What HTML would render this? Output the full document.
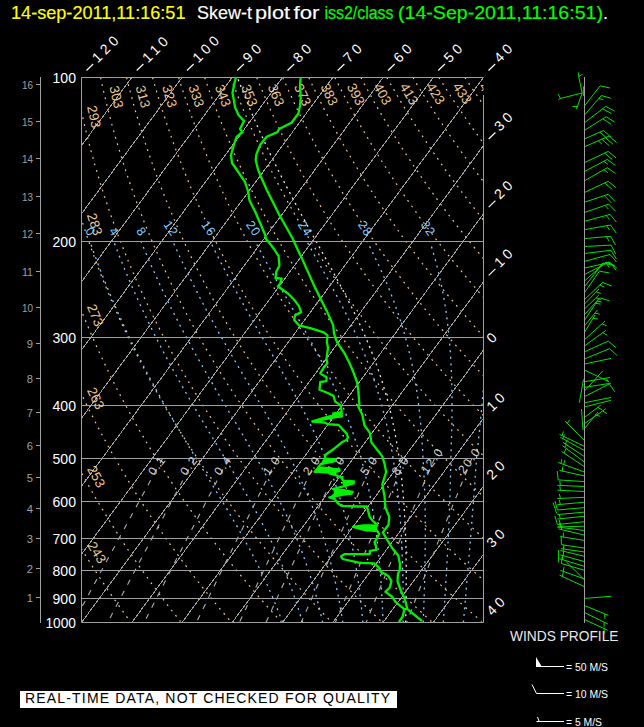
<!DOCTYPE html>
<html><head><meta charset="utf-8"><style>
html,body{margin:0;padding:0;background:#000;width:644px;height:727px;overflow:hidden}
svg{display:block;font-family:"Liberation Sans",sans-serif}
.t{position:absolute;white-space:nowrap;font-family:"Liberation Sans",sans-serif}
</style></head><body>
<svg width="644" height="727" viewBox="0 0 644 727">
<text x="11" y="18.7" font-size="18" fill="#ffff00" stroke="#ffff00" stroke-width="0.15" textLength="174.5" lengthAdjust="spacingAndGlyphs">14-sep-2011,11:16:51</text>
<text x="197" y="18.5" font-size="18" fill="#fff" stroke="#fff" stroke-width="0.15" textLength="55" lengthAdjust="spacingAndGlyphs">Skew-t</text>
<text x="255" y="18.5" font-size="18" fill="#fff" stroke="#fff" stroke-width="0.15" textLength="35" lengthAdjust="spacingAndGlyphs">plot</text>
<text x="293.5" y="18.5" font-size="18" fill="#fff" stroke="#fff" stroke-width="0.15" textLength="26" lengthAdjust="spacingAndGlyphs">for</text>
<text x="324.5" y="18.5" font-size="18" fill="#00ff00" stroke="#00ff00" stroke-width="0.15" textLength="69" lengthAdjust="spacingAndGlyphs">iss2/class</text>
<text x="398" y="18.5" font-size="18" fill="#00ff00" stroke="#00ff00" stroke-width="0.15" textLength="205" lengthAdjust="spacingAndGlyphs">(14-Sep-2011,11:16:51)</text>
<text x="603" y="18.5" font-size="18" fill="#fff" stroke="#fff" stroke-width="0.15">.</text>
<defs><clipPath id="box"><rect x="81.5" y="77.5" width="402.0" height="545.0"/></clipPath></defs>
<g clip-path="url(#box)">
<polyline points="-81.6,77.5 -81.7,79.9 -81.7,82.2 -81.7,84.6 -81.7,86.9 -81.6,89.3 -81.6,91.6 -81.6,94.0 -81.6,96.3 -81.6,98.7 -81.5,101.1 -81.5,103.4 -81.4,105.8 -81.4,108.1 -81.3,110.5 -81.3,112.8 -81.2,115.2 -81.1,117.5 -81.1,119.9 -81.0,122.2 -80.9,124.6 -80.8,127.0 -80.7,129.3 -80.6,131.7 -80.5,134.0 -80.4,136.4 -80.3,138.7 -80.2,141.1 -80.0,143.4 -79.9,145.8 -79.8,148.2 -79.6,150.5 -79.5,152.9 -79.3,155.2 -79.2,157.6 -79.0,159.9 -78.8,162.3 -78.7,164.6 -78.5,167.0 -78.3,169.4 -78.1,171.7 -77.9,174.1 -77.7,176.4 -77.5,178.8 -77.3,181.1 -77.1,183.5 -76.8,185.8 -76.6,188.2 -76.4,190.5 -76.1,192.9 -75.9,195.3 -75.6,197.6 -75.4,200.0 -75.1,202.3 -74.8,204.7 -74.5,207.0 -74.3,209.4 -74.0,211.7 -73.7,214.1 -73.4,216.5 -73.1,218.8 -72.8,221.2 -72.5,223.5 -72.1,225.9 -71.8,228.2 -71.5,230.6 -71.1,232.9 -70.8,235.3 -70.4,237.7 -70.1,240.0 -69.7,242.4 -69.3,244.7 -69.0,247.1 -68.6,249.4 -68.2,251.8 -67.8,254.1 -67.4,256.5 -67.0,258.8 -66.6,261.2 -66.2,263.6 -65.7,265.9 -65.3,268.3 -64.9,270.6 -64.4,273.0 -64.0,275.3 -63.5,277.7 -63.1,280.0 -62.6,282.4 -62.1,284.8 -61.7,287.1 -61.2,289.5 -60.7,291.8 -60.2,294.2 -59.7,296.5 -59.2,298.9 -58.6,301.2 -58.1,303.6 -57.6,305.9 -57.0,308.3 -56.5,310.7 -56.0,313.0 -55.4,315.4 -54.8,317.7 -54.3,320.1 -53.7,322.4 -53.1,324.8 -52.5,327.1 -51.9,329.5 -51.3,331.9 -50.7,334.2 -50.1,336.6 -49.5,338.9 -48.8,341.3 -48.2,343.6 -47.6,346.0 -46.9,348.3 -46.2,350.7 -45.6,353.1 -44.9,355.4 -44.2,357.8 -43.6,360.1 -42.9,362.5 -42.2,364.8 -41.5,367.2 -40.7,369.5 -40.0,371.9 -39.3,374.2 -38.6,376.6 -37.8,379.0 -37.1,381.3 -36.3,383.7 -35.6,386.0 -34.8,388.4 -34.0,390.7 -33.2,393.1 -32.4,395.4 -31.7,397.8 -30.8,400.2 -30.0,402.5 -29.2,404.9 -28.4,407.2 -27.6,409.6 -26.7,411.9 -25.9,414.3 -25.0,416.6 -24.2,419.0 -23.3,421.4 -22.4,423.7 -21.5,426.1 -20.6,428.4 -19.7,430.8 -18.8,433.1 -17.9,435.5 -17.0,437.8 -16.1,440.2 -15.1,442.5 -14.2,444.9 -13.2,447.3 -12.3,449.6 -11.3,452.0 -10.3,454.3 -9.3,456.7 -8.3,459.0 -7.3,461.4 -6.3,463.7 -5.3,466.1 -4.3,468.5 -3.3,470.8 -2.2,473.2 -1.2,475.5 -0.1,477.9 0.9,480.2 2.0,482.6 3.1,484.9 4.2,487.3 5.3,489.7 6.4,492.0 7.5,494.4 8.6,496.7 9.7,499.1 10.9,501.4 12.0,503.8 13.2,506.1 14.3,508.5 15.5,510.8 16.7,513.2 17.8,515.6 19.0,517.9 20.2,520.3 21.4,522.6 22.7,525.0 23.9,527.3 25.1,529.7 26.4,532.0 27.6,534.4 28.9,536.8 30.1,539.1 31.4,541.5 32.7,543.8 34.0,546.2 35.3,548.5 36.6,550.9 37.9,553.2 39.3,555.6 40.6,558.0 41.9,560.3 43.3,562.7 44.7,565.0 46.0,567.4 47.4,569.7 48.8,572.1 50.2,574.4 51.6,576.8 53.0,579.1 54.5,581.5 55.9,583.9 57.3,586.2 58.8,588.6 60.3,590.9 61.7,593.3 63.2,595.6 64.7,598.0 66.2,600.3 67.7,602.7 69.2,605.1 70.7,607.4 72.3,609.8 73.8,612.1 75.4,614.5 76.9,616.8 78.5,619.2 80.1,621.5" fill="none" stroke="#f0c890" stroke-width="1.2" stroke-dasharray="1.8 5"/>
<polyline points="-55.6,77.5 -55.5,79.9 -55.5,82.2 -55.4,84.6 -55.3,86.9 -55.2,89.3 -55.2,91.6 -55.1,94.0 -55.0,96.3 -54.9,98.7 -54.7,101.1 -54.6,103.4 -54.5,105.8 -54.4,108.1 -54.3,110.5 -54.1,112.8 -54.0,115.2 -53.8,117.5 -53.7,119.9 -53.5,122.2 -53.4,124.6 -53.2,127.0 -53.0,129.3 -52.8,131.7 -52.6,134.0 -52.5,136.4 -52.3,138.7 -52.1,141.1 -51.9,143.4 -51.6,145.8 -51.4,148.2 -51.2,150.5 -51.0,152.9 -50.7,155.2 -50.5,157.6 -50.2,159.9 -50.0,162.3 -49.7,164.6 -49.5,167.0 -49.2,169.4 -48.9,171.7 -48.7,174.1 -48.4,176.4 -48.1,178.8 -47.8,181.1 -47.5,183.5 -47.2,185.8 -46.8,188.2 -46.5,190.5 -46.2,192.9 -45.9,195.3 -45.5,197.6 -45.2,200.0 -44.8,202.3 -44.5,204.7 -44.1,207.0 -43.7,209.4 -43.4,211.7 -43.0,214.1 -42.6,216.5 -42.2,218.8 -41.8,221.2 -41.4,223.5 -41.0,225.9 -40.6,228.2 -40.2,230.6 -39.7,232.9 -39.3,235.3 -38.9,237.7 -38.4,240.0 -38.0,242.4 -37.5,244.7 -37.0,247.1 -36.6,249.4 -36.1,251.8 -35.6,254.1 -35.1,256.5 -34.6,258.8 -34.1,261.2 -33.6,263.6 -33.1,265.9 -32.6,268.3 -32.0,270.6 -31.5,273.0 -30.9,275.3 -30.4,277.7 -29.8,280.0 -29.3,282.4 -28.7,284.8 -28.1,287.1 -27.6,289.5 -27.0,291.8 -26.4,294.2 -25.8,296.5 -25.2,298.9 -24.5,301.2 -23.9,303.6 -23.3,305.9 -22.7,308.3 -22.0,310.7 -21.4,313.0 -20.7,315.4 -20.1,317.7 -19.4,320.1 -18.7,322.4 -18.0,324.8 -17.3,327.1 -16.6,329.5 -15.9,331.9 -15.2,334.2 -14.5,336.6 -13.8,338.9 -13.0,341.3 -12.3,343.6 -11.6,346.0 -10.8,348.3 -10.1,350.7 -9.3,353.1 -8.5,355.4 -7.7,357.8 -6.9,360.1 -6.1,362.5 -5.3,364.8 -4.5,367.2 -3.7,369.5 -2.9,371.9 -2.1,374.2 -1.2,376.6 -0.4,379.0 0.5,381.3 1.3,383.7 2.2,386.0 3.1,388.4 4.0,390.7 4.9,393.1 5.8,395.4 6.7,397.8 7.6,400.2 8.5,402.5 9.4,404.9 10.4,407.2 11.3,409.6 12.3,411.9 13.2,414.3 14.2,416.6 15.2,419.0 16.1,421.4 17.1,423.7 18.1,426.1 19.1,428.4 20.1,430.8 21.2,433.1 22.2,435.5 23.2,437.8 24.3,440.2 25.3,442.5 26.4,444.9 27.5,447.3 28.5,449.6 29.6,452.0 30.7,454.3 31.8,456.7 32.9,459.0 34.0,461.4 35.2,463.7 36.3,466.1 37.4,468.5 38.6,470.8 39.7,473.2 40.9,475.5 42.1,477.9 43.3,480.2 44.4,482.6 45.6,484.9 46.9,487.3 48.1,489.7 49.3,492.0 50.5,494.4 51.8,496.7 53.0,499.1 54.3,501.4 55.5,503.8 56.8,506.1 58.1,508.5 59.4,510.8 60.7,513.2 62.0,515.6 63.3,517.9 64.6,520.3 66.0,522.6 67.3,525.0 68.7,527.3 70.0,529.7 71.4,532.0 72.8,534.4 74.2,536.8 75.6,539.1 77.0,541.5 78.4,543.8 79.8,546.2 81.3,548.5 82.7,550.9 84.1,553.2 85.6,555.6 87.1,558.0 88.6,560.3 90.0,562.7 91.5,565.0 93.0,567.4 94.6,569.7 96.1,572.1 97.6,574.4 99.2,576.8 100.7,579.1 102.3,581.5 103.9,583.9 105.4,586.2 107.0,588.6 108.6,590.9 110.2,593.3 111.8,595.6 113.5,598.0 115.1,600.3 116.8,602.7 118.4,605.1 120.1,607.4 121.8,609.8 123.4,612.1 125.1,614.5 126.8,616.8 128.6,619.2 130.3,621.5" fill="none" stroke="#f0c890" stroke-width="1.2" stroke-dasharray="1.8 5"/>
<polyline points="-29.6,77.5 -29.4,79.9 -29.3,82.2 -29.2,84.6 -29.0,86.9 -28.8,89.3 -28.7,91.6 -28.5,94.0 -28.3,96.3 -28.2,98.7 -28.0,101.1 -27.8,103.4 -27.6,105.8 -27.4,108.1 -27.2,110.5 -27.0,112.8 -26.7,115.2 -26.5,117.5 -26.3,119.9 -26.0,122.2 -25.8,124.6 -25.6,127.0 -25.3,129.3 -25.0,131.7 -24.8,134.0 -24.5,136.4 -24.2,138.7 -24.0,141.1 -23.7,143.4 -23.4,145.8 -23.1,148.2 -22.8,150.5 -22.5,152.9 -22.1,155.2 -21.8,157.6 -21.5,159.9 -21.2,162.3 -20.8,164.6 -20.5,167.0 -20.1,169.4 -19.8,171.7 -19.4,174.1 -19.0,176.4 -18.7,178.8 -18.3,181.1 -17.9,183.5 -17.5,185.8 -17.1,188.2 -16.7,190.5 -16.3,192.9 -15.9,195.3 -15.4,197.6 -15.0,200.0 -14.6,202.3 -14.1,204.7 -13.7,207.0 -13.2,209.4 -12.8,211.7 -12.3,214.1 -11.8,216.5 -11.3,218.8 -10.9,221.2 -10.4,223.5 -9.9,225.9 -9.4,228.2 -8.9,230.6 -8.3,232.9 -7.8,235.3 -7.3,237.7 -6.7,240.0 -6.2,242.4 -5.6,244.7 -5.1,247.1 -4.5,249.4 -4.0,251.8 -3.4,254.1 -2.8,256.5 -2.2,258.8 -1.6,261.2 -1.0,263.6 -0.4,265.9 0.2,268.3 0.8,270.6 1.5,273.0 2.1,275.3 2.7,277.7 3.4,280.0 4.1,282.4 4.7,284.8 5.4,287.1 6.1,289.5 6.7,291.8 7.4,294.2 8.1,296.5 8.8,298.9 9.6,301.2 10.3,303.6 11.0,305.9 11.7,308.3 12.5,310.7 13.2,313.0 14.0,315.4 14.7,317.7 15.5,320.1 16.3,322.4 17.1,324.8 17.8,327.1 18.6,329.5 19.4,331.9 20.3,334.2 21.1,336.6 21.9,338.9 22.7,341.3 23.6,343.6 24.4,346.0 25.3,348.3 26.1,350.7 27.0,353.1 27.9,355.4 28.8,357.8 29.7,360.1 30.6,362.5 31.5,364.8 32.4,367.2 33.3,369.5 34.2,371.9 35.2,374.2 36.1,376.6 37.1,379.0 38.0,381.3 39.0,383.7 40.0,386.0 41.0,388.4 42.0,390.7 43.0,393.1 44.0,395.4 45.0,397.8 46.0,400.2 47.0,402.5 48.1,404.9 49.1,407.2 50.2,409.6 51.2,411.9 52.3,414.3 53.4,416.6 54.5,419.0 55.6,421.4 56.7,423.7 57.8,426.1 58.9,428.4 60.0,430.8 61.1,433.1 62.3,435.5 63.4,437.8 64.6,440.2 65.8,442.5 66.9,444.9 68.1,447.3 69.3,449.6 70.5,452.0 71.7,454.3 72.9,456.7 74.2,459.0 75.4,461.4 76.6,463.7 77.9,466.1 79.2,468.5 80.4,470.8 81.7,473.2 83.0,475.5 84.3,477.9 85.6,480.2 86.9,482.6 88.2,484.9 89.5,487.3 90.9,489.7 92.2,492.0 93.6,494.4 94.9,496.7 96.3,499.1 97.7,501.4 99.1,503.8 100.5,506.1 101.9,508.5 103.3,510.8 104.7,513.2 106.2,515.6 107.6,517.9 109.1,520.3 110.5,522.6 112.0,525.0 113.5,527.3 115.0,529.7 116.5,532.0 118.0,534.4 119.5,536.8 121.0,539.1 122.6,541.5 124.1,543.8 125.7,546.2 127.2,548.5 128.8,550.9 130.4,553.2 132.0,555.6 133.6,558.0 135.2,560.3 136.8,562.7 138.4,565.0 140.1,567.4 141.7,569.7 143.4,572.1 145.0,574.4 146.7,576.8 148.4,579.1 150.1,581.5 151.8,583.9 153.5,586.2 155.3,588.6 157.0,590.9 158.7,593.3 160.5,595.6 162.3,598.0 164.0,600.3 165.8,602.7 167.6,605.1 169.4,607.4 171.2,609.8 173.1,612.1 174.9,614.5 176.8,616.8 178.6,619.2 180.5,621.5" fill="none" stroke="#f0c890" stroke-width="1.2" stroke-dasharray="1.8 5"/>
<polyline points="-3.6,77.5 -3.3,79.9 -3.1,82.2 -2.9,84.6 -2.7,86.9 -2.4,89.3 -2.2,91.6 -2.0,94.0 -1.7,96.3 -1.5,98.7 -1.2,101.1 -0.9,103.4 -0.6,105.8 -0.4,108.1 -0.1,110.5 0.2,112.8 0.5,115.2 0.8,117.5 1.1,119.9 1.4,122.2 1.7,124.6 2.1,127.0 2.4,129.3 2.7,131.7 3.1,134.0 3.4,136.4 3.8,138.7 4.1,141.1 4.5,143.4 4.9,145.8 5.3,148.2 5.7,150.5 6.0,152.9 6.4,155.2 6.8,157.6 7.3,159.9 7.7,162.3 8.1,164.6 8.5,167.0 9.0,169.4 9.4,171.7 9.8,174.1 10.3,176.4 10.8,178.8 11.2,181.1 11.7,183.5 12.2,185.8 12.6,188.2 13.1,190.5 13.6,192.9 14.1,195.3 14.6,197.6 15.2,200.0 15.7,202.3 16.2,204.7 16.7,207.0 17.3,209.4 17.8,211.7 18.4,214.1 19.0,216.5 19.5,218.8 20.1,221.2 20.7,223.5 21.3,225.9 21.9,228.2 22.5,230.6 23.1,232.9 23.7,235.3 24.3,237.7 24.9,240.0 25.6,242.4 26.2,244.7 26.8,247.1 27.5,249.4 28.2,251.8 28.8,254.1 29.5,256.5 30.2,258.8 30.9,261.2 31.6,263.6 32.3,265.9 33.0,268.3 33.7,270.6 34.4,273.0 35.2,275.3 35.9,277.7 36.6,280.0 37.4,282.4 38.1,284.8 38.9,287.1 39.7,289.5 40.5,291.8 41.2,294.2 42.0,296.5 42.8,298.9 43.7,301.2 44.5,303.6 45.3,305.9 46.1,308.3 47.0,310.7 47.8,313.0 48.7,315.4 49.5,317.7 50.4,320.1 51.3,322.4 52.1,324.8 53.0,327.1 53.9,329.5 54.8,331.9 55.7,334.2 56.7,336.6 57.6,338.9 58.5,341.3 59.5,343.6 60.4,346.0 61.4,348.3 62.3,350.7 63.3,353.1 64.3,355.4 65.3,357.8 66.3,360.1 67.3,362.5 68.3,364.8 69.3,367.2 70.3,369.5 71.4,371.9 72.4,374.2 73.5,376.6 74.5,379.0 75.6,381.3 76.7,383.7 77.8,386.0 78.8,388.4 79.9,390.7 81.0,393.1 82.2,395.4 83.3,397.8 84.4,400.2 85.6,402.5 86.7,404.9 87.9,407.2 89.0,409.6 90.2,411.9 91.4,414.3 92.6,416.6 93.8,419.0 95.0,421.4 96.2,423.7 97.4,426.1 98.6,428.4 99.9,430.8 101.1,433.1 102.4,435.5 103.6,437.8 104.9,440.2 106.2,442.5 107.5,444.9 108.8,447.3 110.1,449.6 111.4,452.0 112.7,454.3 114.1,456.7 115.4,459.0 116.8,461.4 118.1,463.7 119.5,466.1 120.9,468.5 122.3,470.8 123.7,473.2 125.1,475.5 126.5,477.9 127.9,480.2 129.3,482.6 130.8,484.9 132.2,487.3 133.7,489.7 135.1,492.0 136.6,494.4 138.1,496.7 139.6,499.1 141.1,501.4 142.6,503.8 144.1,506.1 145.7,508.5 147.2,510.8 148.8,513.2 150.3,515.6 151.9,517.9 153.5,520.3 155.1,522.6 156.7,525.0 158.3,527.3 159.9,529.7 161.5,532.0 163.2,534.4 164.8,536.8 166.5,539.1 168.1,541.5 169.8,543.8 171.5,546.2 173.2,548.5 174.9,550.9 176.6,553.2 178.3,555.6 180.0,558.0 181.8,560.3 183.5,562.7 185.3,565.0 187.1,567.4 188.9,569.7 190.7,572.1 192.5,574.4 194.3,576.8 196.1,579.1 197.9,581.5 199.8,583.9 201.6,586.2 203.5,588.6 205.4,590.9 207.2,593.3 209.1,595.6 211.0,598.0 213.0,600.3 214.9,602.7 216.8,605.1 218.8,607.4 220.7,609.8 222.7,612.1 224.7,614.5 226.7,616.8 228.7,619.2 230.7,621.5" fill="none" stroke="#f0c890" stroke-width="1.2" stroke-dasharray="1.8 5"/>
<polyline points="22.5,77.5 22.8,79.9 23.0,82.2 23.3,84.6 23.6,86.9 24.0,89.3 24.3,91.6 24.6,94.0 24.9,96.3 25.2,98.7 25.6,101.1 25.9,103.4 26.3,105.8 26.6,108.1 27.0,110.5 27.4,112.8 27.7,115.2 28.1,117.5 28.5,119.9 28.9,122.2 29.3,124.6 29.7,127.0 30.1,129.3 30.5,131.7 30.9,134.0 31.4,136.4 31.8,138.7 32.3,141.1 32.7,143.4 33.2,145.8 33.6,148.2 34.1,150.5 34.6,152.9 35.0,155.2 35.5,157.6 36.0,159.9 36.5,162.3 37.0,164.6 37.5,167.0 38.0,169.4 38.6,171.7 39.1,174.1 39.6,176.4 40.2,178.8 40.7,181.1 41.3,183.5 41.8,185.8 42.4,188.2 43.0,190.5 43.6,192.9 44.1,195.3 44.7,197.6 45.3,200.0 45.9,202.3 46.6,204.7 47.2,207.0 47.8,209.4 48.4,211.7 49.1,214.1 49.7,216.5 50.4,218.8 51.1,221.2 51.7,223.5 52.4,225.9 53.1,228.2 53.8,230.6 54.5,232.9 55.2,235.3 55.9,237.7 56.6,240.0 57.3,242.4 58.0,244.7 58.8,247.1 59.5,249.4 60.3,251.8 61.0,254.1 61.8,256.5 62.6,258.8 63.4,261.2 64.2,263.6 64.9,265.9 65.7,268.3 66.6,270.6 67.4,273.0 68.2,275.3 69.0,277.7 69.9,280.0 70.7,282.4 71.6,284.8 72.4,287.1 73.3,289.5 74.2,291.8 75.1,294.2 75.9,296.5 76.8,298.9 77.7,301.2 78.7,303.6 79.6,305.9 80.5,308.3 81.4,310.7 82.4,313.0 83.3,315.4 84.3,317.7 85.3,320.1 86.2,322.4 87.2,324.8 88.2,327.1 89.2,329.5 90.2,331.9 91.2,334.2 92.2,336.6 93.3,338.9 94.3,341.3 95.4,343.6 96.4,346.0 97.5,348.3 98.5,350.7 99.6,353.1 100.7,355.4 101.8,357.8 102.9,360.1 104.0,362.5 105.1,364.8 106.2,367.2 107.4,369.5 108.5,371.9 109.7,374.2 110.8,376.6 112.0,379.0 113.2,381.3 114.3,383.7 115.5,386.0 116.7,388.4 117.9,390.7 119.1,393.1 120.4,395.4 121.6,397.8 122.8,400.2 124.1,402.5 125.3,404.9 126.6,407.2 127.9,409.6 129.2,411.9 130.5,414.3 131.8,416.6 133.1,419.0 134.4,421.4 135.7,423.7 137.0,426.1 138.4,428.4 139.7,430.8 141.1,433.1 142.5,435.5 143.9,437.8 145.2,440.2 146.6,442.5 148.0,444.9 149.5,447.3 150.9,449.6 152.3,452.0 153.8,454.3 155.2,456.7 156.7,459.0 158.1,461.4 159.6,463.7 161.1,466.1 162.6,468.5 164.1,470.8 165.6,473.2 167.1,475.5 168.7,477.9 170.2,480.2 171.8,482.6 173.3,484.9 174.9,487.3 176.5,489.7 178.1,492.0 179.7,494.4 181.3,496.7 182.9,499.1 184.5,501.4 186.2,503.8 187.8,506.1 189.5,508.5 191.1,510.8 192.8,513.2 194.5,515.6 196.2,517.9 197.9,520.3 199.6,522.6 201.3,525.0 203.1,527.3 204.8,529.7 206.6,532.0 208.3,534.4 210.1,536.8 211.9,539.1 213.7,541.5 215.5,543.8 217.3,546.2 219.1,548.5 221.0,550.9 222.8,553.2 224.7,555.6 226.5,558.0 228.4,560.3 230.3,562.7 232.2,565.0 234.1,567.4 236.0,569.7 237.9,572.1 239.9,574.4 241.8,576.8 243.8,579.1 245.8,581.5 247.7,583.9 249.7,586.2 251.7,588.6 253.7,590.9 255.8,593.3 257.8,595.6 259.8,598.0 261.9,600.3 264.0,602.7 266.0,605.1 268.1,607.4 270.2,609.8 272.3,612.1 274.4,614.5 276.6,616.8 278.7,619.2 280.9,621.5" fill="none" stroke="#f0c890" stroke-width="1.2" stroke-dasharray="1.8 5"/>
<polyline points="48.5,77.5 48.9,79.9 49.2,82.2 49.6,84.6 50.0,86.9 50.4,89.3 50.7,91.6 51.1,94.0 51.5,96.3 52.0,98.7 52.4,101.1 52.8,103.4 53.2,105.8 53.6,108.1 54.1,110.5 54.5,112.8 55.0,115.2 55.4,117.5 55.9,119.9 56.4,122.2 56.8,124.6 57.3,127.0 57.8,129.3 58.3,131.7 58.8,134.0 59.3,136.4 59.8,138.7 60.4,141.1 60.9,143.4 61.4,145.8 62.0,148.2 62.5,150.5 63.1,152.9 63.6,155.2 64.2,157.6 64.8,159.9 65.3,162.3 65.9,164.6 66.5,167.0 67.1,169.4 67.7,171.7 68.3,174.1 68.9,176.4 69.6,178.8 70.2,181.1 70.8,183.5 71.5,185.8 72.1,188.2 72.8,190.5 73.5,192.9 74.1,195.3 74.8,197.6 75.5,200.0 76.2,202.3 76.9,204.7 77.6,207.0 78.3,209.4 79.1,211.7 79.8,214.1 80.5,216.5 81.3,218.8 82.0,221.2 82.8,223.5 83.5,225.9 84.3,228.2 85.1,230.6 85.9,232.9 86.7,235.3 87.5,237.7 88.3,240.0 89.1,242.4 89.9,244.7 90.7,247.1 91.6,249.4 92.4,251.8 93.3,254.1 94.1,256.5 95.0,258.8 95.9,261.2 96.7,263.6 97.6,265.9 98.5,268.3 99.4,270.6 100.3,273.0 101.2,275.3 102.2,277.7 103.1,280.0 104.0,282.4 105.0,284.8 106.0,287.1 106.9,289.5 107.9,291.8 108.9,294.2 109.9,296.5 110.8,298.9 111.8,301.2 112.9,303.6 113.9,305.9 114.9,308.3 115.9,310.7 117.0,313.0 118.0,315.4 119.1,317.7 120.1,320.1 121.2,322.4 122.3,324.8 123.4,327.1 124.5,329.5 125.6,331.9 126.7,334.2 127.8,336.6 129.0,338.9 130.1,341.3 131.2,343.6 132.4,346.0 133.6,348.3 134.7,350.7 135.9,353.1 137.1,355.4 138.3,357.8 139.5,360.1 140.7,362.5 141.9,364.8 143.2,367.2 144.4,369.5 145.6,371.9 146.9,374.2 148.2,376.6 149.4,379.0 150.7,381.3 152.0,383.7 153.3,386.0 154.6,388.4 155.9,390.7 157.2,393.1 158.6,395.4 159.9,397.8 161.3,400.2 162.6,402.5 164.0,404.9 165.4,407.2 166.7,409.6 168.1,411.9 169.5,414.3 171.0,416.6 172.4,419.0 173.8,421.4 175.2,423.7 176.7,426.1 178.1,428.4 179.6,430.8 181.1,433.1 182.6,435.5 184.1,437.8 185.6,440.2 187.1,442.5 188.6,444.9 190.1,447.3 191.7,449.6 193.2,452.0 194.8,454.3 196.3,456.7 197.9,459.0 199.5,461.4 201.1,463.7 202.7,466.1 204.3,468.5 205.9,470.8 207.6,473.2 209.2,475.5 210.9,477.9 212.5,480.2 214.2,482.6 215.9,484.9 217.6,487.3 219.3,489.7 221.0,492.0 222.7,494.4 224.5,496.7 226.2,499.1 227.9,501.4 229.7,503.8 231.5,506.1 233.3,508.5 235.0,510.8 236.9,513.2 238.7,515.6 240.5,517.9 242.3,520.3 244.2,522.6 246.0,525.0 247.9,527.3 249.7,529.7 251.6,532.0 253.5,534.4 255.4,536.8 257.3,539.1 259.3,541.5 261.2,543.8 263.1,546.2 265.1,548.5 267.1,550.9 269.0,553.2 271.0,555.6 273.0,558.0 275.0,560.3 277.0,562.7 279.1,565.0 281.1,567.4 283.2,569.7 285.2,572.1 287.3,574.4 289.4,576.8 291.5,579.1 293.6,581.5 295.7,583.9 297.8,586.2 300.0,588.6 302.1,590.9 304.3,593.3 306.4,595.6 308.6,598.0 310.8,600.3 313.0,602.7 315.2,605.1 317.5,607.4 319.7,609.8 321.9,612.1 324.2,614.5 326.5,616.8 328.8,619.2 331.1,621.5" fill="none" stroke="#f0c890" stroke-width="1.2" stroke-dasharray="1.8 5"/>
<polyline points="74.5,77.5 75.0,79.9 75.4,82.2 75.8,84.6 76.3,86.9 76.8,89.3 77.2,91.6 77.7,94.0 78.2,96.3 78.7,98.7 79.1,101.1 79.6,103.4 80.1,105.8 80.7,108.1 81.2,110.5 81.7,112.8 82.2,115.2 82.8,117.5 83.3,119.9 83.8,122.2 84.4,124.6 85.0,127.0 85.5,129.3 86.1,131.7 86.7,134.0 87.3,136.4 87.9,138.7 88.5,141.1 89.1,143.4 89.7,145.8 90.3,148.2 90.9,150.5 91.6,152.9 92.2,155.2 92.9,157.6 93.5,159.9 94.2,162.3 94.8,164.6 95.5,167.0 96.2,169.4 96.9,171.7 97.6,174.1 98.3,176.4 99.0,178.8 99.7,181.1 100.4,183.5 101.2,185.8 101.9,188.2 102.6,190.5 103.4,192.9 104.1,195.3 104.9,197.6 105.7,200.0 106.5,202.3 107.3,204.7 108.0,207.0 108.8,209.4 109.7,211.7 110.5,214.1 111.3,216.5 112.1,218.8 113.0,221.2 113.8,223.5 114.7,225.9 115.5,228.2 116.4,230.6 117.3,232.9 118.1,235.3 119.0,237.7 119.9,240.0 120.8,242.4 121.7,244.7 122.7,247.1 123.6,249.4 124.5,251.8 125.5,254.1 126.4,256.5 127.4,258.8 128.3,261.2 129.3,263.6 130.3,265.9 131.3,268.3 132.3,270.6 133.3,273.0 134.3,275.3 135.3,277.7 136.3,280.0 137.4,282.4 138.4,284.8 139.5,287.1 140.5,289.5 141.6,291.8 142.7,294.2 143.8,296.5 144.8,298.9 145.9,301.2 147.1,303.6 148.2,305.9 149.3,308.3 150.4,310.7 151.6,313.0 152.7,315.4 153.9,317.7 155.0,320.1 156.2,322.4 157.4,324.8 158.6,327.1 159.8,329.5 161.0,331.9 162.2,334.2 163.4,336.6 164.6,338.9 165.9,341.3 167.1,343.6 168.4,346.0 169.7,348.3 170.9,350.7 172.2,353.1 173.5,355.4 174.8,357.8 176.1,360.1 177.4,362.5 178.7,364.8 180.1,367.2 181.4,369.5 182.8,371.9 184.1,374.2 185.5,376.6 186.9,379.0 188.3,381.3 189.7,383.7 191.1,386.0 192.5,388.4 193.9,390.7 195.3,393.1 196.8,395.4 198.2,397.8 199.7,400.2 201.2,402.5 202.6,404.9 204.1,407.2 205.6,409.6 207.1,411.9 208.6,414.3 210.2,416.6 211.7,419.0 213.2,421.4 214.8,423.7 216.3,426.1 217.9,428.4 219.5,430.8 221.1,433.1 222.7,435.5 224.3,437.8 225.9,440.2 227.5,442.5 229.2,444.9 230.8,447.3 232.5,449.6 234.1,452.0 235.8,454.3 237.5,456.7 239.2,459.0 240.9,461.4 242.6,463.7 244.3,466.1 246.0,468.5 247.8,470.8 249.5,473.2 251.3,475.5 253.1,477.9 254.9,480.2 256.7,482.6 258.5,484.9 260.3,487.3 262.1,489.7 263.9,492.0 265.8,494.4 267.6,496.7 269.5,499.1 271.4,501.4 273.2,503.8 275.1,506.1 277.0,508.5 279.0,510.8 280.9,513.2 282.8,515.6 284.8,517.9 286.7,520.3 288.7,522.6 290.7,525.0 292.7,527.3 294.7,529.7 296.7,532.0 298.7,534.4 300.7,536.8 302.8,539.1 304.8,541.5 306.9,543.8 309.0,546.2 311.0,548.5 313.1,550.9 315.2,553.2 317.4,555.6 319.5,558.0 321.6,560.3 323.8,562.7 326.0,565.0 328.1,567.4 330.3,569.7 332.5,572.1 334.7,574.4 336.9,576.8 339.2,579.1 341.4,581.5 343.7,583.9 345.9,586.2 348.2,588.6 350.5,590.9 352.8,593.3 355.1,595.6 357.4,598.0 359.7,600.3 362.1,602.7 364.4,605.1 366.8,607.4 369.2,609.8 371.6,612.1 374.0,614.5 376.4,616.8 378.8,619.2 381.2,621.5" fill="none" stroke="#f0c890" stroke-width="1.2" stroke-dasharray="1.8 5"/>
<polyline points="100.6,77.5 101.1,79.9 101.6,82.2 102.1,84.6 102.6,86.9 103.2,89.3 103.7,91.6 104.2,94.0 104.8,96.3 105.4,98.7 105.9,101.1 106.5,103.4 107.1,105.8 107.7,108.1 108.3,110.5 108.9,112.8 109.5,115.2 110.1,117.5 110.7,119.9 111.3,122.2 111.9,124.6 112.6,127.0 113.2,129.3 113.9,131.7 114.5,134.0 115.2,136.4 115.9,138.7 116.6,141.1 117.3,143.4 117.9,145.8 118.6,148.2 119.4,150.5 120.1,152.9 120.8,155.2 121.5,157.6 122.3,159.9 123.0,162.3 123.8,164.6 124.5,167.0 125.3,169.4 126.0,171.7 126.8,174.1 127.6,176.4 128.4,178.8 129.2,181.1 130.0,183.5 130.8,185.8 131.6,188.2 132.5,190.5 133.3,192.9 134.2,195.3 135.0,197.6 135.9,200.0 136.7,202.3 137.6,204.7 138.5,207.0 139.4,209.4 140.3,211.7 141.2,214.1 142.1,216.5 143.0,218.8 143.9,221.2 144.9,223.5 145.8,225.9 146.7,228.2 147.7,230.6 148.7,232.9 149.6,235.3 150.6,237.7 151.6,240.0 152.6,242.4 153.6,244.7 154.6,247.1 155.6,249.4 156.6,251.8 157.7,254.1 158.7,256.5 159.8,258.8 160.8,261.2 161.9,263.6 163.0,265.9 164.1,268.3 165.1,270.6 166.2,273.0 167.3,275.3 168.5,277.7 169.6,280.0 170.7,282.4 171.8,284.8 173.0,287.1 174.1,289.5 175.3,291.8 176.5,294.2 177.7,296.5 178.8,298.9 180.0,301.2 181.2,303.6 182.5,305.9 183.7,308.3 184.9,310.7 186.1,313.0 187.4,315.4 188.6,317.7 189.9,320.1 191.2,322.4 192.5,324.8 193.8,327.1 195.0,329.5 196.4,331.9 197.7,334.2 199.0,336.6 200.3,338.9 201.7,341.3 203.0,343.6 204.4,346.0 205.7,348.3 207.1,350.7 208.5,353.1 209.9,355.4 211.3,357.8 212.7,360.1 214.1,362.5 215.6,364.8 217.0,367.2 218.4,369.5 219.9,371.9 221.4,374.2 222.8,376.6 224.3,379.0 225.8,381.3 227.3,383.7 228.8,386.0 230.4,388.4 231.9,390.7 233.4,393.1 235.0,395.4 236.5,397.8 238.1,400.2 239.7,402.5 241.3,404.9 242.9,407.2 244.5,409.6 246.1,411.9 247.7,414.3 249.3,416.6 251.0,419.0 252.6,421.4 254.3,423.7 256.0,426.1 257.7,428.4 259.4,430.8 261.1,433.1 262.8,435.5 264.5,437.8 266.2,440.2 268.0,442.5 269.7,444.9 271.5,447.3 273.2,449.6 275.0,452.0 276.8,454.3 278.6,456.7 280.4,459.0 282.2,461.4 284.1,463.7 285.9,466.1 287.8,468.5 289.6,470.8 291.5,473.2 293.4,475.5 295.3,477.9 297.2,480.2 299.1,482.6 301.0,484.9 303.0,487.3 304.9,489.7 306.9,492.0 308.8,494.4 310.8,496.7 312.8,499.1 314.8,501.4 316.8,503.8 318.8,506.1 320.8,508.5 322.9,510.8 324.9,513.2 327.0,515.6 329.1,517.9 331.1,520.3 333.2,522.6 335.3,525.0 337.5,527.3 339.6,529.7 341.7,532.0 343.9,534.4 346.0,536.8 348.2,539.1 350.4,541.5 352.6,543.8 354.8,546.2 357.0,548.5 359.2,550.9 361.5,553.2 363.7,555.6 366.0,558.0 368.3,560.3 370.5,562.7 372.8,565.0 375.1,567.4 377.5,569.7 379.8,572.1 382.1,574.4 384.5,576.8 386.8,579.1 389.2,581.5 391.6,583.9 394.0,586.2 396.4,588.6 398.8,590.9 401.3,593.3 403.7,595.6 406.2,598.0 408.7,600.3 411.1,602.7 413.6,605.1 416.1,607.4 418.7,609.8 421.2,612.1 423.7,614.5 426.3,616.8 428.9,619.2 431.4,621.5" fill="none" stroke="#f0c890" stroke-width="1.2" stroke-dasharray="1.8 5"/>
<polyline points="126.6,77.5 127.2,79.9 127.8,82.2 128.3,84.6 128.9,86.9 129.6,89.3 130.2,91.6 130.8,94.0 131.4,96.3 132.1,98.7 132.7,101.1 133.3,103.4 134.0,105.8 134.7,108.1 135.3,110.5 136.0,112.8 136.7,115.2 137.4,117.5 138.1,119.9 138.8,122.2 139.5,124.6 140.2,127.0 140.9,129.3 141.7,131.7 142.4,134.0 143.2,136.4 143.9,138.7 144.7,141.1 145.4,143.4 146.2,145.8 147.0,148.2 147.8,150.5 148.6,152.9 149.4,155.2 150.2,157.6 151.0,159.9 151.8,162.3 152.7,164.6 153.5,167.0 154.4,169.4 155.2,171.7 156.1,174.1 156.9,176.4 157.8,178.8 158.7,181.1 159.6,183.5 160.5,185.8 161.4,188.2 162.3,190.5 163.2,192.9 164.2,195.3 165.1,197.6 166.0,200.0 167.0,202.3 167.9,204.7 168.9,207.0 169.9,209.4 170.9,211.7 171.9,214.1 172.9,216.5 173.9,218.8 174.9,221.2 175.9,223.5 176.9,225.9 178.0,228.2 179.0,230.6 180.1,232.9 181.1,235.3 182.2,237.7 183.3,240.0 184.4,242.4 185.4,244.7 186.5,247.1 187.7,249.4 188.8,251.8 189.9,254.1 191.0,256.5 192.2,258.8 193.3,261.2 194.5,263.6 195.6,265.9 196.8,268.3 198.0,270.6 199.2,273.0 200.4,275.3 201.6,277.7 202.8,280.0 204.0,282.4 205.3,284.8 206.5,287.1 207.8,289.5 209.0,291.8 210.3,294.2 211.6,296.5 212.8,298.9 214.1,301.2 215.4,303.6 216.8,305.9 218.1,308.3 219.4,310.7 220.7,313.0 222.1,315.4 223.4,317.7 224.8,320.1 226.2,322.4 227.5,324.8 228.9,327.1 230.3,329.5 231.7,331.9 233.2,334.2 234.6,336.6 236.0,338.9 237.5,341.3 238.9,343.6 240.4,346.0 241.8,348.3 243.3,350.7 244.8,353.1 246.3,355.4 247.8,357.8 249.3,360.1 250.8,362.5 252.4,364.8 253.9,367.2 255.5,369.5 257.0,371.9 258.6,374.2 260.2,376.6 261.8,379.0 263.4,381.3 265.0,383.7 266.6,386.0 268.2,388.4 269.9,390.7 271.5,393.1 273.2,395.4 274.9,397.8 276.5,400.2 278.2,402.5 279.9,404.9 281.6,407.2 283.3,409.6 285.1,411.9 286.8,414.3 288.5,416.6 290.3,419.0 292.1,421.4 293.8,423.7 295.6,426.1 297.4,428.4 299.2,430.8 301.0,433.1 302.9,435.5 304.7,437.8 306.5,440.2 308.4,442.5 310.3,444.9 312.1,447.3 314.0,449.6 315.9,452.0 317.8,454.3 319.7,456.7 321.7,459.0 323.6,461.4 325.6,463.7 327.5,466.1 329.5,468.5 331.5,470.8 333.5,473.2 335.5,475.5 337.5,477.9 339.5,480.2 341.5,482.6 343.6,484.9 345.6,487.3 347.7,489.7 349.8,492.0 351.9,494.4 354.0,496.7 356.1,499.1 358.2,501.4 360.3,503.8 362.5,506.1 364.6,508.5 366.8,510.8 369.0,513.2 371.2,515.6 373.4,517.9 375.6,520.3 377.8,522.6 380.0,525.0 382.3,527.3 384.5,529.7 386.8,532.0 389.1,534.4 391.3,536.8 393.6,539.1 396.0,541.5 398.3,543.8 400.6,546.2 403.0,548.5 405.3,550.9 407.7,553.2 410.1,555.6 412.5,558.0 414.9,560.3 417.3,562.7 419.7,565.0 422.2,567.4 424.6,569.7 427.1,572.1 429.5,574.4 432.0,576.8 434.5,579.1 437.0,581.5 439.6,583.9 442.1,586.2 444.7,588.6 447.2,590.9 449.8,593.3 452.4,595.6 455.0,598.0 457.6,600.3 460.2,602.7 462.8,605.1 465.5,607.4 468.1,609.8 470.8,612.1 473.5,614.5 476.2,616.8 478.9,619.2 481.6,621.5" fill="none" stroke="#f0c890" stroke-width="1.2" stroke-dasharray="1.8 5"/>
<polyline points="152.6,77.5 153.3,79.9 153.9,82.2 154.6,84.6 155.3,86.9 156.0,89.3 156.6,91.6 157.3,94.0 158.0,96.3 158.8,98.7 159.5,101.1 160.2,103.4 160.9,105.8 161.7,108.1 162.4,110.5 163.2,112.8 163.9,115.2 164.7,117.5 165.5,119.9 166.3,122.2 167.0,124.6 167.8,127.0 168.6,129.3 169.5,131.7 170.3,134.0 171.1,136.4 171.9,138.7 172.8,141.1 173.6,143.4 174.5,145.8 175.3,148.2 176.2,150.5 177.1,152.9 178.0,155.2 178.9,157.6 179.8,159.9 180.7,162.3 181.6,164.6 182.5,167.0 183.4,169.4 184.4,171.7 185.3,174.1 186.3,176.4 187.2,178.8 188.2,181.1 189.2,183.5 190.1,185.8 191.1,188.2 192.1,190.5 193.1,192.9 194.2,195.3 195.2,197.6 196.2,200.0 197.2,202.3 198.3,204.7 199.3,207.0 200.4,209.4 201.5,211.7 202.6,214.1 203.6,216.5 204.7,218.8 205.8,221.2 206.9,223.5 208.1,225.9 209.2,228.2 210.3,230.6 211.5,232.9 212.6,235.3 213.8,237.7 214.9,240.0 216.1,242.4 217.3,244.7 218.5,247.1 219.7,249.4 220.9,251.8 222.1,254.1 223.3,256.5 224.6,258.8 225.8,261.2 227.1,263.6 228.3,265.9 229.6,268.3 230.9,270.6 232.1,273.0 233.4,275.3 234.7,277.7 236.1,280.0 237.4,282.4 238.7,284.8 240.0,287.1 241.4,289.5 242.7,291.8 244.1,294.2 245.5,296.5 246.8,298.9 248.2,301.2 249.6,303.6 251.0,305.9 252.5,308.3 253.9,310.7 255.3,313.0 256.8,315.4 258.2,317.7 259.7,320.1 261.1,322.4 262.6,324.8 264.1,327.1 265.6,329.5 267.1,331.9 268.6,334.2 270.2,336.6 271.7,338.9 273.2,341.3 274.8,343.6 276.4,346.0 277.9,348.3 279.5,350.7 281.1,353.1 282.7,355.4 284.3,357.8 285.9,360.1 287.6,362.5 289.2,364.8 290.8,367.2 292.5,369.5 294.2,371.9 295.9,374.2 297.5,376.6 299.2,379.0 300.9,381.3 302.7,383.7 304.4,386.0 306.1,388.4 307.9,390.7 309.6,393.1 311.4,395.4 313.2,397.8 314.9,400.2 316.7,402.5 318.6,404.9 320.4,407.2 322.2,409.6 324.0,411.9 325.9,414.3 327.7,416.6 329.6,419.0 331.5,421.4 333.4,423.7 335.3,426.1 337.2,428.4 339.1,430.8 341.0,433.1 343.0,435.5 344.9,437.8 346.9,440.2 348.8,442.5 350.8,444.9 352.8,447.3 354.8,449.6 356.8,452.0 358.9,454.3 360.9,456.7 362.9,459.0 365.0,461.4 367.1,463.7 369.1,466.1 371.2,468.5 373.3,470.8 375.4,473.2 377.6,475.5 379.7,477.9 381.8,480.2 384.0,482.6 386.1,484.9 388.3,487.3 390.5,489.7 392.7,492.0 394.9,494.4 397.1,496.7 399.4,499.1 401.6,501.4 403.9,503.8 406.1,506.1 408.4,508.5 410.7,510.8 413.0,513.2 415.3,515.6 417.6,517.9 420.0,520.3 422.3,522.6 424.7,525.0 427.1,527.3 429.4,529.7 431.8,532.0 434.2,534.4 436.7,536.8 439.1,539.1 441.5,541.5 444.0,543.8 446.4,546.2 448.9,548.5 451.4,550.9 453.9,553.2 456.4,555.6 458.9,558.0 461.5,560.3 464.0,562.7 466.6,565.0 469.2,567.4 471.8,569.7 474.4,572.1 477.0,574.4 479.6,576.8 482.2,579.1 484.9,581.5 487.5,583.9 490.2,586.2 492.9,588.6 495.6,590.9 498.3,593.3 501.0,595.6 503.8,598.0 506.5,600.3 509.3,602.7 512.0,605.1 514.8,607.4 517.6,609.8 520.4,612.1 523.3,614.5 526.1,616.8 529.0,619.2 531.8,621.5" fill="none" stroke="#f0c890" stroke-width="1.2" stroke-dasharray="1.8 5"/>
<polyline points="178.6,77.5 179.4,79.9 180.1,82.2 180.8,84.6 181.6,86.9 182.4,89.3 183.1,91.6 183.9,94.0 184.7,96.3 185.5,98.7 186.3,101.1 187.1,103.4 187.9,105.8 188.7,108.1 189.5,110.5 190.3,112.8 191.2,115.2 192.0,117.5 192.9,119.9 193.7,122.2 194.6,124.6 195.5,127.0 196.4,129.3 197.2,131.7 198.1,134.0 199.0,136.4 200.0,138.7 200.9,141.1 201.8,143.4 202.7,145.8 203.7,148.2 204.6,150.5 205.6,152.9 206.6,155.2 207.5,157.6 208.5,159.9 209.5,162.3 210.5,164.6 211.5,167.0 212.5,169.4 213.5,171.7 214.6,174.1 215.6,176.4 216.6,178.8 217.7,181.1 218.7,183.5 219.8,185.8 220.9,188.2 222.0,190.5 223.1,192.9 224.2,195.3 225.3,197.6 226.4,200.0 227.5,202.3 228.6,204.7 229.8,207.0 230.9,209.4 232.1,211.7 233.2,214.1 234.4,216.5 235.6,218.8 236.8,221.2 238.0,223.5 239.2,225.9 240.4,228.2 241.6,230.6 242.9,232.9 244.1,235.3 245.3,237.7 246.6,240.0 247.9,242.4 249.1,244.7 250.4,247.1 251.7,249.4 253.0,251.8 254.3,254.1 255.6,256.5 257.0,258.8 258.3,261.2 259.6,263.6 261.0,265.9 262.4,268.3 263.7,270.6 265.1,273.0 266.5,275.3 267.9,277.7 269.3,280.0 270.7,282.4 272.1,284.8 273.6,287.1 275.0,289.5 276.4,291.8 277.9,294.2 279.4,296.5 280.8,298.9 282.3,301.2 283.8,303.6 285.3,305.9 286.8,308.3 288.4,310.7 289.9,313.0 291.4,315.4 293.0,317.7 294.6,320.1 296.1,322.4 297.7,324.8 299.3,327.1 300.9,329.5 302.5,331.9 304.1,334.2 305.7,336.6 307.4,338.9 309.0,341.3 310.7,343.6 312.3,346.0 314.0,348.3 315.7,350.7 317.4,353.1 319.1,355.4 320.8,357.8 322.5,360.1 324.3,362.5 326.0,364.8 327.8,367.2 329.5,369.5 331.3,371.9 333.1,374.2 334.9,376.6 336.7,379.0 338.5,381.3 340.3,383.7 342.2,386.0 344.0,388.4 345.9,390.7 347.7,393.1 349.6,395.4 351.5,397.8 353.4,400.2 355.3,402.5 357.2,404.9 359.1,407.2 361.1,409.6 363.0,411.9 365.0,414.3 366.9,416.6 368.9,419.0 370.9,421.4 372.9,423.7 374.9,426.1 376.9,428.4 379.0,430.8 381.0,433.1 383.1,435.5 385.1,437.8 387.2,440.2 389.3,442.5 391.4,444.9 393.5,447.3 395.6,449.6 397.7,452.0 399.9,454.3 402.0,456.7 404.2,459.0 406.4,461.4 408.5,463.7 410.7,466.1 412.9,468.5 415.2,470.8 417.4,473.2 419.6,475.5 421.9,477.9 424.1,480.2 426.4,482.6 428.7,484.9 431.0,487.3 433.3,489.7 435.6,492.0 438.0,494.4 440.3,496.7 442.7,499.1 445.0,501.4 447.4,503.8 449.8,506.1 452.2,508.5 454.6,510.8 457.0,513.2 459.5,515.6 461.9,517.9 464.4,520.3 466.9,522.6 469.4,525.0 471.9,527.3 474.4,529.7 476.9,532.0 479.4,534.4 482.0,536.8 484.5,539.1 487.1,541.5 489.7,543.8 492.3,546.2 494.9,548.5 497.5,550.9 500.1,553.2 502.8,555.6 505.4,558.0 508.1,560.3 510.8,562.7 513.5,565.0 516.2,567.4 518.9,569.7 521.6,572.1 524.4,574.4 527.1,576.8 529.9,579.1 532.7,581.5 535.5,583.9 538.3,586.2 541.1,588.6 544.0,590.9 546.8,593.3 549.7,595.6 552.5,598.0 555.4,600.3 558.3,602.7 561.2,605.1 564.2,607.4 567.1,609.8 570.1,612.1 573.0,614.5 576.0,616.8 579.0,619.2 582.0,621.5" fill="none" stroke="#f0c890" stroke-width="1.2" stroke-dasharray="1.8 5"/>
<polyline points="204.7,77.5 205.5,79.9 206.3,82.2 207.1,84.6 207.9,86.9 208.8,89.3 209.6,91.6 210.4,94.0 211.3,96.3 212.2,98.7 213.0,101.1 213.9,103.4 214.8,105.8 215.7,108.1 216.6,110.5 217.5,112.8 218.4,115.2 219.3,117.5 220.3,119.9 221.2,122.2 222.1,124.6 223.1,127.0 224.1,129.3 225.0,131.7 226.0,134.0 227.0,136.4 228.0,138.7 229.0,141.1 230.0,143.4 231.0,145.8 232.0,148.2 233.1,150.5 234.1,152.9 235.1,155.2 236.2,157.6 237.3,159.9 238.3,162.3 239.4,164.6 240.5,167.0 241.6,169.4 242.7,171.7 243.8,174.1 244.9,176.4 246.0,178.8 247.2,181.1 248.3,183.5 249.5,185.8 250.6,188.2 251.8,190.5 253.0,192.9 254.2,195.3 255.4,197.6 256.6,200.0 257.8,202.3 259.0,204.7 260.2,207.0 261.4,209.4 262.7,211.7 263.9,214.1 265.2,216.5 266.5,218.8 267.7,221.2 269.0,223.5 270.3,225.9 271.6,228.2 272.9,230.6 274.3,232.9 275.6,235.3 276.9,237.7 278.3,240.0 279.6,242.4 281.0,244.7 282.4,247.1 283.7,249.4 285.1,251.8 286.5,254.1 287.9,256.5 289.4,258.8 290.8,261.2 292.2,263.6 293.7,265.9 295.1,268.3 296.6,270.6 298.1,273.0 299.5,275.3 301.0,277.7 302.5,280.0 304.0,282.4 305.5,284.8 307.1,287.1 308.6,289.5 310.2,291.8 311.7,294.2 313.3,296.5 314.9,298.9 316.4,301.2 318.0,303.6 319.6,305.9 321.2,308.3 322.9,310.7 324.5,313.0 326.1,315.4 327.8,317.7 329.4,320.1 331.1,322.4 332.8,324.8 334.5,327.1 336.2,329.5 337.9,331.9 339.6,334.2 341.3,336.6 343.1,338.9 344.8,341.3 346.6,343.6 348.3,346.0 350.1,348.3 351.9,350.7 353.7,353.1 355.5,355.4 357.3,357.8 359.1,360.1 361.0,362.5 362.8,364.8 364.7,367.2 366.6,369.5 368.4,371.9 370.3,374.2 372.2,376.6 374.1,379.0 376.1,381.3 378.0,383.7 379.9,386.0 381.9,388.4 383.8,390.7 385.8,393.1 387.8,395.4 389.8,397.8 391.8,400.2 393.8,402.5 395.8,404.9 397.9,407.2 399.9,409.6 402.0,411.9 404.0,414.3 406.1,416.6 408.2,419.0 410.3,421.4 412.4,423.7 414.5,426.1 416.7,428.4 418.8,430.8 421.0,433.1 423.1,435.5 425.3,437.8 427.5,440.2 429.7,442.5 431.9,444.9 434.1,447.3 436.4,449.6 438.6,452.0 440.9,454.3 443.2,456.7 445.4,459.0 447.7,461.4 450.0,463.7 452.3,466.1 454.7,468.5 457.0,470.8 459.4,473.2 461.7,475.5 464.1,477.9 466.5,480.2 468.9,482.6 471.3,484.9 473.7,487.3 476.1,489.7 478.6,492.0 481.0,494.4 483.5,496.7 486.0,499.1 488.5,501.4 491.0,503.8 493.5,506.1 496.0,508.5 498.5,510.8 501.1,513.2 503.6,515.6 506.2,517.9 508.8,520.3 511.4,522.6 514.0,525.0 516.6,527.3 519.3,529.7 521.9,532.0 524.6,534.4 527.3,536.8 530.0,539.1 532.7,541.5 535.4,543.8 538.1,546.2 540.8,548.5 543.6,550.9 546.3,553.2 549.1,555.6 551.9,558.0 554.7,560.3 557.5,562.7 560.4,565.0 563.2,567.4 566.1,569.7 568.9,572.1 571.8,574.4 574.7,576.8 577.6,579.1 580.5,581.5 583.5,583.9 586.4,586.2 589.4,588.6 592.3,590.9 595.3,593.3 598.3,595.6 601.3,598.0 604.4,600.3 607.4,602.7 610.4,605.1 613.5,607.4 616.6,609.8 619.7,612.1 622.8,614.5 625.9,616.8 629.1,619.2 632.2,621.5" fill="none" stroke="#f0c890" stroke-width="1.2" stroke-dasharray="1.8 5"/>
<polyline points="230.7,77.5 231.6,79.9 232.5,82.2 233.3,84.6 234.3,86.9 235.2,89.3 236.1,91.6 237.0,94.0 237.9,96.3 238.9,98.7 239.8,101.1 240.8,103.4 241.7,105.8 242.7,108.1 243.7,110.5 244.7,112.8 245.7,115.2 246.7,117.5 247.7,119.9 248.7,122.2 249.7,124.6 250.7,127.0 251.8,129.3 252.8,131.7 253.9,134.0 254.9,136.4 256.0,138.7 257.1,141.1 258.2,143.4 259.3,145.8 260.4,148.2 261.5,150.5 262.6,152.9 263.7,155.2 264.9,157.6 266.0,159.9 267.2,162.3 268.3,164.6 269.5,167.0 270.7,169.4 271.9,171.7 273.0,174.1 274.2,176.4 275.5,178.8 276.7,181.1 277.9,183.5 279.1,185.8 280.4,188.2 281.6,190.5 282.9,192.9 284.2,195.3 285.4,197.6 286.7,200.0 288.0,202.3 289.3,204.7 290.6,207.0 292.0,209.4 293.3,211.7 294.6,214.1 296.0,216.5 297.3,218.8 298.7,221.2 300.1,223.5 301.5,225.9 302.8,228.2 304.2,230.6 305.7,232.9 307.1,235.3 308.5,237.7 309.9,240.0 311.4,242.4 312.8,244.7 314.3,247.1 315.8,249.4 317.3,251.8 318.7,254.1 320.2,256.5 321.8,258.8 323.3,261.2 324.8,263.6 326.3,265.9 327.9,268.3 329.4,270.6 331.0,273.0 332.6,275.3 334.2,277.7 335.8,280.0 337.4,282.4 339.0,284.8 340.6,287.1 342.2,289.5 343.9,291.8 345.5,294.2 347.2,296.5 348.9,298.9 350.5,301.2 352.2,303.6 353.9,305.9 355.6,308.3 357.3,310.7 359.1,313.0 360.8,315.4 362.6,317.7 364.3,320.1 366.1,322.4 367.9,324.8 369.7,327.1 371.5,329.5 373.3,331.9 375.1,334.2 376.9,336.6 378.7,338.9 380.6,341.3 382.5,343.6 384.3,346.0 386.2,348.3 388.1,350.7 390.0,353.1 391.9,355.4 393.8,357.8 395.8,360.1 397.7,362.5 399.7,364.8 401.6,367.2 403.6,369.5 405.6,371.9 407.6,374.2 409.6,376.6 411.6,379.0 413.6,381.3 415.7,383.7 417.7,386.0 419.8,388.4 421.8,390.7 423.9,393.1 426.0,395.4 428.1,397.8 430.2,400.2 432.3,402.5 434.5,404.9 436.6,407.2 438.8,409.6 440.9,411.9 443.1,414.3 445.3,416.6 447.5,419.0 449.7,421.4 452.0,423.7 454.2,426.1 456.4,428.4 458.7,430.8 461.0,433.1 463.2,435.5 465.5,437.8 467.8,440.2 470.2,442.5 472.5,444.9 474.8,447.3 477.2,449.6 479.5,452.0 481.9,454.3 484.3,456.7 486.7,459.0 489.1,461.4 491.5,463.7 493.9,466.1 496.4,468.5 498.8,470.8 501.3,473.2 503.8,475.5 506.3,477.9 508.8,480.2 511.3,482.6 513.8,484.9 516.4,487.3 518.9,489.7 521.5,492.0 524.1,494.4 526.7,496.7 529.3,499.1 531.9,501.4 534.5,503.8 537.1,506.1 539.8,508.5 542.4,510.8 545.1,513.2 547.8,515.6 550.5,517.9 553.2,520.3 556.0,522.6 558.7,525.0 561.4,527.3 564.2,529.7 567.0,532.0 569.8,534.4 572.6,536.8 575.4,539.1 578.2,541.5 581.1,543.8 583.9,546.2 586.8,548.5 589.7,550.9 592.6,553.2 595.5,555.6 598.4,558.0 601.3,560.3 604.3,562.7 607.2,565.0 610.2,567.4 613.2,569.7 616.2,572.1 619.2,574.4 622.2,576.8 625.3,579.1 628.3,581.5 631.4,583.9 634.5,586.2 637.6,588.6 640.7,590.9 643.8,593.3 647.0,595.6 650.1,598.0 653.3,600.3 656.5,602.7 659.7,605.1 662.9,607.4 666.1,609.8 669.3,612.1 672.6,614.5 675.8,616.8 679.1,619.2 682.4,621.5" fill="none" stroke="#f0c890" stroke-width="1.2" stroke-dasharray="1.8 5"/>
<polyline points="256.7,77.5 257.7,79.9 258.6,82.2 259.6,84.6 260.6,86.9 261.6,89.3 262.6,91.6 263.5,94.0 264.6,96.3 265.6,98.7 266.6,101.1 267.6,103.4 268.7,105.8 269.7,108.1 270.8,110.5 271.8,112.8 272.9,115.2 274.0,117.5 275.1,119.9 276.1,122.2 277.3,124.6 278.4,127.0 279.5,129.3 280.6,131.7 281.7,134.0 282.9,136.4 284.0,138.7 285.2,141.1 286.4,143.4 287.5,145.8 288.7,148.2 289.9,150.5 291.1,152.9 292.3,155.2 293.5,157.6 294.8,159.9 296.0,162.3 297.2,164.6 298.5,167.0 299.7,169.4 301.0,171.7 302.3,174.1 303.6,176.4 304.9,178.8 306.2,181.1 307.5,183.5 308.8,185.8 310.1,188.2 311.5,190.5 312.8,192.9 314.2,195.3 315.5,197.6 316.9,200.0 318.3,202.3 319.7,204.7 321.1,207.0 322.5,209.4 323.9,211.7 325.3,214.1 326.8,216.5 328.2,218.8 329.7,221.2 331.1,223.5 332.6,225.9 334.1,228.2 335.6,230.6 337.1,232.9 338.6,235.3 340.1,237.7 341.6,240.0 343.1,242.4 344.7,244.7 346.2,247.1 347.8,249.4 349.4,251.8 351.0,254.1 352.6,256.5 354.2,258.8 355.8,261.2 357.4,263.6 359.0,265.9 360.7,268.3 362.3,270.6 364.0,273.0 365.6,275.3 367.3,277.7 369.0,280.0 370.7,282.4 372.4,284.8 374.1,287.1 375.8,289.5 377.6,291.8 379.3,294.2 381.1,296.5 382.9,298.9 384.6,301.2 386.4,303.6 388.2,305.9 390.0,308.3 391.8,310.7 393.7,313.0 395.5,315.4 397.3,317.7 399.2,320.1 401.1,322.4 402.9,324.8 404.8,327.1 406.7,329.5 408.6,331.9 410.6,334.2 412.5,336.6 414.4,338.9 416.4,341.3 418.3,343.6 420.3,346.0 422.3,348.3 424.3,350.7 426.3,353.1 428.3,355.4 430.3,357.8 432.4,360.1 434.4,362.5 436.5,364.8 438.5,367.2 440.6,369.5 442.7,371.9 444.8,374.2 446.9,376.6 449.0,379.0 451.2,381.3 453.3,383.7 455.5,386.0 457.6,388.4 459.8,390.7 462.0,393.1 464.2,395.4 466.4,397.8 468.6,400.2 470.9,402.5 473.1,404.9 475.4,407.2 477.6,409.6 479.9,411.9 482.2,414.3 484.5,416.6 486.8,419.0 489.1,421.4 491.5,423.7 493.8,426.1 496.2,428.4 498.6,430.8 500.9,433.1 503.3,435.5 505.7,437.8 508.2,440.2 510.6,442.5 513.0,444.9 515.5,447.3 518.0,449.6 520.4,452.0 522.9,454.3 525.4,456.7 527.9,459.0 530.5,461.4 533.0,463.7 535.6,466.1 538.1,468.5 540.7,470.8 543.3,473.2 545.9,475.5 548.5,477.9 551.1,480.2 553.7,482.6 556.4,484.9 559.1,487.3 561.7,489.7 564.4,492.0 567.1,494.4 569.8,496.7 572.6,499.1 575.3,501.4 578.0,503.8 580.8,506.1 583.6,508.5 586.4,510.8 589.2,513.2 592.0,515.6 594.8,517.9 597.6,520.3 600.5,522.6 603.4,525.0 606.2,527.3 609.1,529.7 612.0,532.0 615.0,534.4 617.9,536.8 620.8,539.1 623.8,541.5 626.8,543.8 629.8,546.2 632.8,548.5 635.8,550.9 638.8,553.2 641.8,555.6 644.9,558.0 647.9,560.3 651.0,562.7 654.1,565.0 657.2,567.4 660.3,569.7 663.5,572.1 666.6,574.4 669.8,576.8 673.0,579.1 676.2,581.5 679.4,583.9 682.6,586.2 685.8,588.6 689.1,590.9 692.3,593.3 695.6,595.6 698.9,598.0 702.2,600.3 705.5,602.7 708.9,605.1 712.2,607.4 715.6,609.8 718.9,612.1 722.3,614.5 725.7,616.8 729.2,619.2 732.6,621.5" fill="none" stroke="#f0c890" stroke-width="1.2" stroke-dasharray="1.8 5"/>
<polyline points="282.7,77.5 283.8,79.9 284.8,82.2 285.9,84.6 286.9,86.9 288.0,89.3 289.0,91.6 290.1,94.0 291.2,96.3 292.3,98.7 293.4,101.1 294.5,103.4 295.6,105.8 296.7,108.1 297.8,110.5 299.0,112.8 300.1,115.2 301.3,117.5 302.4,119.9 303.6,122.2 304.8,124.6 306.0,127.0 307.2,129.3 308.4,131.7 309.6,134.0 310.8,136.4 312.1,138.7 313.3,141.1 314.5,143.4 315.8,145.8 317.1,148.2 318.3,150.5 319.6,152.9 320.9,155.2 322.2,157.6 323.5,159.9 324.8,162.3 326.2,164.6 327.5,167.0 328.8,169.4 330.2,171.7 331.5,174.1 332.9,176.4 334.3,178.8 335.7,181.1 337.1,183.5 338.5,185.8 339.9,188.2 341.3,190.5 342.7,192.9 344.2,195.3 345.6,197.6 347.1,200.0 348.5,202.3 350.0,204.7 351.5,207.0 353.0,209.4 354.5,211.7 356.0,214.1 357.5,216.5 359.1,218.8 360.6,221.2 362.2,223.5 363.7,225.9 365.3,228.2 366.9,230.6 368.5,232.9 370.1,235.3 371.7,237.7 373.3,240.0 374.9,242.4 376.5,244.7 378.2,247.1 379.8,249.4 381.5,251.8 383.2,254.1 384.9,256.5 386.6,258.8 388.3,261.2 390.0,263.6 391.7,265.9 393.4,268.3 395.2,270.6 396.9,273.0 398.7,275.3 400.5,277.7 402.2,280.0 404.0,282.4 405.8,284.8 407.6,287.1 409.5,289.5 411.3,291.8 413.1,294.2 415.0,296.5 416.9,298.9 418.7,301.2 420.6,303.6 422.5,305.9 424.4,308.3 426.3,310.7 428.2,313.0 430.2,315.4 432.1,317.7 434.1,320.1 436.1,322.4 438.0,324.8 440.0,327.1 442.0,329.5 444.0,331.9 446.0,334.2 448.1,336.6 450.1,338.9 452.2,341.3 454.2,343.6 456.3,346.0 458.4,348.3 460.5,350.7 462.6,353.1 464.7,355.4 466.8,357.8 469.0,360.1 471.1,362.5 473.3,364.8 475.5,367.2 477.6,369.5 479.8,371.9 482.0,374.2 484.3,376.6 486.5,379.0 488.7,381.3 491.0,383.7 493.2,386.0 495.5,388.4 497.8,390.7 500.1,393.1 502.4,395.4 504.7,397.8 507.1,400.2 509.4,402.5 511.8,404.9 514.1,407.2 516.5,409.6 518.9,411.9 521.3,414.3 523.7,416.6 526.1,419.0 528.6,421.4 531.0,423.7 533.5,426.1 535.9,428.4 538.4,430.8 540.9,433.1 543.4,435.5 546.0,437.8 548.5,440.2 551.0,442.5 553.6,444.9 556.2,447.3 558.7,449.6 561.3,452.0 563.9,454.3 566.6,456.7 569.2,459.0 571.8,461.4 574.5,463.7 577.2,466.1 579.8,468.5 582.5,470.8 585.2,473.2 588.0,475.5 590.7,477.9 593.4,480.2 596.2,482.6 599.0,484.9 601.7,487.3 604.5,489.7 607.3,492.0 610.2,494.4 613.0,496.7 615.8,499.1 618.7,501.4 621.6,503.8 624.5,506.1 627.4,508.5 630.3,510.8 633.2,513.2 636.1,515.6 639.1,517.9 642.1,520.3 645.0,522.6 648.0,525.0 651.0,527.3 654.1,529.7 657.1,532.0 660.1,534.4 663.2,536.8 666.3,539.1 669.4,541.5 672.5,543.8 675.6,546.2 678.7,548.5 681.9,550.9 685.0,553.2 688.2,555.6 691.4,558.0 694.6,560.3 697.8,562.7 701.0,565.0 704.2,567.4 707.5,569.7 710.8,572.1 714.1,574.4 717.3,576.8 720.7,579.1 724.0,581.5 727.3,583.9 730.7,586.2 734.1,588.6 737.4,590.9 740.8,593.3 744.3,595.6 747.7,598.0 751.1,600.3 754.6,602.7 758.1,605.1 761.5,607.4 765.0,609.8 768.6,612.1 772.1,614.5 775.6,616.8 779.2,619.2 782.8,621.5" fill="none" stroke="#f0c890" stroke-width="1.2" stroke-dasharray="1.8 5"/>
<polyline points="308.8,77.5 309.9,79.9 311.0,82.2 312.1,84.6 313.2,86.9 314.4,89.3 315.5,91.6 316.7,94.0 317.8,96.3 319.0,98.7 320.1,101.1 321.3,103.4 322.5,105.8 323.7,108.1 324.9,110.5 326.1,112.8 327.4,115.2 328.6,117.5 329.8,119.9 331.1,122.2 332.4,124.6 333.6,127.0 334.9,129.3 336.2,131.7 337.5,134.0 338.8,136.4 340.1,138.7 341.4,141.1 342.7,143.4 344.1,145.8 345.4,148.2 346.8,150.5 348.1,152.9 349.5,155.2 350.9,157.6 352.3,159.9 353.7,162.3 355.1,164.6 356.5,167.0 357.9,169.4 359.3,171.7 360.8,174.1 362.2,176.4 363.7,178.8 365.2,181.1 366.6,183.5 368.1,185.8 369.6,188.2 371.1,190.5 372.7,192.9 374.2,195.3 375.7,197.6 377.3,200.0 378.8,202.3 380.4,204.7 381.9,207.0 383.5,209.4 385.1,211.7 386.7,214.1 388.3,216.5 389.9,218.8 391.6,221.2 393.2,223.5 394.9,225.9 396.5,228.2 398.2,230.6 399.9,232.9 401.5,235.3 403.2,237.7 404.9,240.0 406.7,242.4 408.4,244.7 410.1,247.1 411.9,249.4 413.6,251.8 415.4,254.1 417.2,256.5 418.9,258.8 420.7,261.2 422.5,263.6 424.4,265.9 426.2,268.3 428.0,270.6 429.9,273.0 431.7,275.3 433.6,277.7 435.5,280.0 437.4,282.4 439.3,284.8 441.2,287.1 443.1,289.5 445.0,291.8 446.9,294.2 448.9,296.5 450.9,298.9 452.8,301.2 454.8,303.6 456.8,305.9 458.8,308.3 460.8,310.7 462.8,313.0 464.9,315.4 466.9,317.7 469.0,320.1 471.0,322.4 473.1,324.8 475.2,327.1 477.3,329.5 479.4,331.9 481.5,334.2 483.7,336.6 485.8,338.9 488.0,341.3 490.1,343.6 492.3,346.0 494.5,348.3 496.7,350.7 498.9,353.1 501.1,355.4 503.3,357.8 505.6,360.1 507.8,362.5 510.1,364.8 512.4,367.2 514.7,369.5 517.0,371.9 519.3,374.2 521.6,376.6 523.9,379.0 526.3,381.3 528.6,383.7 531.0,386.0 533.4,388.4 535.8,390.7 538.2,393.1 540.6,395.4 543.0,397.8 545.5,400.2 547.9,402.5 550.4,404.9 552.9,407.2 555.4,409.6 557.9,411.9 560.4,414.3 562.9,416.6 565.4,419.0 568.0,421.4 570.5,423.7 573.1,426.1 575.7,428.4 578.3,430.8 580.9,433.1 583.5,435.5 586.2,437.8 588.8,440.2 591.5,442.5 594.1,444.9 596.8,447.3 599.5,449.6 602.2,452.0 605.0,454.3 607.7,456.7 610.4,459.0 613.2,461.4 616.0,463.7 618.8,466.1 621.6,468.5 624.4,470.8 627.2,473.2 630.0,475.5 632.9,477.9 635.8,480.2 638.6,482.6 641.5,484.9 644.4,487.3 647.3,489.7 650.3,492.0 653.2,494.4 656.2,496.7 659.1,499.1 662.1,501.4 665.1,503.8 668.1,506.1 671.2,508.5 674.2,510.8 677.2,513.2 680.3,515.6 683.4,517.9 686.5,520.3 689.6,522.6 692.7,525.0 695.8,527.3 699.0,529.7 702.1,532.0 705.3,534.4 708.5,536.8 711.7,539.1 714.9,541.5 718.2,543.8 721.4,546.2 724.7,548.5 727.9,550.9 731.2,553.2 734.5,555.6 737.8,558.0 741.2,560.3 744.5,562.7 747.9,565.0 751.3,567.4 754.6,569.7 758.1,572.1 761.5,574.4 764.9,576.8 768.4,579.1 771.8,581.5 775.3,583.9 778.8,586.2 782.3,588.6 785.8,590.9 789.3,593.3 792.9,595.6 796.5,598.0 800.0,600.3 803.6,602.7 807.3,605.1 810.9,607.4 814.5,609.8 818.2,612.1 821.9,614.5 825.6,616.8 829.3,619.2 833.0,621.5" fill="none" stroke="#f0c890" stroke-width="1.2" stroke-dasharray="1.8 5"/>
<polyline points="334.8,77.5 336.0,79.9 337.2,82.2 338.4,84.6 339.6,86.9 340.8,89.3 342.0,91.6 343.2,94.0 344.4,96.3 345.7,98.7 346.9,101.1 348.2,103.4 349.5,105.8 350.7,108.1 352.0,110.5 353.3,112.8 354.6,115.2 355.9,117.5 357.2,119.9 358.6,122.2 359.9,124.6 361.2,127.0 362.6,129.3 364.0,131.7 365.3,134.0 366.7,136.4 368.1,138.7 369.5,141.1 370.9,143.4 372.3,145.8 373.8,148.2 375.2,150.5 376.6,152.9 378.1,155.2 379.5,157.6 381.0,159.9 382.5,162.3 384.0,164.6 385.5,167.0 387.0,169.4 388.5,171.7 390.0,174.1 391.6,176.4 393.1,178.8 394.7,181.1 396.2,183.5 397.8,185.8 399.4,188.2 401.0,190.5 402.6,192.9 404.2,195.3 405.8,197.6 407.4,200.0 409.1,202.3 410.7,204.7 412.4,207.0 414.0,209.4 415.7,211.7 417.4,214.1 419.1,216.5 420.8,218.8 422.5,221.2 424.3,223.5 426.0,225.9 427.7,228.2 429.5,230.6 431.3,232.9 433.0,235.3 434.8,237.7 436.6,240.0 438.4,242.4 440.2,244.7 442.1,247.1 443.9,249.4 445.7,251.8 447.6,254.1 449.5,256.5 451.3,258.8 453.2,261.2 455.1,263.6 457.0,265.9 459.0,268.3 460.9,270.6 462.8,273.0 464.8,275.3 466.7,277.7 468.7,280.0 470.7,282.4 472.7,284.8 474.7,287.1 476.7,289.5 478.7,291.8 480.8,294.2 482.8,296.5 484.9,298.9 486.9,301.2 489.0,303.6 491.1,305.9 493.2,308.3 495.3,310.7 497.4,313.0 499.6,315.4 501.7,317.7 503.8,320.1 506.0,322.4 508.2,324.8 510.4,327.1 512.6,329.5 514.8,331.9 517.0,334.2 519.2,336.6 521.5,338.9 523.7,341.3 526.0,343.6 528.3,346.0 530.6,348.3 532.9,350.7 535.2,353.1 537.5,355.4 539.8,357.8 542.2,360.1 544.6,362.5 546.9,364.8 549.3,367.2 551.7,369.5 554.1,371.9 556.5,374.2 559.0,376.6 561.4,379.0 563.8,381.3 566.3,383.7 568.8,386.0 571.3,388.4 573.8,390.7 576.3,393.1 578.8,395.4 581.4,397.8 583.9,400.2 586.5,402.5 589.0,404.9 591.6,407.2 594.2,409.6 596.8,411.9 599.5,414.3 602.1,416.6 604.7,419.0 607.4,421.4 610.1,423.7 612.8,426.1 615.5,428.4 618.2,430.8 620.9,433.1 623.6,435.5 626.4,437.8 629.1,440.2 631.9,442.5 634.7,444.9 637.5,447.3 640.3,449.6 643.1,452.0 646.0,454.3 648.8,456.7 651.7,459.0 654.6,461.4 657.5,463.7 660.4,466.1 663.3,468.5 666.2,470.8 669.2,473.2 672.1,475.5 675.1,477.9 678.1,480.2 681.1,482.6 684.1,484.9 687.1,487.3 690.1,489.7 693.2,492.0 696.3,494.4 699.3,496.7 702.4,499.1 705.5,501.4 708.7,503.8 711.8,506.1 714.9,508.5 718.1,510.8 721.3,513.2 724.5,515.6 727.7,517.9 730.9,520.3 734.1,522.6 737.4,525.0 740.6,527.3 743.9,529.7 747.2,532.0 750.5,534.4 753.8,536.8 757.2,539.1 760.5,541.5 763.9,543.8 767.2,546.2 770.6,548.5 774.0,550.9 777.4,553.2 780.9,555.6 784.3,558.0 787.8,560.3 791.3,562.7 794.8,565.0 798.3,567.4 801.8,569.7 805.3,572.1 808.9,574.4 812.5,576.8 816.0,579.1 819.6,581.5 823.2,583.9 826.9,586.2 830.5,588.6 834.2,590.9 837.9,593.3 841.5,595.6 845.3,598.0 849.0,600.3 852.7,602.7 856.5,605.1 860.2,607.4 864.0,609.8 867.8,612.1 871.6,614.5 875.5,616.8 879.3,619.2 883.2,621.5" fill="none" stroke="#f0c890" stroke-width="1.2" stroke-dasharray="1.8 5"/>
<polyline points="360.8,77.5 362.1,79.9 363.3,82.2 364.6,84.6 365.9,86.9 367.2,89.3 368.5,91.6 369.8,94.0 371.1,96.3 372.4,98.7 373.7,101.1 375.0,103.4 376.4,105.8 377.7,108.1 379.1,110.5 380.5,112.8 381.8,115.2 383.2,117.5 384.6,119.9 386.0,122.2 387.5,124.6 388.9,127.0 390.3,129.3 391.8,131.7 393.2,134.0 394.7,136.4 396.1,138.7 397.6,141.1 399.1,143.4 400.6,145.8 402.1,148.2 403.6,150.5 405.1,152.9 406.7,155.2 408.2,157.6 409.8,159.9 411.3,162.3 412.9,164.6 414.5,167.0 416.1,169.4 417.7,171.7 419.3,174.1 420.9,176.4 422.5,178.8 424.2,181.1 425.8,183.5 427.5,185.8 429.1,188.2 430.8,190.5 432.5,192.9 434.2,195.3 435.9,197.6 437.6,200.0 439.3,202.3 441.1,204.7 442.8,207.0 444.6,209.4 446.3,211.7 448.1,214.1 449.9,216.5 451.7,218.8 453.5,221.2 455.3,223.5 457.1,225.9 459.0,228.2 460.8,230.6 462.7,232.9 464.5,235.3 466.4,237.7 468.3,240.0 470.2,242.4 472.1,244.7 474.0,247.1 475.9,249.4 477.9,251.8 479.8,254.1 481.8,256.5 483.7,258.8 485.7,261.2 487.7,263.6 489.7,265.9 491.7,268.3 493.7,270.6 495.8,273.0 497.8,275.3 499.9,277.7 501.9,280.0 504.0,282.4 506.1,284.8 508.2,287.1 510.3,289.5 512.4,291.8 514.6,294.2 516.7,296.5 518.9,298.9 521.0,301.2 523.2,303.6 525.4,305.9 527.6,308.3 529.8,310.7 532.0,313.0 534.2,315.4 536.5,317.7 538.7,320.1 541.0,322.4 543.3,324.8 545.6,327.1 547.9,329.5 550.2,331.9 552.5,334.2 554.8,336.6 557.2,338.9 559.5,341.3 561.9,343.6 564.3,346.0 566.7,348.3 569.1,350.7 571.5,353.1 573.9,355.4 576.4,357.8 578.8,360.1 581.3,362.5 583.7,364.8 586.2,367.2 588.7,369.5 591.2,371.9 593.8,374.2 596.3,376.6 598.8,379.0 601.4,381.3 604.0,383.7 606.6,386.0 609.2,388.4 611.8,390.7 614.4,393.1 617.0,395.4 619.7,397.8 622.3,400.2 625.0,402.5 627.7,404.9 630.4,407.2 633.1,409.6 635.8,411.9 638.5,414.3 641.3,416.6 644.0,419.0 646.8,421.4 649.6,423.7 652.4,426.1 655.2,428.4 658.0,430.8 660.9,433.1 663.7,435.5 666.6,437.8 669.5,440.2 672.4,442.5 675.3,444.9 678.2,447.3 681.1,449.6 684.0,452.0 687.0,454.3 690.0,456.7 692.9,459.0 695.9,461.4 698.9,463.7 702.0,466.1 705.0,468.5 708.1,470.8 711.1,473.2 714.2,475.5 717.3,477.9 720.4,480.2 723.5,482.6 726.6,484.9 729.8,487.3 732.9,489.7 736.1,492.0 739.3,494.4 742.5,496.7 745.7,499.1 749.0,501.4 752.2,503.8 755.5,506.1 758.7,508.5 762.0,510.8 765.3,513.2 768.6,515.6 772.0,517.9 775.3,520.3 778.7,522.6 782.0,525.0 785.4,527.3 788.8,529.7 792.2,532.0 795.7,534.4 799.1,536.8 802.6,539.1 806.1,541.5 809.6,543.8 813.1,546.2 816.6,548.5 820.1,550.9 823.7,553.2 827.2,555.6 830.8,558.0 834.4,560.3 838.0,562.7 841.6,565.0 845.3,567.4 848.9,569.7 852.6,572.1 856.3,574.4 860.0,576.8 863.7,579.1 867.5,581.5 871.2,583.9 875.0,586.2 878.8,588.6 882.6,590.9 886.4,593.3 890.2,595.6 894.0,598.0 897.9,600.3 901.8,602.7 905.7,605.1 909.6,607.4 913.5,609.8 917.4,612.1 921.4,614.5 925.4,616.8 929.4,619.2 933.4,621.5" fill="none" stroke="#f0c890" stroke-width="1.2" stroke-dasharray="1.8 5"/>
<polyline points="386.9,77.5 388.2,79.9 389.5,82.2 390.9,84.6 392.2,86.9 393.6,89.3 394.9,91.6 396.3,94.0 397.7,96.3 399.1,98.7 400.5,101.1 401.9,103.4 403.3,105.8 404.7,108.1 406.2,110.5 407.6,112.8 409.1,115.2 410.6,117.5 412.0,119.9 413.5,122.2 415.0,124.6 416.5,127.0 418.0,129.3 419.5,131.7 421.1,134.0 422.6,136.4 424.2,138.7 425.7,141.1 427.3,143.4 428.9,145.8 430.4,148.2 432.0,150.5 433.6,152.9 435.3,155.2 436.9,157.6 438.5,159.9 440.2,162.3 441.8,164.6 443.5,167.0 445.1,169.4 446.8,171.7 448.5,174.1 450.2,176.4 451.9,178.8 453.7,181.1 455.4,183.5 457.1,185.8 458.9,188.2 460.6,190.5 462.4,192.9 464.2,195.3 466.0,197.6 467.8,200.0 469.6,202.3 471.4,204.7 473.2,207.0 475.1,209.4 476.9,211.7 478.8,214.1 480.7,216.5 482.5,218.8 484.4,221.2 486.3,223.5 488.3,225.9 490.2,228.2 492.1,230.6 494.1,232.9 496.0,235.3 498.0,237.7 499.9,240.0 501.9,242.4 503.9,244.7 505.9,247.1 508.0,249.4 510.0,251.8 512.0,254.1 514.1,256.5 516.1,258.8 518.2,261.2 520.3,263.6 522.4,265.9 524.5,268.3 526.6,270.6 528.7,273.0 530.9,275.3 533.0,277.7 535.2,280.0 537.3,282.4 539.5,284.8 541.7,287.1 543.9,289.5 546.1,291.8 548.4,294.2 550.6,296.5 552.9,298.9 555.1,301.2 557.4,303.6 559.7,305.9 562.0,308.3 564.3,310.7 566.6,313.0 568.9,315.4 571.3,317.7 573.6,320.1 576.0,322.4 578.4,324.8 580.7,327.1 583.1,329.5 585.6,331.9 588.0,334.2 590.4,336.6 592.9,338.9 595.3,341.3 597.8,343.6 600.3,346.0 602.8,348.3 605.3,350.7 607.8,353.1 610.3,355.4 612.9,357.8 615.4,360.1 618.0,362.5 620.6,364.8 623.2,367.2 625.8,369.5 628.4,371.9 631.0,374.2 633.6,376.6 636.3,379.0 639.0,381.3 641.6,383.7 644.3,386.0 647.0,388.4 649.8,390.7 652.5,393.1 655.2,395.4 658.0,397.8 660.7,400.2 663.5,402.5 666.3,404.9 669.1,407.2 671.9,409.6 674.8,411.9 677.6,414.3 680.5,416.6 683.4,419.0 686.2,421.4 689.1,423.7 692.0,426.1 695.0,428.4 697.9,430.8 700.9,433.1 703.8,435.5 706.8,437.8 709.8,440.2 712.8,442.5 715.8,444.9 718.8,447.3 721.9,449.6 724.9,452.0 728.0,454.3 731.1,456.7 734.2,459.0 737.3,461.4 740.4,463.7 743.6,466.1 746.7,468.5 749.9,470.8 753.1,473.2 756.3,475.5 759.5,477.9 762.7,480.2 766.0,482.6 769.2,484.9 772.5,487.3 775.8,489.7 779.1,492.0 782.4,494.4 785.7,496.7 789.0,499.1 792.4,501.4 795.7,503.8 799.1,506.1 802.5,508.5 805.9,510.8 809.4,513.2 812.8,515.6 816.3,517.9 819.7,520.3 823.2,522.6 826.7,525.0 830.2,527.3 833.8,529.7 837.3,532.0 840.9,534.4 844.4,536.8 848.0,539.1 851.6,541.5 855.3,543.8 858.9,546.2 862.5,548.5 866.2,550.9 869.9,553.2 873.6,555.6 877.3,558.0 881.0,560.3 884.8,562.7 888.5,565.0 892.3,567.4 896.1,569.7 899.9,572.1 903.7,574.4 907.6,576.8 911.4,579.1 915.3,581.5 919.2,583.9 923.1,586.2 927.0,588.6 930.9,590.9 934.9,593.3 938.8,595.6 942.8,598.0 946.8,600.3 950.8,602.7 954.9,605.1 958.9,607.4 963.0,609.8 967.1,612.1 971.2,614.5 975.3,616.8 979.4,619.2 983.5,621.5" fill="none" stroke="#f0c890" stroke-width="1.2" stroke-dasharray="1.8 5"/>
<polyline points="412.9,77.5 414.3,79.9 415.7,82.2 417.1,84.6 418.5,86.9 420.0,89.3 421.4,91.6 422.9,94.0 424.3,96.3 425.8,98.7 427.3,101.1 428.7,103.4 430.2,105.8 431.8,108.1 433.3,110.5 434.8,112.8 436.3,115.2 437.9,117.5 439.4,119.9 441.0,122.2 442.6,124.6 444.1,127.0 445.7,129.3 447.3,131.7 448.9,134.0 450.6,136.4 452.2,138.7 453.8,141.1 455.5,143.4 457.1,145.8 458.8,148.2 460.5,150.5 462.1,152.9 463.8,155.2 465.5,157.6 467.3,159.9 469.0,162.3 470.7,164.6 472.5,167.0 474.2,169.4 476.0,171.7 477.8,174.1 479.5,176.4 481.3,178.8 483.1,181.1 485.0,183.5 486.8,185.8 488.6,188.2 490.5,190.5 492.3,192.9 494.2,195.3 496.1,197.6 498.0,200.0 499.8,202.3 501.8,204.7 503.7,207.0 505.6,209.4 507.5,211.7 509.5,214.1 511.4,216.5 513.4,218.8 515.4,221.2 517.4,223.5 519.4,225.9 521.4,228.2 523.4,230.6 525.5,232.9 527.5,235.3 529.6,237.7 531.6,240.0 533.7,242.4 535.8,244.7 537.9,247.1 540.0,249.4 542.1,251.8 544.2,254.1 546.4,256.5 548.5,258.8 550.7,261.2 552.9,263.6 555.1,265.9 557.3,268.3 559.5,270.6 561.7,273.0 563.9,275.3 566.2,277.7 568.4,280.0 570.7,282.4 573.0,284.8 575.2,287.1 577.5,289.5 579.9,291.8 582.2,294.2 584.5,296.5 586.9,298.9 589.2,301.2 591.6,303.6 594.0,305.9 596.4,308.3 598.8,310.7 601.2,313.0 603.6,315.4 606.0,317.7 608.5,320.1 611.0,322.4 613.4,324.8 615.9,327.1 618.4,329.5 620.9,331.9 623.5,334.2 626.0,336.6 628.5,338.9 631.1,341.3 633.7,343.6 636.3,346.0 638.9,348.3 641.5,350.7 644.1,353.1 646.7,355.4 649.4,357.8 652.0,360.1 654.7,362.5 657.4,364.8 660.1,367.2 662.8,369.5 665.5,371.9 668.2,374.2 671.0,376.6 673.7,379.0 676.5,381.3 679.3,383.7 682.1,386.0 684.9,388.4 687.7,390.7 690.6,393.1 693.4,395.4 696.3,397.8 699.2,400.2 702.1,402.5 705.0,404.9 707.9,407.2 710.8,409.6 713.7,411.9 716.7,414.3 719.7,416.6 722.7,419.0 725.7,421.4 728.7,423.7 731.7,426.1 734.7,428.4 737.8,430.8 740.8,433.1 743.9,435.5 747.0,437.8 750.1,440.2 753.2,442.5 756.4,444.9 759.5,447.3 762.7,449.6 765.8,452.0 769.0,454.3 772.2,456.7 775.4,459.0 778.7,461.4 781.9,463.7 785.2,466.1 788.5,468.5 791.7,470.8 795.0,473.2 798.4,475.5 801.7,477.9 805.0,480.2 808.4,482.6 811.8,484.9 815.2,487.3 818.6,489.7 822.0,492.0 825.4,494.4 828.9,496.7 832.3,499.1 835.8,501.4 839.3,503.8 842.8,506.1 846.3,508.5 849.8,510.8 853.4,513.2 857.0,515.6 860.5,517.9 864.1,520.3 867.8,522.6 871.4,525.0 875.0,527.3 878.7,529.7 882.4,532.0 886.0,534.4 889.7,536.8 893.5,539.1 897.2,541.5 900.9,543.8 904.7,546.2 908.5,548.5 912.3,550.9 916.1,553.2 919.9,555.6 923.8,558.0 927.6,560.3 931.5,562.7 935.4,565.0 939.3,567.4 943.2,569.7 947.2,572.1 951.1,574.4 955.1,576.8 959.1,579.1 963.1,581.5 967.1,583.9 971.2,586.2 975.2,588.6 979.3,590.9 983.4,593.3 987.5,595.6 991.6,598.0 995.7,600.3 999.9,602.7 1004.1,605.1 1008.3,607.4 1012.5,609.8 1016.7,612.1 1020.9,614.5 1025.2,616.8 1029.5,619.2 1033.7,621.5" fill="none" stroke="#f0c890" stroke-width="1.2" stroke-dasharray="1.8 5"/>
<polyline points="438.9,77.5 440.4,79.9 441.9,82.2 443.4,84.6 444.9,86.9 446.4,89.3 447.9,91.6 449.4,94.0 450.9,96.3 452.5,98.7 454.0,101.1 455.6,103.4 457.2,105.8 458.8,108.1 460.4,110.5 462.0,112.8 463.6,115.2 465.2,117.5 466.8,119.9 468.5,122.2 470.1,124.6 471.8,127.0 473.4,129.3 475.1,131.7 476.8,134.0 478.5,136.4 480.2,138.7 481.9,141.1 483.6,143.4 485.4,145.8 487.1,148.2 488.9,150.5 490.7,152.9 492.4,155.2 494.2,157.6 496.0,159.9 497.8,162.3 499.6,164.6 501.5,167.0 503.3,169.4 505.2,171.7 507.0,174.1 508.9,176.4 510.8,178.8 512.6,181.1 514.5,183.5 516.5,185.8 518.4,188.2 520.3,190.5 522.2,192.9 524.2,195.3 526.2,197.6 528.1,200.0 530.1,202.3 532.1,204.7 534.1,207.0 536.1,209.4 538.1,211.7 540.2,214.1 542.2,216.5 544.3,218.8 546.4,221.2 548.4,223.5 550.5,225.9 552.6,228.2 554.7,230.6 556.9,232.9 559.0,235.3 561.1,237.7 563.3,240.0 565.5,242.4 567.6,244.7 569.8,247.1 572.0,249.4 574.2,251.8 576.5,254.1 578.7,256.5 580.9,258.8 583.2,261.2 585.5,263.6 587.7,265.9 590.0,268.3 592.3,270.6 594.6,273.0 597.0,275.3 599.3,277.7 601.7,280.0 604.0,282.4 606.4,284.8 608.8,287.1 611.2,289.5 613.6,291.8 616.0,294.2 618.4,296.5 620.9,298.9 623.3,301.2 625.8,303.6 628.3,305.9 630.7,308.3 633.2,310.7 635.8,313.0 638.3,315.4 640.8,317.7 643.4,320.1 645.9,322.4 648.5,324.8 651.1,327.1 653.7,329.5 656.3,331.9 658.9,334.2 661.6,336.6 664.2,338.9 666.9,341.3 669.6,343.6 672.2,346.0 674.9,348.3 677.7,350.7 680.4,353.1 683.1,355.4 685.9,357.8 688.6,360.1 691.4,362.5 694.2,364.8 697.0,367.2 699.8,369.5 702.6,371.9 705.5,374.2 708.3,376.6 711.2,379.0 714.1,381.3 717.0,383.7 719.9,386.0 722.8,388.4 725.7,390.7 728.7,393.1 731.6,395.4 734.6,397.8 737.6,400.2 740.6,402.5 743.6,404.9 746.6,407.2 749.7,409.6 752.7,411.9 755.8,414.3 758.9,416.6 762.0,419.0 765.1,421.4 768.2,423.7 771.3,426.1 774.5,428.4 777.6,430.8 780.8,433.1 784.0,435.5 787.2,437.8 790.4,440.2 793.7,442.5 796.9,444.9 800.2,447.3 803.5,449.6 806.7,452.0 810.0,454.3 813.4,456.7 816.7,459.0 820.0,461.4 823.4,463.7 826.8,466.1 830.2,468.5 833.6,470.8 837.0,473.2 840.4,475.5 843.9,477.9 847.4,480.2 850.8,482.6 854.3,484.9 857.8,487.3 861.4,489.7 864.9,492.0 868.5,494.4 872.0,496.7 875.6,499.1 879.2,501.4 882.8,503.8 886.5,506.1 890.1,508.5 893.8,510.8 897.4,513.2 901.1,515.6 904.8,517.9 908.6,520.3 912.3,522.6 916.1,525.0 919.8,527.3 923.6,529.7 927.4,532.0 931.2,534.4 935.1,536.8 938.9,539.1 942.8,541.5 946.6,543.8 950.5,546.2 954.5,548.5 958.4,550.9 962.3,553.2 966.3,555.6 970.3,558.0 974.3,560.3 978.3,562.7 982.3,565.0 986.3,567.4 990.4,569.7 994.5,572.1 998.6,574.4 1002.7,576.8 1006.8,579.1 1010.9,581.5 1015.1,583.9 1019.3,586.2 1023.5,588.6 1027.7,590.9 1031.9,593.3 1036.1,595.6 1040.4,598.0 1044.7,600.3 1049.0,602.7 1053.3,605.1 1057.6,607.4 1061.9,609.8 1066.3,612.1 1070.7,614.5 1075.1,616.8 1079.5,619.2 1083.9,621.5" fill="none" stroke="#f0c890" stroke-width="1.2" stroke-dasharray="1.8 5"/>
<polyline points="464.9,77.5 466.5,79.9 468.0,82.2 469.6,84.6 471.2,86.9 472.8,89.3 474.4,91.6 476.0,94.0 477.6,96.3 479.2,98.7 480.8,101.1 482.5,103.4 484.1,105.8 485.8,108.1 487.4,110.5 489.1,112.8 490.8,115.2 492.5,117.5 494.2,119.9 495.9,122.2 497.7,124.6 499.4,127.0 501.1,129.3 502.9,131.7 504.7,134.0 506.4,136.4 508.2,138.7 510.0,141.1 511.8,143.4 513.6,145.8 515.5,148.2 517.3,150.5 519.2,152.9 521.0,155.2 522.9,157.6 524.8,159.9 526.7,162.3 528.6,164.6 530.5,167.0 532.4,169.4 534.3,171.7 536.3,174.1 538.2,176.4 540.2,178.8 542.1,181.1 544.1,183.5 546.1,185.8 548.1,188.2 550.1,190.5 552.2,192.9 554.2,195.3 556.2,197.6 558.3,200.0 560.4,202.3 562.4,204.7 564.5,207.0 566.6,209.4 568.7,211.7 570.9,214.1 573.0,216.5 575.2,218.8 577.3,221.2 579.5,223.5 581.7,225.9 583.8,228.2 586.0,230.6 588.3,232.9 590.5,235.3 592.7,237.7 595.0,240.0 597.2,242.4 599.5,244.7 601.8,247.1 604.0,249.4 606.4,251.8 608.7,254.1 611.0,256.5 613.3,258.8 615.7,261.2 618.0,263.6 620.4,265.9 622.8,268.3 625.2,270.6 627.6,273.0 630.0,275.3 632.4,277.7 634.9,280.0 637.3,282.4 639.8,284.8 642.3,287.1 644.8,289.5 647.3,291.8 649.8,294.2 652.3,296.5 654.9,298.9 657.4,301.2 660.0,303.6 662.5,305.9 665.1,308.3 667.7,310.7 670.3,313.0 673.0,315.4 675.6,317.7 678.3,320.1 680.9,322.4 683.6,324.8 686.3,327.1 689.0,329.5 691.7,331.9 694.4,334.2 697.2,336.6 699.9,338.9 702.7,341.3 705.4,343.6 708.2,346.0 711.0,348.3 713.9,350.7 716.7,353.1 719.5,355.4 722.4,357.8 725.2,360.1 728.1,362.5 731.0,364.8 733.9,367.2 736.8,369.5 739.8,371.9 742.7,374.2 745.7,376.6 748.6,379.0 751.6,381.3 754.6,383.7 757.6,386.0 760.7,388.4 763.7,390.7 766.8,393.1 769.8,395.4 772.9,397.8 776.0,400.2 779.1,402.5 782.2,404.9 785.4,407.2 788.5,409.6 791.7,411.9 794.9,414.3 798.1,416.6 801.3,419.0 804.5,421.4 807.7,423.7 811.0,426.1 814.2,428.4 817.5,430.8 820.8,433.1 824.1,435.5 827.4,437.8 830.8,440.2 834.1,442.5 837.5,444.9 840.8,447.3 844.2,449.6 847.6,452.0 851.1,454.3 854.5,456.7 858.0,459.0 861.4,461.4 864.9,463.7 868.4,466.1 871.9,468.5 875.4,470.8 879.0,473.2 882.5,475.5 886.1,477.9 889.7,480.2 893.3,482.6 896.9,484.9 900.5,487.3 904.2,489.7 907.8,492.0 911.5,494.4 915.2,496.7 918.9,499.1 922.6,501.4 926.4,503.8 930.1,506.1 933.9,508.5 937.7,510.8 941.5,513.2 945.3,515.6 949.1,517.9 953.0,520.3 956.8,522.6 960.7,525.0 964.6,527.3 968.5,529.7 972.5,532.0 976.4,534.4 980.4,536.8 984.3,539.1 988.3,541.5 992.3,543.8 996.4,546.2 1000.4,548.5 1004.5,550.9 1008.5,553.2 1012.6,555.6 1016.7,558.0 1020.9,560.3 1025.0,562.7 1029.2,565.0 1033.3,567.4 1037.5,569.7 1041.7,572.1 1046.0,574.4 1050.2,576.8 1054.5,579.1 1058.8,581.5 1063.0,583.9 1067.4,586.2 1071.7,588.6 1076.0,590.9 1080.4,593.3 1084.8,595.6 1089.2,598.0 1093.6,600.3 1098.0,602.7 1102.5,605.1 1106.9,607.4 1111.4,609.8 1115.9,612.1 1120.5,614.5 1125.0,616.8 1129.6,619.2 1134.1,621.5" fill="none" stroke="#f0c890" stroke-width="1.2" stroke-dasharray="1.8 5"/>
<polyline points="491.0,77.5 492.6,79.9 494.2,82.2 495.9,84.6 497.5,86.9 499.2,89.3 500.8,91.6 502.5,94.0 504.2,96.3 505.9,98.7 507.6,101.1 509.3,103.4 511.0,105.8 512.8,108.1 514.5,110.5 516.3,112.8 518.0,115.2 519.8,117.5 521.6,119.9 523.4,122.2 525.2,124.6 527.0,127.0 528.8,129.3 530.7,131.7 532.5,134.0 534.4,136.4 536.3,138.7 538.1,141.1 540.0,143.4 541.9,145.8 543.8,148.2 545.7,150.5 547.7,152.9 549.6,155.2 551.6,157.6 553.5,159.9 555.5,162.3 557.5,164.6 559.5,167.0 561.5,169.4 563.5,171.7 565.5,174.1 567.5,176.4 569.6,178.8 571.6,181.1 573.7,183.5 575.8,185.8 577.9,188.2 580.0,190.5 582.1,192.9 584.2,195.3 586.3,197.6 588.5,200.0 590.6,202.3 592.8,204.7 595.0,207.0 597.2,209.4 599.4,211.7 601.6,214.1 603.8,216.5 606.0,218.8 608.3,221.2 610.5,223.5 612.8,225.9 615.1,228.2 617.4,230.6 619.7,232.9 622.0,235.3 624.3,237.7 626.6,240.0 629.0,242.4 631.3,244.7 633.7,247.1 636.1,249.4 638.5,251.8 640.9,254.1 643.3,256.5 645.7,258.8 648.2,261.2 650.6,263.6 653.1,265.9 655.6,268.3 658.0,270.6 660.5,273.0 663.1,275.3 665.6,277.7 668.1,280.0 670.7,282.4 673.2,284.8 675.8,287.1 678.4,289.5 681.0,291.8 683.6,294.2 686.2,296.5 688.9,298.9 691.5,301.2 694.2,303.6 696.8,305.9 699.5,308.3 702.2,310.7 704.9,313.0 707.7,315.4 710.4,317.7 713.1,320.1 715.9,322.4 718.7,324.8 721.5,327.1 724.3,329.5 727.1,331.9 729.9,334.2 732.7,336.6 735.6,338.9 738.5,341.3 741.3,343.6 744.2,346.0 747.1,348.3 750.0,350.7 753.0,353.1 755.9,355.4 758.9,357.8 761.9,360.1 764.8,362.5 767.8,364.8 770.8,367.2 773.9,369.5 776.9,371.9 780.0,374.2 783.0,376.6 786.1,379.0 789.2,381.3 792.3,383.7 795.4,386.0 798.6,388.4 801.7,390.7 804.9,393.1 808.0,395.4 811.2,397.8 814.4,400.2 817.7,402.5 820.9,404.9 824.1,407.2 827.4,409.6 830.7,411.9 834.0,414.3 837.3,416.6 840.6,419.0 843.9,421.4 847.3,423.7 850.6,426.1 854.0,428.4 857.4,430.8 860.8,433.1 864.2,435.5 867.6,437.8 871.1,440.2 874.5,442.5 878.0,444.9 881.5,447.3 885.0,449.6 888.5,452.0 892.1,454.3 895.6,456.7 899.2,459.0 902.8,461.4 906.4,463.7 910.0,466.1 913.6,468.5 917.3,470.8 920.9,473.2 924.6,475.5 928.3,477.9 932.0,480.2 935.7,482.6 939.5,484.9 943.2,487.3 947.0,489.7 950.8,492.0 954.6,494.4 958.4,496.7 962.2,499.1 966.0,501.4 969.9,503.8 973.8,506.1 977.7,508.5 981.6,510.8 985.5,513.2 989.5,515.6 993.4,517.9 997.4,520.3 1001.4,522.6 1005.4,525.0 1009.4,527.3 1013.5,529.7 1017.5,532.0 1021.6,534.4 1025.7,536.8 1029.8,539.1 1033.9,541.5 1038.0,543.8 1042.2,546.2 1046.4,548.5 1050.6,550.9 1054.8,553.2 1059.0,555.6 1063.2,558.0 1067.5,560.3 1071.8,562.7 1076.1,565.0 1080.4,567.4 1084.7,569.7 1089.0,572.1 1093.4,574.4 1097.8,576.8 1102.2,579.1 1106.6,581.5 1111.0,583.9 1115.5,586.2 1119.9,588.6 1124.4,590.9 1128.9,593.3 1133.4,595.6 1138.0,598.0 1142.5,600.3 1147.1,602.7 1151.7,605.1 1156.3,607.4 1160.9,609.8 1165.6,612.1 1170.2,614.5 1174.9,616.8 1179.6,619.2 1184.3,621.5" fill="none" stroke="#f0c890" stroke-width="1.2" stroke-dasharray="1.8 5"/>
<polyline points="282.5,622.5 282.1,621.3 281.6,620.1 281.2,618.9 280.7,617.7 280.3,616.5 279.8,615.3 279.4,614.1 278.9,612.8 278.4,611.6 277.9,610.4 277.5,609.1 277.0,607.9 276.5,606.6 276.0,605.3 275.4,604.0 274.9,602.8 274.4,601.5 273.9,600.2 273.3,598.9 272.8,597.6 272.2,596.2 271.6,594.9 271.1,593.6 270.5,592.2 269.9,590.9 269.3,589.5 268.7,588.2 268.1,586.8 267.5,585.4 266.8,584.0 266.2,582.6 265.6,581.2 264.9,579.8 264.2,578.4 263.6,577.0 262.9,575.5 262.2,574.1 261.5,572.6 260.8,571.2 260.1,569.7 259.4,568.2 258.6,566.7 257.9,565.2 257.1,563.7 256.4,562.2 255.6,560.6 254.8,559.1 254.0,557.5 253.2,556.0 252.4,554.4 251.5,552.8 250.7,551.2 249.9,549.6 249.0,548.0 248.1,546.4 247.2,544.7 246.3,543.1 245.4,541.4 244.5,539.8 243.6,538.1 242.7,536.4 241.7,534.7 240.7,533.0 239.8,531.2 238.8,529.5 237.8,527.7 236.8,525.9 235.7,524.2 234.7,522.4 233.6,520.5 232.6,518.7 231.5,516.9 230.4,515.0 229.3,513.1 228.2,511.3 227.1,509.4 225.9,507.4 224.8,505.5 223.6,503.6 222.4,501.6 221.2,499.6 220.0,497.6 218.8,495.6 217.6,493.6 216.3,491.5 215.1,489.5 213.8,487.4 212.5,485.3 211.2,483.1 209.9,481.0 208.6,478.8 207.3,476.7 205.9,474.5 204.6,472.2 203.2,470.0 201.8,467.7 200.4,465.4 199.0,463.1 197.6,460.8 196.2,458.4 194.7,456.1 193.3,453.7 191.8,451.2 190.3,448.8 188.8,446.3 187.3,443.8 185.8,441.3 184.2,438.7 182.7,436.1 181.1,433.5 179.6,430.9 178.0,428.2 176.4,425.5 174.8,422.7 173.2,420.0 171.6,417.2 169.9,414.3 168.3,411.5 166.6,408.6 165.0,405.6 163.3,402.6 161.6,399.6 159.9,396.6 158.2,393.5 156.5,390.3 154.7,387.2 153.0,383.9 151.2,380.7 149.5,377.4 147.7,374.0 145.9,370.6 144.1,367.2 142.3,363.6 140.5,360.1 138.6,356.5 136.8,352.8 135.0,349.1 133.1,345.3 131.2,341.4 129.4,337.5 127.5,333.6 125.6,329.5 123.7,325.4 121.8,321.2 119.8,316.9 117.9,312.6 116.0,308.2 114.0,303.7 112.1,299.1 110.1,294.4 108.1,289.6 106.1,284.7 104.1,279.7 102.1,274.6 100.1,269.4 98.1,264.1 96.1,258.7 94.0,253.1 92.0,247.4 89.9,241.6" fill="none" stroke="#80ccff" stroke-width="1.3" stroke-dasharray="2 4.6"/>
<polyline points="302.6,622.5 302.3,621.3 301.9,620.1 301.5,618.9 301.2,617.7 300.8,616.5 300.4,615.3 300.1,614.1 299.7,612.8 299.3,611.6 298.9,610.4 298.5,609.1 298.1,607.9 297.7,606.6 297.3,605.3 296.9,604.0 296.4,602.8 296.0,601.5 295.6,600.2 295.1,598.9 294.7,597.6 294.2,596.2 293.7,594.9 293.3,593.6 292.8,592.2 292.3,590.9 291.8,589.5 291.3,588.2 290.8,586.8 290.3,585.4 289.7,584.0 289.2,582.6 288.7,581.2 288.1,579.8 287.6,578.4 287.0,577.0 286.4,575.5 285.8,574.1 285.2,572.6 284.6,571.2 284.0,569.7 283.4,568.2 282.8,566.7 282.2,565.2 281.5,563.7 280.8,562.2 280.2,560.6 279.5,559.1 278.8,557.5 278.1,556.0 277.4,554.4 276.7,552.8 276.0,551.2 275.2,549.6 274.5,548.0 273.7,546.4 272.9,544.7 272.1,543.1 271.3,541.4 270.5,539.8 269.7,538.1 268.9,536.4 268.0,534.7 267.1,533.0 266.3,531.2 265.4,529.5 264.5,527.7 263.6,525.9 262.6,524.2 261.7,522.4 260.7,520.5 259.8,518.7 258.8,516.9 257.8,515.0 256.8,513.1 255.7,511.3 254.7,509.4 253.6,507.4 252.6,505.5 251.5,503.6 250.4,501.6 249.3,499.6 248.1,497.6 247.0,495.6 245.8,493.6 244.6,491.5 243.4,489.5 242.2,487.4 241.0,485.3 239.8,483.1 238.5,481.0 237.2,478.8 235.9,476.7 234.6,474.5 233.3,472.2 232.0,470.0 230.6,467.7 229.3,465.4 227.9,463.1 226.5,460.8 225.0,458.4 223.6,456.1 222.2,453.7 220.7,451.2 219.2,448.8 217.7,446.3 216.2,443.8 214.7,441.3 213.1,438.7 211.6,436.1 210.0,433.5 208.4,430.9 206.8,428.2 205.2,425.5 203.5,422.7 201.9,420.0 200.2,417.2 198.5,414.3 196.8,411.5 195.1,408.6 193.4,405.6 191.6,402.6 189.9,399.6 188.1,396.6 186.3,393.5 184.6,390.3 182.7,387.2 180.9,383.9 179.1,380.7 177.2,377.4 175.4,374.0 173.5,370.6 171.6,367.2 169.7,363.6 167.8,360.1 165.9,356.5 163.9,352.8 162.0,349.1 160.0,345.3 158.0,341.4 156.0,337.5 154.0,333.6 152.0,329.5 150.0,325.4 147.9,321.2 145.9,316.9 143.8,312.6 141.7,308.2 139.7,303.7 137.6,299.1 135.5,294.4 133.3,289.6 131.2,284.7 129.1,279.7 126.9,274.6 124.7,269.4 122.6,264.1 120.4,258.7 118.2,253.1 116.0,247.4 113.8,241.6" fill="none" stroke="#80ccff" stroke-width="1.3" stroke-dasharray="2 4.6"/>
<polyline points="322.7,622.5 322.4,621.3 322.2,620.1 321.9,618.9 321.6,617.7 321.3,616.5 321.1,615.3 320.8,614.1 320.5,612.8 320.2,611.6 319.9,610.4 319.6,609.1 319.3,607.9 319.0,606.6 318.6,605.3 318.3,604.0 318.0,602.8 317.6,601.5 317.3,600.2 317.0,598.9 316.6,597.6 316.2,596.2 315.9,594.9 315.5,593.6 315.1,592.2 314.8,590.9 314.4,589.5 314.0,588.2 313.6,586.8 313.2,585.4 312.8,584.0 312.3,582.6 311.9,581.2 311.5,579.8 311.0,578.4 310.6,577.0 310.1,575.5 309.7,574.1 309.2,572.6 308.7,571.2 308.2,569.7 307.7,568.2 307.2,566.7 306.7,565.2 306.2,563.7 305.7,562.2 305.1,560.6 304.6,559.1 304.0,557.5 303.4,556.0 302.9,554.4 302.3,552.8 301.7,551.2 301.1,549.6 300.4,548.0 299.8,546.4 299.2,544.7 298.5,543.1 297.8,541.4 297.2,539.8 296.5,538.1 295.8,536.4 295.1,534.7 294.3,533.0 293.6,531.2 292.9,529.5 292.1,527.7 291.3,525.9 290.5,524.2 289.7,522.4 288.9,520.5 288.1,518.7 287.2,516.9 286.4,515.0 285.5,513.1 284.6,511.3 283.7,509.4 282.7,507.4 281.8,505.5 280.8,503.6 279.9,501.6 278.9,499.6 277.9,497.6 276.8,495.6 275.8,493.6 274.7,491.5 273.7,489.5 272.6,487.4 271.4,485.3 270.3,483.1 269.2,481.0 268.0,478.8 266.8,476.7 265.6,474.5 264.4,472.2 263.1,470.0 261.8,467.7 260.6,465.4 259.3,463.1 257.9,460.8 256.6,458.4 255.2,456.1 253.8,453.7 252.4,451.2 251.0,448.8 249.5,446.3 248.1,443.8 246.6,441.3 245.1,438.7 243.5,436.1 242.0,433.5 240.4,430.9 238.8,428.2 237.2,425.5 235.6,422.7 233.9,420.0 232.2,417.2 230.6,414.3 228.8,411.5 227.1,408.6 225.4,405.6 223.6,402.6 221.8,399.6 220.0,396.6 218.2,393.5 216.3,390.3 214.4,387.2 212.6,383.9 210.7,380.7 208.7,377.4 206.8,374.0 204.8,370.6 202.9,367.2 200.9,363.6 198.9,360.1 196.8,356.5 194.8,352.8 192.7,349.1 190.7,345.3 188.6,341.4 186.5,337.5 184.3,333.6 182.2,329.5 180.0,325.4 177.9,321.2 175.7,316.9 173.5,312.6 171.2,308.2 169.0,303.7 166.8,299.1 164.5,294.4 162.2,289.6 159.9,284.7 157.6,279.7 155.3,274.6 153.0,269.4 150.6,264.1 148.2,258.7 145.9,253.1 143.5,247.4 141.1,241.6" fill="none" stroke="#80ccff" stroke-width="1.3" stroke-dasharray="2 4.6"/>
<polyline points="342.8,622.5 342.6,621.3 342.4,620.1 342.2,618.9 342.1,617.7 341.9,616.5 341.7,615.3 341.5,614.1 341.3,612.8 341.0,611.6 340.8,610.4 340.6,609.1 340.4,607.9 340.2,606.6 340.0,605.3 339.7,604.0 339.5,602.8 339.3,601.5 339.0,600.2 338.8,598.9 338.5,597.6 338.3,596.2 338.0,594.9 337.7,593.6 337.5,592.2 337.2,590.9 336.9,589.5 336.6,588.2 336.3,586.8 336.0,585.4 335.7,584.0 335.4,582.6 335.1,581.2 334.8,579.8 334.5,578.4 334.2,577.0 333.8,575.5 333.5,574.1 333.1,572.6 332.8,571.2 332.4,569.7 332.0,568.2 331.7,566.7 331.3,565.2 330.9,563.7 330.5,562.2 330.1,560.6 329.7,559.1 329.3,557.5 328.8,556.0 328.4,554.4 328.0,552.8 327.5,551.2 327.0,549.6 326.6,548.0 326.1,546.4 325.6,544.7 325.1,543.1 324.6,541.4 324.1,539.8 323.5,538.1 323.0,536.4 322.5,534.7 321.9,533.0 321.3,531.2 320.7,529.5 320.1,527.7 319.5,525.9 318.9,524.2 318.3,522.4 317.6,520.5 317.0,518.7 316.3,516.9 315.6,515.0 314.9,513.1 314.2,511.3 313.4,509.4 312.7,507.4 311.9,505.5 311.1,503.6 310.3,501.6 309.5,499.6 308.7,497.6 307.8,495.6 307.0,493.6 306.1,491.5 305.2,489.5 304.3,487.4 303.3,485.3 302.4,483.1 301.4,481.0 300.4,478.8 299.4,476.7 298.3,474.5 297.3,472.2 296.2,470.0 295.1,467.7 294.0,465.4 292.8,463.1 291.6,460.8 290.5,458.4 289.2,456.1 288.0,453.7 286.7,451.2 285.4,448.8 284.1,446.3 282.8,443.8 281.4,441.3 280.0,438.7 278.6,436.1 277.1,433.5 275.7,430.9 274.2,428.2 272.7,425.5 271.1,422.7 269.5,420.0 267.9,417.2 266.3,414.3 264.6,411.5 263.0,408.6 261.2,405.6 259.5,402.6 257.7,399.6 255.9,396.6 254.1,393.5 252.3,390.3 250.4,387.2 248.5,383.9 246.6,380.7 244.6,377.4 242.7,374.0 240.7,370.6 238.6,367.2 236.6,363.6 234.5,360.1 232.4,356.5 230.3,352.8 228.2,349.1 226.0,345.3 223.8,341.4 221.6,337.5 219.3,333.6 217.1,329.5 214.8,325.4 212.5,321.2 210.2,316.9 207.8,312.6 205.4,308.2 203.1,303.7 200.6,299.1 198.2,294.4 195.8,289.6 193.3,284.7 190.8,279.7 188.3,274.6 185.8,269.4 183.2,264.1 180.6,258.7 178.1,253.1 175.5,247.4 172.8,241.6" fill="none" stroke="#80ccff" stroke-width="1.3" stroke-dasharray="2 4.6"/>
<polyline points="362.9,622.5 362.8,621.3 362.7,620.1 362.6,618.9 362.5,617.7 362.3,616.5 362.2,615.3 362.1,614.1 362.0,612.8 361.9,611.6 361.7,610.4 361.6,609.1 361.5,607.9 361.3,606.6 361.2,605.3 361.1,604.0 360.9,602.8 360.8,601.5 360.6,600.2 360.5,598.9 360.3,597.6 360.2,596.2 360.0,594.9 359.8,593.6 359.7,592.2 359.5,590.9 359.3,589.5 359.1,588.2 359.0,586.8 358.8,585.4 358.6,584.0 358.4,582.6 358.2,581.2 358.0,579.8 357.8,578.4 357.6,577.0 357.3,575.5 357.1,574.1 356.9,572.6 356.7,571.2 356.4,569.7 356.2,568.2 355.9,566.7 355.7,565.2 355.4,563.7 355.2,562.2 354.9,560.6 354.6,559.1 354.3,557.5 354.1,556.0 353.8,554.4 353.5,552.8 353.2,551.2 352.8,549.6 352.5,548.0 352.2,546.4 351.9,544.7 351.5,543.1 351.2,541.4 350.8,539.8 350.5,538.1 350.1,536.4 349.7,534.7 349.3,533.0 348.9,531.2 348.5,529.5 348.1,527.7 347.6,525.9 347.2,524.2 346.7,522.4 346.3,520.5 345.8,518.7 345.3,516.9 344.8,515.0 344.3,513.1 343.8,511.3 343.3,509.4 342.7,507.4 342.2,505.5 341.6,503.6 341.0,501.6 340.4,499.6 339.8,497.6 339.2,495.6 338.5,493.6 337.9,491.5 337.2,489.5 336.5,487.4 335.8,485.3 335.1,483.1 334.3,481.0 333.6,478.8 332.8,476.7 332.0,474.5 331.1,472.2 330.3,470.0 329.4,467.7 328.5,465.4 327.6,463.1 326.7,460.8 325.7,458.4 324.8,456.1 323.7,453.7 322.7,451.2 321.7,448.8 320.6,446.3 319.5,443.8 318.3,441.3 317.2,438.7 316.0,436.1 314.7,433.5 313.5,430.9 312.2,428.2 310.9,425.5 309.5,422.7 308.2,420.0 306.7,417.2 305.3,414.3 303.8,411.5 302.3,408.6 300.8,405.6 299.2,402.6 297.6,399.6 295.9,396.6 294.2,393.5 292.5,390.3 290.7,387.2 288.9,383.9 287.1,380.7 285.2,377.4 283.3,374.0 281.4,370.6 279.4,367.2 277.4,363.6 275.3,360.1 273.3,356.5 271.1,352.8 269.0,349.1 266.8,345.3 264.5,341.4 262.3,337.5 260.0,333.6 257.6,329.5 255.3,325.4 252.9,321.2 250.4,316.9 248.0,312.6 245.5,308.2 243.0,303.7 240.4,299.1 237.8,294.4 235.2,289.6 232.5,284.7 229.9,279.7 227.2,274.6 224.4,269.4 221.7,264.1 218.9,258.7 216.1,253.1 213.2,247.4 210.4,241.6" fill="none" stroke="#80ccff" stroke-width="1.3" stroke-dasharray="2 4.6"/>
<polyline points="383.0,622.5 383.0,621.3 382.9,620.1 382.9,618.9 382.8,617.7 382.8,616.5 382.8,615.3 382.7,614.1 382.7,612.8 382.6,611.6 382.6,610.4 382.5,609.1 382.5,607.9 382.4,606.6 382.3,605.3 382.3,604.0 382.2,602.8 382.2,601.5 382.1,600.2 382.0,598.9 382.0,597.6 381.9,596.2 381.8,594.9 381.8,593.6 381.7,592.2 381.6,590.9 381.5,589.5 381.4,588.2 381.3,586.8 381.3,585.4 381.2,584.0 381.1,582.6 381.0,581.2 380.9,579.8 380.8,578.4 380.7,577.0 380.6,575.5 380.5,574.1 380.3,572.6 380.2,571.2 380.1,569.7 380.0,568.2 379.8,566.7 379.7,565.2 379.6,563.7 379.4,562.2 379.3,560.6 379.2,559.1 379.0,557.5 378.8,556.0 378.7,554.4 378.5,552.8 378.4,551.2 378.2,549.6 378.0,548.0 377.8,546.4 377.6,544.7 377.4,543.1 377.2,541.4 377.0,539.8 376.8,538.1 376.6,536.4 376.4,534.7 376.2,533.0 375.9,531.2 375.7,529.5 375.5,527.7 375.2,525.9 374.9,524.2 374.7,522.4 374.4,520.5 374.1,518.7 373.8,516.9 373.5,515.0 373.2,513.1 372.9,511.3 372.6,509.4 372.2,507.4 371.9,505.5 371.5,503.6 371.2,501.6 370.8,499.6 370.4,497.6 370.0,495.6 369.6,493.6 369.2,491.5 368.7,489.5 368.3,487.4 367.8,485.3 367.3,483.1 366.8,481.0 366.3,478.8 365.8,476.7 365.3,474.5 364.7,472.2 364.2,470.0 363.6,467.7 363.0,465.4 362.3,463.1 361.7,460.8 361.0,458.4 360.4,456.1 359.7,453.7 358.9,451.2 358.2,448.8 357.4,446.3 356.6,443.8 355.8,441.3 354.9,438.7 354.1,436.1 353.2,433.5 352.2,430.9 351.3,428.2 350.3,425.5 349.3,422.7 348.2,420.0 347.2,417.2 346.0,414.3 344.9,411.5 343.7,408.6 342.5,405.6 341.2,402.6 339.9,399.6 338.6,396.6 337.2,393.5 335.8,390.3 334.3,387.2 332.8,383.9 331.2,380.7 329.6,377.4 328.0,374.0 326.3,370.6 324.5,367.2 322.8,363.6 320.9,360.1 319.0,356.5 317.1,352.8 315.1,349.1 313.0,345.3 310.9,341.4 308.8,337.5 306.6,333.6 304.3,329.5 302.0,325.4 299.6,321.2 297.2,316.9 294.8,312.6 292.2,308.2 289.7,303.7 287.1,299.1 284.4,294.4 281.7,289.6 278.9,284.7 276.1,279.7 273.3,274.6 270.4,269.4 267.4,264.1 264.4,258.7 261.4,253.1 258.3,247.4 255.2,241.6" fill="none" stroke="#80ccff" stroke-width="1.3" stroke-dasharray="2 4.6"/>
<polyline points="403.1,622.5 403.1,621.3 403.1,620.1 403.1,618.9 403.1,617.7 403.1,616.5 403.1,615.3 403.2,614.1 403.2,612.8 403.2,611.6 403.2,610.4 403.2,609.1 403.2,607.9 403.2,606.6 403.2,605.3 403.2,604.0 403.2,602.8 403.2,601.5 403.2,600.2 403.1,598.9 403.1,597.6 403.1,596.2 403.1,594.9 403.1,593.6 403.1,592.2 403.1,590.9 403.1,589.5 403.1,588.2 403.0,586.8 403.0,585.4 403.0,584.0 403.0,582.6 403.0,581.2 402.9,579.8 402.9,578.4 402.9,577.0 402.8,575.5 402.8,574.1 402.8,572.6 402.7,571.2 402.7,569.7 402.7,568.2 402.6,566.7 402.6,565.2 402.5,563.7 402.5,562.2 402.4,560.6 402.4,559.1 402.3,557.5 402.3,556.0 402.2,554.4 402.2,552.8 402.1,551.2 402.0,549.6 402.0,548.0 401.9,546.4 401.8,544.7 401.7,543.1 401.6,541.4 401.6,539.8 401.5,538.1 401.4,536.4 401.3,534.7 401.2,533.0 401.1,531.2 401.0,529.5 400.8,527.7 400.7,525.9 400.6,524.2 400.5,522.4 400.3,520.5 400.2,518.7 400.1,516.9 399.9,515.0 399.8,513.1 399.6,511.3 399.4,509.4 399.3,507.4 399.1,505.5 398.9,503.6 398.7,501.6 398.5,499.6 398.3,497.6 398.1,495.6 397.9,493.6 397.6,491.5 397.4,489.5 397.2,487.4 396.9,485.3 396.7,483.1 396.4,481.0 396.1,478.8 395.8,476.7 395.5,474.5 395.2,472.2 394.9,470.0 394.5,467.7 394.2,465.4 393.8,463.1 393.4,460.8 393.0,458.4 392.7,456.1 392.3,453.7 391.9,451.2 391.4,448.8 391.0,446.3 390.6,443.8 390.1,441.3 389.6,438.7 389.1,436.1 388.5,433.5 388.0,430.9 387.4,428.2 386.8,425.5 386.2,422.7 385.5,420.0 384.9,417.2 384.2,414.3 383.4,411.5 382.7,408.6 381.9,405.6 381.1,402.6 380.2,399.6 379.3,396.6 378.4,393.5 377.4,390.3 376.4,387.2 375.4,383.9 374.3,380.7 373.2,377.4 372.0,374.0 370.8,370.6 369.5,367.2 368.2,363.6 366.8,360.1 365.4,356.5 363.9,352.8 362.3,349.1 360.7,345.3 359.1,341.4 357.3,337.5 355.5,333.6 353.6,329.5 351.7,325.4 349.7,321.2 347.6,316.9 345.4,312.6 343.2,308.2 340.9,303.7 338.5,299.1 336.0,294.4 333.4,289.6 330.8,284.7 328.1,279.7 325.3,274.6 322.4,269.4 319.5,264.1 316.4,258.7 313.3,253.1 310.2,247.4 306.9,241.6" fill="none" stroke="#80ccff" stroke-width="1.3" stroke-dasharray="2 4.6"/>
<polyline points="423.2,622.5 423.2,621.3 423.3,620.1 423.3,618.9 423.4,617.7 423.4,616.5 423.5,615.3 423.5,614.1 423.6,612.8 423.6,611.6 423.7,610.4 423.7,609.1 423.8,607.9 423.8,606.6 423.9,605.3 423.9,604.0 423.9,602.8 424.0,601.5 424.0,600.2 424.1,598.9 424.1,597.6 424.2,596.2 424.2,594.9 424.2,593.6 424.3,592.2 424.3,590.9 424.4,589.5 424.4,588.2 424.4,586.8 424.5,585.4 424.5,584.0 424.6,582.6 424.6,581.2 424.6,579.8 424.7,578.4 424.7,577.0 424.7,575.5 424.8,574.1 424.8,572.6 424.8,571.2 424.9,569.7 424.9,568.2 424.9,566.7 425.0,565.2 425.0,563.7 425.0,562.2 425.0,560.6 425.1,559.1 425.1,557.5 425.1,556.0 425.1,554.4 425.2,552.8 425.2,551.2 425.2,549.6 425.2,548.0 425.2,546.4 425.2,544.7 425.2,543.1 425.3,541.4 425.3,539.8 425.3,538.1 425.3,536.4 425.3,534.7 425.3,533.0 425.3,531.2 425.3,529.5 425.3,527.7 425.3,525.9 425.3,524.2 425.2,522.4 425.2,520.5 425.2,518.7 425.2,516.9 425.2,515.0 425.1,513.1 425.1,511.3 425.1,509.4 425.0,507.4 425.0,505.5 425.0,503.6 424.9,501.6 424.9,499.6 424.8,497.6 424.8,495.6 424.7,493.6 424.6,491.5 424.6,489.5 424.5,487.4 424.4,485.3 424.3,483.1 424.2,481.0 424.1,478.8 424.0,476.7 423.9,474.5 423.8,472.2 423.7,470.0 423.6,467.7 423.4,465.4 423.3,463.1 423.2,460.8 423.0,458.4 422.9,456.1 422.8,453.7 422.7,451.2 422.5,448.8 422.4,446.3 422.2,443.8 422.1,441.3 421.9,438.7 421.7,436.1 421.5,433.5 421.3,430.9 421.1,428.2 420.8,425.5 420.6,422.7 420.3,420.0 420.0,417.2 419.7,414.3 419.4,411.5 419.1,408.6 418.7,405.6 418.4,402.6 418.0,399.6 417.6,396.6 417.1,393.5 416.7,390.3 416.2,387.2 415.6,383.9 415.1,380.7 414.5,377.4 413.9,374.0 413.3,370.6 412.6,367.2 411.9,363.6 411.1,360.1 410.3,356.5 409.4,352.8 408.5,349.1 407.6,345.3 406.6,341.4 405.5,337.5 404.4,333.6 403.3,329.5 402.0,325.4 400.7,321.2 399.3,316.9 397.9,312.6 396.3,308.2 394.7,303.7 393.0,299.1 391.2,294.4 389.3,289.6 387.3,284.7 385.2,279.7 382.9,274.6 380.6,269.4 378.2,264.1 375.6,258.7 372.9,253.1 370.1,247.4 367.1,241.6" fill="none" stroke="#80ccff" stroke-width="1.3" stroke-dasharray="2 4.6"/>
<polyline points="443.3,622.5 443.4,621.3 443.5,620.1 443.5,618.9 443.6,617.7 443.7,616.5 443.8,615.3 443.9,614.1 443.9,612.8 444.0,611.6 444.1,610.4 444.2,609.1 444.3,607.9 444.3,606.6 444.4,605.3 444.5,604.0 444.6,602.8 444.7,601.5 444.7,600.2 444.8,598.9 444.9,597.6 445.0,596.2 445.1,594.9 445.2,593.6 445.2,592.2 445.3,590.9 445.4,589.5 445.5,588.2 445.6,586.8 445.7,585.4 445.7,584.0 445.8,582.6 445.9,581.2 446.0,579.8 446.1,578.4 446.2,577.0 446.3,575.5 446.3,574.1 446.4,572.6 446.5,571.2 446.6,569.7 446.7,568.2 446.8,566.7 446.8,565.2 446.9,563.7 447.0,562.2 447.1,560.6 447.2,559.1 447.3,557.5 447.4,556.0 447.4,554.4 447.5,552.8 447.6,551.2 447.7,549.6 447.8,548.0 447.9,546.4 447.9,544.7 448.0,543.1 448.1,541.4 448.2,539.8 448.3,538.1 448.4,536.4 448.4,534.7 448.5,533.0 448.6,531.2 448.7,529.5 448.8,527.7 448.8,525.9 448.9,524.2 449.0,522.4 449.1,520.5 449.1,518.7 449.2,516.9 449.3,515.0 449.4,513.1 449.4,511.3 449.5,509.4 449.6,507.4 449.6,505.5 449.7,503.6 449.8,501.6 449.9,499.6 449.9,497.6 450.0,495.6 450.0,493.6 450.1,491.5 450.2,489.5 450.2,487.4 450.3,485.3 450.3,483.1 450.4,481.0 450.4,478.8 450.5,476.7 450.5,474.5 450.6,472.2 450.6,470.0 450.6,467.7 450.7,465.4 450.7,463.1 450.7,460.8 450.7,458.4 450.9,456.1 451.0,453.7 451.1,451.2 451.2,448.8 451.2,446.3 451.3,443.8 451.4,441.3 451.5,438.7 451.6,436.1 451.7,433.5 451.7,430.9 451.8,428.2 451.8,425.5 451.9,422.7 451.9,420.0 452.0,417.2 452.0,414.3 452.0,411.5 452.0,408.6 452.0,405.6 452.0,402.6 452.0,399.6 452.0,396.6 452.0,393.5 451.9,390.3 451.9,387.2 451.8,383.9 451.7,380.7 451.6,377.4 451.5,374.0 451.3,370.6 451.2,367.2 451.0,363.6 450.8,360.1 450.6,356.5 450.4,352.8 450.1,349.1 449.8,345.3 449.5,341.4 449.1,337.5 448.7,333.6 448.3,329.5 447.8,325.4 447.3,321.2 446.8,316.9 446.2,312.6 445.5,308.2 444.8,303.7 444.0,299.1 443.2,294.4 442.3,289.6 441.3,284.7 440.2,279.7 439.1,274.6 437.8,269.4 436.5,264.1 435.0,258.7 433.4,253.1 431.7,247.4 429.9,241.6" fill="none" stroke="#80ccff" stroke-width="1.3" stroke-dasharray="2 4.6"/>
<polyline points="463.4,622.5 463.5,621.3 463.6,620.1 463.7,618.9 463.8,617.7 463.9,616.5 464.0,615.3 464.1,614.1 464.2,612.8 464.3,611.6 464.4,610.4 464.5,609.1 464.7,607.9 464.8,606.6 464.9,605.3 465.0,604.0 465.1,602.8 465.2,601.5 465.3,600.2 465.4,598.9 465.5,597.6 465.6,596.2 465.8,594.9 465.9,593.6 466.0,592.2 466.1,590.9 466.2,589.5 466.3,588.2 466.5,586.8 466.6,585.4 466.7,584.0 466.8,582.6 466.9,581.2 467.1,579.8 467.2,578.4 467.3,577.0 467.4,575.5 467.5,574.1 467.7,572.6 467.8,571.2 467.9,569.7 468.0,568.2 468.2,566.7 468.3,565.2 468.4,563.7 468.5,562.2 468.7,560.6 468.8,559.1 468.9,557.5 469.1,556.0 469.2,554.4 469.3,552.8 469.5,551.2 469.6,549.6 469.7,548.0 469.9,546.4 470.0,544.7 470.1,543.1 470.3,541.4 470.4,539.8 470.5,538.1 470.7,536.4 470.8,534.7 471.0,533.0 471.1,531.2 471.2,529.5 471.4,527.7 471.5,525.9 471.7,524.2 471.8,522.4 471.9,520.5 472.1,518.7 472.2,516.9 472.4,515.0 472.5,513.1 472.7,511.3 472.8,509.4 473.0,507.4 473.1,505.5 473.3,503.6 473.4,501.6 473.6,499.6 473.7,497.6 473.9,495.6 474.0,493.6 474.2,491.5 474.3,489.5 474.5,487.4 474.6,485.3 474.8,483.1 474.9,481.0 475.1,478.8 475.2,476.7 475.4,474.5 475.5,472.2 475.7,470.0 475.8,467.7 476.0,465.4 476.2,463.1 476.3,460.8 476.5,458.4 476.7,456.1 477.0,453.7 477.3,451.2 477.5,448.8 477.8,446.3 478.1,443.8 478.4,441.3 478.6,438.7 478.9,436.1 479.2,433.5 479.5,430.9 479.7,428.2 480.0,425.5 480.3,422.7 480.5,420.0 480.8,417.2 481.1,414.3 481.4,411.5 481.6,408.6 481.9,405.6 482.2,402.6 482.4,399.6 482.7,396.6 483.0,393.5 483.2,390.3 483.5,387.2 483.8,383.9 484.0,380.7 484.3,377.4 484.5,374.0 484.7,370.6 485.0,367.2 485.2,363.6 485.4,360.1 485.7,356.5 485.9,352.8 486.1,349.1 486.3,345.3 486.5,341.4 486.6,337.5 486.8,333.6 486.9,329.5 487.1,325.4 487.2,321.2 487.3,316.9 487.4,312.6 487.5,308.2 487.5,303.7 487.5,299.1 487.5,294.4 487.5,289.6 487.4,284.7 487.3,279.7 487.1,274.6 486.9,269.4 486.7,264.1 486.4,258.7 486.1,253.1 485.6,247.4 485.1,241.6" fill="none" stroke="#80ccff" stroke-width="1.3" stroke-dasharray="2 4.6"/>
<polyline points="162.6,458.4 160.1,463.1 157.5,467.7 155.1,472.2 152.6,476.7 150.3,481.0 147.9,485.3 145.6,489.5 143.4,493.6 141.2,497.6 139.0,501.6 136.9,505.5 134.8,509.4 132.7,513.1 130.7,516.9 128.7,520.5 126.7,524.2 124.8,527.7 122.9,531.2 121.0,534.7 119.1,538.1 117.3,541.4 115.5,544.7 113.8,548.0 112.0,551.2 110.3,554.4 108.6,557.5 106.9,560.6 105.3,563.7 103.6,566.7 102.0,569.7 100.4,572.6 98.9,575.5 97.3,578.4 95.8,581.2 94.3,584.0 92.8,586.8 91.3,589.5 89.8,592.2 88.4,594.9 87.0,597.6 85.6,600.2 84.2,602.8 82.8,605.3 81.4,607.9 80.1,610.4 78.8,612.8 77.5,615.3 76.1,617.7 74.9,620.1 73.6,622.5" fill="none" stroke="#b0b0b0" stroke-width="1.1" stroke-dasharray="5.5 7"/>
<polyline points="194.6,458.4 192.1,463.1 189.6,467.7 187.2,472.2 184.8,476.7 182.5,481.0 180.2,485.3 178.0,489.5 175.8,493.6 173.6,497.6 171.5,501.6 169.4,505.5 167.4,509.4 165.4,513.1 163.4,516.9 161.4,520.5 159.5,524.2 157.6,527.7 155.8,531.2 153.9,534.7 152.1,538.1 150.3,541.4 148.6,544.7 146.9,548.0 145.2,551.2 143.5,554.4 141.8,557.5 140.2,560.6 138.6,563.7 137.0,566.7 135.4,569.7 133.9,572.6 132.3,575.5 130.8,578.4 129.3,581.2 127.9,584.0 126.4,586.8 125.0,589.5 123.5,592.2 122.1,594.9 120.8,597.6 119.4,600.2 118.0,602.8 116.7,605.3 115.4,607.9 114.0,610.4 112.7,612.8 111.5,615.3 110.2,617.7 108.9,620.1 107.7,622.5" fill="none" stroke="#b0b0b0" stroke-width="1.1" stroke-dasharray="5.5 7"/>
<polyline points="228.7,458.4 226.2,463.1 223.8,467.7 221.5,472.2 219.2,476.7 216.9,481.0 214.7,485.3 212.5,489.5 210.4,493.6 208.3,497.6 206.2,501.6 204.2,505.5 202.2,509.4 200.2,513.1 198.3,516.9 196.4,520.5 194.5,524.2 192.7,527.7 190.9,531.2 189.1,534.7 187.3,538.1 185.6,541.4 183.9,544.7 182.2,548.0 180.6,551.2 178.9,554.4 177.3,557.5 175.7,560.6 174.2,563.7 172.6,566.7 171.1,569.7 169.6,572.6 168.1,575.5 166.6,578.4 165.2,581.2 163.8,584.0 162.3,586.8 160.9,589.5 159.6,592.2 158.2,594.9 156.8,597.6 155.5,600.2 154.2,602.8 152.9,605.3 151.6,607.9 150.3,610.4 149.1,612.8 147.8,615.3 146.6,617.7 145.4,620.1 144.2,622.5" fill="none" stroke="#b0b0b0" stroke-width="1.1" stroke-dasharray="5.5 7"/>
<polyline points="277.4,458.4 275.1,463.1 272.8,467.7 270.5,472.2 268.3,476.7 266.1,481.0 264.0,485.3 261.9,489.5 259.8,493.6 257.8,497.6 255.8,501.6 253.9,505.5 252.0,509.4 250.1,513.1 248.2,516.9 246.4,520.5 244.6,524.2 242.9,527.7 241.1,531.2 239.4,534.7 237.7,538.1 236.1,541.4 234.5,544.7 232.8,548.0 231.3,551.2 229.7,554.4 228.1,557.5 226.6,560.6 225.1,563.7 223.6,566.7 222.2,569.7 220.7,572.6 219.3,575.5 217.9,578.4 216.5,581.2 215.2,584.0 213.8,586.8 212.5,589.5 211.1,592.2 209.8,594.9 208.6,597.6 207.3,600.2 206.0,602.8 204.8,605.3 203.5,607.9 202.3,610.4 201.1,612.8 199.9,615.3 198.7,617.7 197.6,620.1 196.4,622.5" fill="none" stroke="#b0b0b0" stroke-width="1.1" stroke-dasharray="5.5 7"/>
<polyline points="317.3,458.4 315.1,463.1 312.8,467.7 310.7,472.2 308.5,476.7 306.4,481.0 304.4,485.3 302.4,489.5 300.4,493.6 298.4,497.6 296.5,501.6 294.7,505.5 292.8,509.4 291.0,513.1 289.2,516.9 287.5,520.5 285.7,524.2 284.0,527.7 282.4,531.2 280.7,534.7 279.1,538.1 277.5,541.4 275.9,544.7 274.4,548.0 272.9,551.2 271.3,554.4 269.9,557.5 268.4,560.6 267.0,563.7 265.5,566.7 264.1,569.7 262.7,572.6 261.4,575.5 260.0,578.4 258.7,581.2 257.4,584.0 256.1,586.8 254.8,589.5 253.5,592.2 252.3,594.9 251.0,597.6 249.8,600.2 248.6,602.8 247.4,605.3 246.2,607.9 245.0,610.4 243.9,612.8 242.7,615.3 241.6,617.7 240.5,620.1 239.4,622.5" fill="none" stroke="#b0b0b0" stroke-width="1.1" stroke-dasharray="5.5 7"/>
<polyline points="342.0,458.4 339.8,463.1 337.6,467.7 335.5,472.2 333.4,476.7 331.4,481.0 329.4,485.3 327.4,489.5 325.5,493.6 323.6,497.6 321.7,501.6 319.9,505.5 318.1,509.4 316.3,513.1 314.6,516.9 312.9,520.5 311.2,524.2 309.5,527.7 307.9,531.2 306.3,534.7 304.7,538.1 303.1,541.4 301.6,544.7 300.1,548.0 298.6,551.2 297.1,554.4 295.7,557.5 294.3,560.6 292.9,563.7 291.5,566.7 290.1,569.7 288.7,572.6 287.4,575.5 286.1,578.4 284.8,581.2 283.5,584.0 282.2,586.8 281.0,589.5 279.8,592.2 278.5,594.9 277.3,597.6 276.1,600.2 275.0,602.8 273.8,605.3 272.6,607.9 271.5,610.4 270.4,612.8 269.3,615.3 268.2,617.7 267.1,620.1 266.0,622.5" fill="none" stroke="#b0b0b0" stroke-width="1.1" stroke-dasharray="5.5 7"/>
<polyline points="374.6,458.4 372.5,463.1 370.4,467.7 368.3,472.2 366.3,476.7 364.3,481.0 362.4,485.3 360.5,489.5 358.6,493.6 356.8,497.6 355.0,501.6 353.2,505.5 351.4,509.4 349.7,513.1 348.1,516.9 346.4,520.5 344.8,524.2 343.2,527.7 341.6,531.2 340.0,534.7 338.5,538.1 337.0,541.4 335.5,544.7 334.1,548.0 332.6,551.2 331.2,554.4 329.8,557.5 328.5,560.6 327.1,563.7 325.8,566.7 324.4,569.7 323.1,572.6 321.8,575.5 320.6,578.4 319.3,581.2 318.1,584.0 316.9,586.8 315.7,589.5 314.5,592.2 313.3,594.9 312.1,597.6 311.0,600.2 309.8,602.8 308.7,605.3 307.6,607.9 306.5,610.4 305.4,612.8 304.3,615.3 303.3,617.7 302.2,620.1 301.2,622.5" fill="none" stroke="#b0b0b0" stroke-width="1.1" stroke-dasharray="5.5 7"/>
<polyline points="406.2,458.4 404.1,463.1 402.0,467.7 400.0,472.2 398.1,476.7 396.2,481.0 394.3,485.3 392.5,489.5 390.7,493.6 388.9,497.6 387.1,501.6 385.4,505.5 383.7,509.4 382.1,513.1 380.5,516.9 378.9,520.5 377.3,524.2 375.8,527.7 374.2,531.2 372.7,534.7 371.3,538.1 369.8,541.4 368.4,544.7 367.0,548.0 365.6,551.2 364.2,554.4 362.9,557.5 361.6,560.6 360.2,563.7 359.0,566.7 357.7,569.7 356.4,572.6 355.2,575.5 354.0,578.4 352.8,581.2 351.6,584.0 350.4,586.8 349.2,589.5 348.1,592.2 346.9,594.9 345.8,597.6 344.7,600.2 343.6,602.8 342.5,605.3 341.5,607.9 340.4,610.4 339.4,612.8 338.3,615.3 337.3,617.7 336.3,620.1 335.3,622.5" fill="none" stroke="#b0b0b0" stroke-width="1.1" stroke-dasharray="5.5 7"/>
<polyline points="434.6,458.4 432.5,463.1 430.6,467.7 428.6,472.2 426.7,476.7 424.9,481.0 423.1,485.3 421.3,489.5 419.5,493.6 417.8,497.6 416.1,501.6 414.5,505.5 412.9,509.4 411.3,513.1 409.7,516.9 408.1,520.5 406.6,524.2 405.1,527.7 403.7,531.2 402.2,534.7 400.8,538.1 399.4,541.4 398.0,544.7 396.7,548.0 395.3,551.2 394.0,554.4 392.7,557.5 391.4,560.6 390.2,563.7 388.9,566.7 387.7,569.7 386.5,572.6 385.3,575.5 384.1,578.4 382.9,581.2 381.8,584.0 380.6,586.8 379.5,589.5 378.4,592.2 377.3,594.9 376.2,597.6 375.2,600.2 374.1,602.8 373.1,605.3 372.1,607.9 371.0,610.4 370.0,612.8 369.0,615.3 368.1,617.7 367.1,620.1 366.1,622.5" fill="none" stroke="#b0b0b0" stroke-width="1.1" stroke-dasharray="5.5 7"/>
<polyline points="471.9,458.4 470.0,463.1 468.1,467.7 466.3,472.2 464.4,476.7 462.7,481.0 460.9,485.3 459.2,489.5 457.6,493.6 455.9,497.6 454.3,501.6 452.7,505.5 451.2,509.4 449.7,513.1 448.2,516.9 446.7,520.5 445.2,524.2 443.8,527.7 442.4,531.2 441.0,534.7 439.7,538.1 438.3,541.4 437.0,544.7 435.7,548.0 434.5,551.2 433.2,554.4 432.0,557.5 430.7,560.6 429.5,563.7 428.4,566.7 427.2,569.7 426.0,572.6 424.9,575.5 423.8,578.4 422.7,581.2 421.6,584.0 420.5,586.8 419.4,589.5 418.4,592.2 417.4,594.9 416.3,597.6 415.3,600.2 414.3,602.8 413.3,605.3 412.4,607.9 411.4,610.4 410.4,612.8 409.5,615.3 408.6,617.7 407.6,620.1 406.7,622.5" fill="none" stroke="#b0b0b0" stroke-width="1.1" stroke-dasharray="5.5 7"/>
<polyline points="405.6,622.5 405.6,621.3 405.7,620.1 405.7,618.9 405.7,617.7 405.8,616.5 405.8,615.3 405.8,614.1 405.8,612.8 405.9,611.6 405.9,610.4 405.9,609.1 405.9,607.9 406.0,606.6 406.0,605.3 406.0,604.0 406.0,602.8 406.1,601.5 406.1,600.2 406.1,598.9 406.1,597.6 406.1,596.2 406.1,594.9 406.2,593.6 406.2,592.2 406.2,590.9 406.2,589.5 406.2,588.2 406.2,586.8 406.2,585.4 406.2,584.0 406.2,582.6 406.2,581.2 406.2,579.8 406.3,578.4 406.3,577.0 406.2,575.5 406.2,574.1 406.2,572.6 406.2,571.2 406.2,569.7 406.2,568.2 406.2,566.7 406.2,565.2 406.2,563.7 406.2,562.2 406.1,560.6 406.1,559.1 406.1,557.5 406.1,556.0 406.1,554.4 406.0,552.8 406.0,551.2 406.0,549.6 405.9,548.0 405.9,546.4 405.8,544.7 405.8,543.1 405.7,541.4 405.7,539.8 405.6,538.1 405.6,536.4 405.5,534.7 405.5,533.0 405.4,531.2 405.3,529.5 405.2,527.7 405.2,525.9 405.1,524.2 405.0,522.4 404.9,520.5 404.8,518.7 404.7,516.9 404.6,515.0 404.5,513.1 404.4,511.3 404.3,509.4 404.1,507.4 404.0,505.5 403.9,503.6 403.7,501.6 403.6,499.6 403.4,497.6 403.3,495.6 403.1,493.6 402.9,491.5 402.7,489.5 402.5,487.4 402.3,485.3 402.1,483.1 401.9,481.0 401.7,478.8 401.4,476.7 401.2,474.5 400.9,472.2 400.7,470.0 400.4,467.7 400.1,465.4 399.8,463.1 399.5,460.8 399.2,458.4 398.8,456.1 398.5,453.7 398.1,451.2 397.7,448.8 397.3,446.3 396.9,443.8 396.5,441.3 396.0,438.7 395.5,436.1 395.1,433.5 394.6,430.9 394.0,428.2 393.5,425.5 392.9,422.7 392.3,420.0 391.7,417.2 391.0,414.3 390.4,411.5 389.7,408.6 388.9,405.6 388.2,402.6 387.4,399.6 386.5,396.6 385.7,393.5 384.8,390.3 383.8,387.2 382.9,383.9 381.9,380.7 380.8,377.4 379.7,374.0 378.5,370.6 377.3,367.2 376.1,363.6 374.8,360.1 373.4,356.5 372.0,352.8 370.5,349.1 369.0,345.3 367.4,341.4 365.7,337.5 364.0,333.6 362.2,329.5 360.3,325.4 358.4,321.2 356.4,316.9 354.3,312.6 352.1,308.2 349.8,303.7 347.5,299.1 345.1,294.4 342.6,289.6 340.0,284.7 337.3,279.7 334.5,274.6 331.7,269.4 328.8,264.1 325.8,258.7 322.7,253.1 319.5,247.4 316.3,241.6 312.9,235.6 309.5,229.4 306.1,223.1 302.5,216.6 298.9,210.0 295.2,203.1 291.5,196.0 287.6,188.7 283.8,181.2 279.8,173.5 275.8,165.4 271.7,157.1 267.6,148.5 263.5,139.6 259.2,130.3 255.0,120.7 250.6,110.6 246.3,100.1 241.9,89.0 237.4,77.5" fill="none" stroke="#e8e8e8" stroke-width="1.3" stroke-dasharray="2 4.2"/>
<line x1="-320.5" y1="622.5" x2="81.5" y2="77.5" stroke="#a0a0a0" stroke-width="1" shape-rendering="crispEdges"/>
<line x1="-270.2" y1="622.5" x2="131.7" y2="77.5" stroke="#a0a0a0" stroke-width="1" shape-rendering="crispEdges"/>
<line x1="-220.0" y1="622.5" x2="182.0" y2="77.5" stroke="#a0a0a0" stroke-width="1" shape-rendering="crispEdges"/>
<line x1="-169.8" y1="622.5" x2="232.2" y2="77.5" stroke="#a0a0a0" stroke-width="1" shape-rendering="crispEdges"/>
<line x1="-119.5" y1="622.5" x2="282.5" y2="77.5" stroke="#a0a0a0" stroke-width="1" shape-rendering="crispEdges"/>
<line x1="-69.2" y1="622.5" x2="332.7" y2="77.5" stroke="#a0a0a0" stroke-width="1" shape-rendering="crispEdges"/>
<line x1="-19.0" y1="622.5" x2="383.0" y2="77.5" stroke="#a0a0a0" stroke-width="1" shape-rendering="crispEdges"/>
<line x1="31.2" y1="622.5" x2="433.2" y2="77.5" stroke="#a0a0a0" stroke-width="1" shape-rendering="crispEdges"/>
<line x1="81.5" y1="622.5" x2="483.5" y2="77.5" stroke="#a0a0a0" stroke-width="1" shape-rendering="crispEdges"/>
<line x1="131.8" y1="622.5" x2="533.7" y2="77.5" stroke="#a0a0a0" stroke-width="1" shape-rendering="crispEdges"/>
<line x1="182.0" y1="622.5" x2="584.0" y2="77.5" stroke="#a0a0a0" stroke-width="1" shape-rendering="crispEdges"/>
<line x1="232.2" y1="622.5" x2="634.2" y2="77.5" stroke="#a0a0a0" stroke-width="1" shape-rendering="crispEdges"/>
<line x1="282.5" y1="622.5" x2="684.5" y2="77.5" stroke="#a0a0a0" stroke-width="1" shape-rendering="crispEdges"/>
<line x1="332.8" y1="622.5" x2="734.7" y2="77.5" stroke="#a0a0a0" stroke-width="1" shape-rendering="crispEdges"/>
<line x1="383.0" y1="622.5" x2="785.0" y2="77.5" stroke="#a0a0a0" stroke-width="1" shape-rendering="crispEdges"/>
<line x1="433.2" y1="622.5" x2="835.2" y2="77.5" stroke="#a0a0a0" stroke-width="1" shape-rendering="crispEdges"/>
<line x1="483.5" y1="622.5" x2="885.5" y2="77.5" stroke="#a0a0a0" stroke-width="1" shape-rendering="crispEdges"/>
<line x1="81.5" y1="241.5" x2="483.5" y2="241.5" stroke="#a0a0a0" stroke-width="1"/>
<line x1="81.5" y1="337.5" x2="483.5" y2="337.5" stroke="#a0a0a0" stroke-width="1"/>
<line x1="81.5" y1="405.5" x2="483.5" y2="405.5" stroke="#a0a0a0" stroke-width="1"/>
<line x1="81.5" y1="458.5" x2="483.5" y2="458.5" stroke="#a0a0a0" stroke-width="1"/>
<line x1="81.5" y1="501.5" x2="483.5" y2="501.5" stroke="#a0a0a0" stroke-width="1"/>
<line x1="81.5" y1="538.5" x2="483.5" y2="538.5" stroke="#a0a0a0" stroke-width="1"/>
<line x1="81.5" y1="570.5" x2="483.5" y2="570.5" stroke="#a0a0a0" stroke-width="1"/>
<line x1="81.5" y1="598.5" x2="483.5" y2="598.5" stroke="#a0a0a0" stroke-width="1"/>
</g>
<polyline points="483.5,95 483.5,622.5 81.5,622.5 81.5,77.5 483.5,77.5" fill="none" stroke="#a0a0a0" stroke-width="1"/>
<line x1="86.5" y1="70.5" x2="93.2" y2="64.0" stroke="#fff" stroke-width="1.1"/>
<text transform="translate(97.8,63.4) rotate(-45)" font-size="14" letter-spacing="3.6" fill="#fff">120</text>
<line x1="136.7" y1="70.5" x2="143.4" y2="64.0" stroke="#fff" stroke-width="1.1"/>
<text transform="translate(148.1,63.4) rotate(-45)" font-size="14" letter-spacing="3.6" fill="#fff">110</text>
<line x1="187.0" y1="70.5" x2="193.7" y2="64.0" stroke="#fff" stroke-width="1.1"/>
<text transform="translate(198.3,63.4) rotate(-45)" font-size="14" letter-spacing="3.6" fill="#fff">100</text>
<line x1="237.2" y1="70.5" x2="243.9" y2="64.0" stroke="#fff" stroke-width="1.1"/>
<text transform="translate(248.6,63.4) rotate(-45)" font-size="14" letter-spacing="3.6" fill="#fff">90</text>
<line x1="287.5" y1="70.5" x2="294.2" y2="64.0" stroke="#fff" stroke-width="1.1"/>
<text transform="translate(298.8,63.4) rotate(-45)" font-size="14" letter-spacing="3.6" fill="#fff">80</text>
<line x1="337.7" y1="70.5" x2="344.4" y2="64.0" stroke="#fff" stroke-width="1.1"/>
<text transform="translate(349.1,63.4) rotate(-45)" font-size="14" letter-spacing="3.6" fill="#fff">70</text>
<line x1="388.0" y1="70.5" x2="394.7" y2="64.0" stroke="#fff" stroke-width="1.1"/>
<text transform="translate(399.3,63.4) rotate(-45)" font-size="14" letter-spacing="3.6" fill="#fff">60</text>
<line x1="438.2" y1="70.5" x2="444.9" y2="64.0" stroke="#fff" stroke-width="1.1"/>
<text transform="translate(449.6,63.4) rotate(-45)" font-size="14" letter-spacing="3.6" fill="#fff">50</text>
<line x1="488.5" y1="70.5" x2="495.2" y2="64.0" stroke="#fff" stroke-width="1.1"/>
<text transform="translate(499.8,63.4) rotate(-45)" font-size="14" letter-spacing="3.6" fill="#fff">40</text>
<line x1="488.7" y1="139.0" x2="495.4" y2="132.5" stroke="#fff" stroke-width="1.1"/>
<text transform="translate(500.0,131.9) rotate(-45)" font-size="14" letter-spacing="3.6" fill="#fff">30</text>
<line x1="488.7" y1="207.1" x2="495.4" y2="200.6" stroke="#fff" stroke-width="1.1"/>
<text transform="translate(500.0,200.1) rotate(-45)" font-size="14" letter-spacing="3.6" fill="#fff">20</text>
<line x1="488.7" y1="275.3" x2="495.4" y2="268.8" stroke="#fff" stroke-width="1.1"/>
<text transform="translate(500.0,268.2) rotate(-45)" font-size="14" letter-spacing="3.6" fill="#fff">10</text>
<text transform="translate(492.2,344.1) rotate(-45)" font-size="14" letter-spacing="3.6" fill="#fff">0</text>
<text transform="translate(492.2,412.2) rotate(-45)" font-size="14" letter-spacing="3.6" fill="#fff">10</text>
<text transform="translate(492.2,480.4) rotate(-45)" font-size="14" letter-spacing="3.6" fill="#fff">20</text>
<text transform="translate(492.2,548.5) rotate(-45)" font-size="14" letter-spacing="3.6" fill="#fff">30</text>
<text transform="translate(492.2,616.6) rotate(-45)" font-size="14" letter-spacing="3.6" fill="#fff">40</text>
<g clip-path="url(#box)"><text transform="translate(116.3,97.0) rotate(76.4)" font-size="13.5" fill="#f0c890" text-anchor="middle" dominant-baseline="central">303</text></g>
<g clip-path="url(#box)"><text transform="translate(142.9,96.6) rotate(74.7)" font-size="13.5" fill="#f0c890" text-anchor="middle" dominant-baseline="central">313</text></g>
<g clip-path="url(#box)"><text transform="translate(169.5,96.3) rotate(73.0)" font-size="13.5" fill="#f0c890" text-anchor="middle" dominant-baseline="central">323</text></g>
<g clip-path="url(#box)"><text transform="translate(196.2,96.0) rotate(71.3)" font-size="13.5" fill="#f0c890" text-anchor="middle" dominant-baseline="central">333</text></g>
<g clip-path="url(#box)"><text transform="translate(222.8,95.7) rotate(69.7)" font-size="13.5" fill="#f0c890" text-anchor="middle" dominant-baseline="central">343</text></g>
<g clip-path="url(#box)"><text transform="translate(249.4,95.4) rotate(68.1)" font-size="13.5" fill="#f0c890" text-anchor="middle" dominant-baseline="central">353</text></g>
<g clip-path="url(#box)"><text transform="translate(276.0,95.2) rotate(66.5)" font-size="13.5" fill="#f0c890" text-anchor="middle" dominant-baseline="central">363</text></g>
<g clip-path="url(#box)"><text transform="translate(302.6,94.9) rotate(64.9)" font-size="13.5" fill="#f0c890" text-anchor="middle" dominant-baseline="central">373</text></g>
<g clip-path="url(#box)"><text transform="translate(329.2,94.6) rotate(63.4)" font-size="13.5" fill="#f0c890" text-anchor="middle" dominant-baseline="central">383</text></g>
<g clip-path="url(#box)"><text transform="translate(355.8,94.4) rotate(62.0)" font-size="13.5" fill="#f0c890" text-anchor="middle" dominant-baseline="central">393</text></g>
<g clip-path="url(#box)"><text transform="translate(382.4,94.1) rotate(60.6)" font-size="13.5" fill="#f0c890" text-anchor="middle" dominant-baseline="central">403</text></g>
<g clip-path="url(#box)"><text transform="translate(409.0,93.9) rotate(59.2)" font-size="13.5" fill="#f0c890" text-anchor="middle" dominant-baseline="central">413</text></g>
<g clip-path="url(#box)"><text transform="translate(435.6,93.7) rotate(57.8)" font-size="13.5" fill="#f0c890" text-anchor="middle" dominant-baseline="central">423</text></g>
<g clip-path="url(#box)"><text transform="translate(462.2,93.5) rotate(56.5)" font-size="13.5" fill="#f0c890" text-anchor="middle" dominant-baseline="central">433</text></g>
<g clip-path="url(#box)"><text transform="translate(488.8,93.3) rotate(55.2)" font-size="13.5" fill="#f0c890" text-anchor="middle" dominant-baseline="central">443</text></g>
<text transform="translate(96.7,552.6) rotate(57.8)" font-size="13.5" fill="#f0c890" text-anchor="middle" dominant-baseline="central">243</text>
<text transform="translate(96.2,476.7) rotate(60.8)" font-size="13.5" fill="#f0c890" text-anchor="middle" dominant-baseline="central">253</text>
<text transform="translate(95.7,398.3) rotate(64.0)" font-size="13.5" fill="#f0c890" text-anchor="middle" dominant-baseline="central">263</text>
<text transform="translate(95.2,315.3) rotate(67.6)" font-size="13.5" fill="#f0c890" text-anchor="middle" dominant-baseline="central">273</text>
<text transform="translate(94.6,224.3) rotate(71.7)" font-size="13.5" fill="#f0c890" text-anchor="middle" dominant-baseline="central">283</text>
<text transform="translate(93.9,116.8) rotate(76.9)" font-size="13.5" fill="#f0c890" text-anchor="middle" dominant-baseline="central">293</text>
<text transform="translate(92.4,235) rotate(55)" font-size="12.5" letter-spacing="0.8" fill="#80ccff" text-anchor="end" dominant-baseline="central">0</text>
<text transform="translate(116.3,235) rotate(55)" font-size="12.5" letter-spacing="0.8" fill="#80ccff" text-anchor="end" dominant-baseline="central">4</text>
<text transform="translate(143.6,235) rotate(55)" font-size="12.5" letter-spacing="0.8" fill="#80ccff" text-anchor="end" dominant-baseline="central">8</text>
<text transform="translate(175.3,235) rotate(55)" font-size="12.5" letter-spacing="0.8" fill="#80ccff" text-anchor="end" dominant-baseline="central">12</text>
<text transform="translate(212.9,235) rotate(55)" font-size="12.5" letter-spacing="0.8" fill="#80ccff" text-anchor="end" dominant-baseline="central">16</text>
<text transform="translate(257.7,235) rotate(55)" font-size="12.5" letter-spacing="0.8" fill="#80ccff" text-anchor="end" dominant-baseline="central">20</text>
<text transform="translate(309.4,235) rotate(55)" font-size="12.5" letter-spacing="0.8" fill="#80ccff" text-anchor="end" dominant-baseline="central">24</text>
<text transform="translate(369.6,235) rotate(55)" font-size="12.5" letter-spacing="0.8" fill="#80ccff" text-anchor="end" dominant-baseline="central">28</text>
<text transform="translate(432.4,235) rotate(55)" font-size="12.5" letter-spacing="0.8" fill="#80ccff" text-anchor="end" dominant-baseline="central">32</text>
<text transform="translate(157.1,465.5) rotate(-53)" font-size="12" letter-spacing="1.4" fill="#d0d0d0" text-anchor="middle" dominant-baseline="central">0.1</text>
<text transform="translate(189.1,465.5) rotate(-53)" font-size="12" letter-spacing="1.4" fill="#d0d0d0" text-anchor="middle" dominant-baseline="central">0.2</text>
<text transform="translate(223.2,465.5) rotate(-53)" font-size="12" letter-spacing="1.4" fill="#d0d0d0" text-anchor="middle" dominant-baseline="central">0.4</text>
<text transform="translate(271.9,465.5) rotate(-53)" font-size="12" letter-spacing="1.4" fill="#d0d0d0" text-anchor="middle" dominant-baseline="central">1.0</text>
<text transform="translate(311.8,465.5) rotate(-53)" font-size="12" letter-spacing="1.4" fill="#d0d0d0" text-anchor="middle" dominant-baseline="central">2.0</text>
<text transform="translate(336.5,465.5) rotate(-53)" font-size="12" letter-spacing="1.4" fill="#d0d0d0" text-anchor="middle" dominant-baseline="central">3.0</text>
<text transform="translate(369.1,465.5) rotate(-53)" font-size="12" letter-spacing="1.4" fill="#d0d0d0" text-anchor="middle" dominant-baseline="central">5.0</text>
<text transform="translate(400.7,465.5) rotate(-53)" font-size="12" letter-spacing="1.4" fill="#d0d0d0" text-anchor="middle" dominant-baseline="central">8.0</text>
<text transform="translate(432.1,460.5) rotate(-53)" font-size="12" letter-spacing="1.4" fill="#d0d0d0" text-anchor="middle" dominant-baseline="central">12.0</text>
<text transform="translate(469.4,460.5) rotate(-53)" font-size="12" letter-spacing="1.4" fill="#d0d0d0" text-anchor="middle" dominant-baseline="central">20.0</text>
<line x1="40.5" y1="77" x2="40.5" y2="623" stroke="#a0a0a0"/>
<line x1="36" y1="84.5" x2="40" y2="84.5" stroke="#a0a0a0"/>
<text x="33" y="88.6" text-anchor="end" font-size="11.2" fill="#a0a0a0" textLength="11" lengthAdjust="spacingAndGlyphs">16</text>
<line x1="36" y1="121.5" x2="40" y2="121.5" stroke="#a0a0a0"/>
<text x="33" y="125.6" text-anchor="end" font-size="11.2" fill="#a0a0a0" textLength="11" lengthAdjust="spacingAndGlyphs">15</text>
<line x1="36" y1="158.5" x2="40" y2="158.5" stroke="#a0a0a0"/>
<text x="33" y="162.6" text-anchor="end" font-size="11.2" fill="#a0a0a0" textLength="11" lengthAdjust="spacingAndGlyphs">14</text>
<line x1="36" y1="196.5" x2="40" y2="196.5" stroke="#a0a0a0"/>
<text x="33" y="200.6" text-anchor="end" font-size="11.2" fill="#a0a0a0" textLength="11" lengthAdjust="spacingAndGlyphs">13</text>
<line x1="36" y1="233.5" x2="40" y2="233.5" stroke="#a0a0a0"/>
<text x="33" y="237.6" text-anchor="end" font-size="11.2" fill="#a0a0a0" textLength="11" lengthAdjust="spacingAndGlyphs">12</text>
<line x1="36" y1="271.5" x2="40" y2="271.5" stroke="#a0a0a0"/>
<text x="33" y="275.6" text-anchor="end" font-size="11.2" fill="#a0a0a0" textLength="11" lengthAdjust="spacingAndGlyphs">11</text>
<line x1="36" y1="307.5" x2="40" y2="307.5" stroke="#a0a0a0"/>
<text x="33" y="311.6" text-anchor="end" font-size="11.2" fill="#a0a0a0" textLength="11" lengthAdjust="spacingAndGlyphs">10</text>
<line x1="36" y1="343.5" x2="40" y2="343.5" stroke="#a0a0a0"/>
<text x="33" y="347.6" text-anchor="end" font-size="11.2" fill="#a0a0a0" >9</text>
<line x1="36" y1="378.5" x2="40" y2="378.5" stroke="#a0a0a0"/>
<text x="33" y="382.6" text-anchor="end" font-size="11.2" fill="#a0a0a0" >8</text>
<line x1="36" y1="412.5" x2="40" y2="412.5" stroke="#a0a0a0"/>
<text x="33" y="416.6" text-anchor="end" font-size="11.2" fill="#a0a0a0" >7</text>
<line x1="36" y1="445.5" x2="40" y2="445.5" stroke="#a0a0a0"/>
<text x="33" y="449.6" text-anchor="end" font-size="11.2" fill="#a0a0a0" >6</text>
<line x1="36" y1="477.5" x2="40" y2="477.5" stroke="#a0a0a0"/>
<text x="33" y="481.6" text-anchor="end" font-size="11.2" fill="#a0a0a0" >5</text>
<line x1="36" y1="508.5" x2="40" y2="508.5" stroke="#a0a0a0"/>
<text x="33" y="512.6" text-anchor="end" font-size="11.2" fill="#a0a0a0" >4</text>
<line x1="36" y1="538.5" x2="40" y2="538.5" stroke="#a0a0a0"/>
<text x="33" y="542.6" text-anchor="end" font-size="11.2" fill="#a0a0a0" >3</text>
<line x1="36" y1="568.5" x2="40" y2="568.5" stroke="#a0a0a0"/>
<text x="33" y="572.6" text-anchor="end" font-size="11.2" fill="#a0a0a0" >2</text>
<line x1="36" y1="597.5" x2="40" y2="597.5" stroke="#a0a0a0"/>
<text x="33" y="601.6" text-anchor="end" font-size="11.2" fill="#a0a0a0" >1</text>
<text x="76" y="83" text-anchor="end" font-size="15.5" fill="#fff" textLength="23.5" lengthAdjust="spacingAndGlyphs">100</text>
<text x="76" y="247" text-anchor="end" font-size="15.5" fill="#fff" textLength="23.5" lengthAdjust="spacingAndGlyphs">200</text>
<text x="76" y="343" text-anchor="end" font-size="15.5" fill="#fff" textLength="23.5" lengthAdjust="spacingAndGlyphs">300</text>
<text x="76" y="411" text-anchor="end" font-size="15.5" fill="#fff" textLength="23.5" lengthAdjust="spacingAndGlyphs">400</text>
<text x="76" y="464" text-anchor="end" font-size="15.5" fill="#fff" textLength="23.5" lengthAdjust="spacingAndGlyphs">500</text>
<text x="76" y="507" text-anchor="end" font-size="15.5" fill="#fff" textLength="23.5" lengthAdjust="spacingAndGlyphs">600</text>
<text x="76" y="544" text-anchor="end" font-size="15.5" fill="#fff" textLength="23.5" lengthAdjust="spacingAndGlyphs">700</text>
<text x="76" y="576" text-anchor="end" font-size="15.5" fill="#fff" textLength="23.5" lengthAdjust="spacingAndGlyphs">800</text>
<text x="76" y="604" text-anchor="end" font-size="15.5" fill="#fff" textLength="23.5" lengthAdjust="spacingAndGlyphs">900</text>
<text x="76" y="628" text-anchor="end" font-size="15.5" fill="#fff" textLength="30.5" lengthAdjust="spacingAndGlyphs">1000</text>
<polygon points="332.2,412.4 341.5,411.0 342.3,416.8 331.4,418.4 312.0,422.5 311.5,420.5 323.6,416.8 332.2,414.5" fill="#00f000"/>
<polygon points="324.5,458.0 335.6,458.2 336.8,461.7 329.4,463.3 320.9,464.5 322.0,461.0" fill="#00f000"/>
<polygon points="318.5,466.5 323.2,466.4 339.5,468.5 340.0,471.0 329.4,473.4 337.2,475.5 343.4,476.1 343.4,478.0 330.0,474.0 314.5,472.5" fill="#00f000"/>
<polygon points="343.3,480.0 354.5,481.3 353.6,483.6 344.2,486.4 342.0,483.0" fill="#00f000"/>
<polygon points="333.0,488.5 342.4,489.5 352.6,491.5 351.7,494.0 343.3,494.8 329.3,497.8 334.0,493.0" fill="#00f000"/>
<polygon points="363.3,525.0 377.3,525.0 377.3,531.5 365.2,530.5 353.0,527.2" fill="#00f000"/>
<polyline points="236.0,77.0 234.0,85.0 232.5,93.0 234.0,101.0 235.0,107.0 238.5,115.0 244.0,121.0 240.0,129.0 242.5,132.0 236.5,137.0 234.0,144.5 231.0,155.0 232.0,163.0 235.5,168.0 244.8,181.7 248.0,191.0 249.5,200.4 255.7,212.8 260.4,223.7 265.0,234.5 266.0,239.0 271.0,245.0 274.0,249.0 278.6,256.2 279.4,265.5 276.3,271.7 275.5,278.0 281.7,278.7 280.2,283.4 277.9,286.5 288.0,293.5 294.2,299.7 298.8,305.9 301.1,312.1 295.0,315.2 294.2,319.9 298.8,325.3 311.2,328.4 323.7,332.3 327.5,335.4 326.8,341.6 328.0,347.8 326.5,358.6 327.3,363.3 323.4,368.0 320.3,373.4 326.5,377.3 326.5,381.1 320.3,382.0 319.5,389.7 327.3,392.8 333.5,395.9 335.0,401.3 340.5,405.4 341.5,410.0 341.8,416.3 331.4,417.9 312.5,421.7 324.4,422.5 327.5,424.1 338.4,424.8 346.5,433.4 348.0,437.3 346.5,440.0 341.8,442.3 333.3,449.3 325.5,454.8 324.8,458.6 335.6,459.4 332.5,461.7 320.9,464.0 318.5,467.2 314.7,471.8 324.0,471.0 339.5,469.5 339.5,471.0 329.4,473.4 337.2,475.7 341.4,477.8 343.3,480.6 354.0,481.5 353.6,483.4 344.2,486.2 333.0,489.0 342.4,489.9 352.6,491.8 351.7,493.6 343.3,494.6 329.3,497.4 334.9,499.2 337.7,503.0 341.4,505.8 359.1,506.5 367.0,506.5 368.0,510.6 369.8,517.1 372.6,520.8 376.3,523.6 377.3,525.5 363.3,525.5 353.0,526.9 365.2,530.2 377.3,531.1 379.1,533.9 377.3,537.6 374.5,542.3 376.0,546.0 376.3,549.8 369.8,550.9 369.8,554.1 344.8,554.1 341.0,556.3 342.6,559.0 360.0,562.8 374.1,563.4 378.5,567.2 380.6,571.5 388.3,575.9 391.4,581.2 389.6,587.7 385.4,591.9 392.4,597.0 395.2,601.7 400.8,606.3 404.5,609.1 402.6,616.6 398.9,622.0" fill="none" stroke="#00f000" stroke-width="2.3" stroke-linejoin="round"/>
<polyline points="300.7,77.0 300.0,85.5 300.7,98.0 300.0,105.7 298.4,113.5 291.4,122.8 279.0,129.0 277.5,132.1 266.6,136.8 260.4,144.5 256.5,153.9 255.7,160.0 258.0,169.4 260.4,175.5 266.6,189.5 271.2,198.8 279.0,214.3 285.2,225.2 293.0,239.2 297.5,249.3 302.0,258.6 308.3,272.6 314.5,286.6 320.7,299.0 327.0,311.4 333.2,325.4 334.0,333.6 337.1,342.3 344.6,353.4 349.6,363.3 353.3,372.0 357.0,382.0 358.2,389.3 359.4,404.2 358.3,406.8 362.2,414.5 364.5,425.4 370.0,433.2 371.4,442.4 377.6,450.2 382.3,456.4 384.6,464.2 386.2,471.9 382.3,484.3 384.6,496.8 385.4,507.6 389.3,517.0 388.5,524.7 382.8,532.4 392.1,548.0 398.3,555.7 399.9,563.5 399.8,570.0 398.0,573.7 397.5,581.2 400.8,590.5 404.5,598.0 407.3,609.1 422.0,621.0" fill="none" stroke="#00f000" stroke-width="2.3" stroke-linejoin="round"/>
<polyline points="584.5,105.9 600.2,85.8" fill="none" stroke="#00e000" stroke-width="1"/>
<polyline points="600.2,85.8 609.9,88.0" fill="none" stroke="#00e000" stroke-width="1"/>
<polyline points="584.5,115.1 601.3,95.5" fill="none" stroke="#00e000" stroke-width="1"/>
<polyline points="601.3,95.5 610.9,98.2" fill="none" stroke="#00e000" stroke-width="1"/>
<polyline points="598.7,98.5 603.5,99.9" fill="none" stroke="#00e000" stroke-width="1"/>
<polyline points="584.5,122.7 605.7,106.4" fill="none" stroke="#00e000" stroke-width="1"/>
<polyline points="605.7,106.4 614.6,111.0" fill="none" stroke="#00e000" stroke-width="1"/>
<polyline points="602.5,108.8 611.4,113.4" fill="none" stroke="#00e000" stroke-width="1"/>
<polyline points="584.5,130.3 606.2,116.7" fill="none" stroke="#00e000" stroke-width="1"/>
<polyline points="606.2,116.7 614.6,122.1" fill="none" stroke="#00e000" stroke-width="1"/>
<polyline points="602.8,118.8 611.2,124.3" fill="none" stroke="#00e000" stroke-width="1"/>
<polyline points="584.5,138.9 603.5,130.5" fill="none" stroke="#00e000" stroke-width="1"/>
<polyline points="603.5,130.5 611.0,137.1" fill="none" stroke="#00e000" stroke-width="1"/>
<polyline points="599.8,132.1 607.4,138.7" fill="none" stroke="#00e000" stroke-width="1"/>
<polyline points="584.5,146.8 609.1,136.0" fill="none" stroke="#00e000" stroke-width="1"/>
<polyline points="609.1,136.0 616.6,142.6" fill="none" stroke="#00e000" stroke-width="1"/>
<polyline points="605.4,137.6 613.0,144.2" fill="none" stroke="#00e000" stroke-width="1"/>
<polyline points="601.8,139.2 609.3,145.8" fill="none" stroke="#00e000" stroke-width="1"/>
<polyline points="598.1,140.8 601.9,144.1" fill="none" stroke="#00e000" stroke-width="1"/>
<polyline points="584.5,162.6 608.2,151.4" fill="none" stroke="#00e000" stroke-width="1"/>
<polyline points="608.2,151.4 615.9,157.8" fill="none" stroke="#00e000" stroke-width="1"/>
<polyline points="604.6,153.1 612.3,159.5" fill="none" stroke="#00e000" stroke-width="1"/>
<polyline points="584.5,171.5 607.3,159.4" fill="none" stroke="#00e000" stroke-width="1"/>
<polyline points="607.3,159.4 615.3,165.4" fill="none" stroke="#00e000" stroke-width="1"/>
<polyline points="603.8,161.3 607.8,164.3" fill="none" stroke="#00e000" stroke-width="1"/>
<polyline points="584.5,180.8 607.3,167.7" fill="none" stroke="#00e000" stroke-width="1"/>
<polyline points="607.3,167.7 615.5,173.5" fill="none" stroke="#00e000" stroke-width="1"/>
<polyline points="603.8,169.7 607.9,172.6" fill="none" stroke="#00e000" stroke-width="1"/>
<polyline points="584.5,192.5 608.2,181.3" fill="none" stroke="#00e000" stroke-width="1"/>
<polyline points="608.2,181.3 615.9,187.7" fill="none" stroke="#00e000" stroke-width="1"/>
<polyline points="604.6,183.0 612.3,189.4" fill="none" stroke="#00e000" stroke-width="1"/>
<polyline points="584.5,202.2 608.2,194.3" fill="none" stroke="#00e000" stroke-width="1"/>
<polyline points="608.2,194.3 615.1,201.6" fill="none" stroke="#00e000" stroke-width="1"/>
<polyline points="604.4,195.6 611.3,202.8" fill="none" stroke="#00e000" stroke-width="1"/>
<polyline points="584.5,212.5 608.7,204.1" fill="none" stroke="#00e000" stroke-width="1"/>
<polyline points="608.7,204.1 615.7,211.3" fill="none" stroke="#00e000" stroke-width="1"/>
<polyline points="604.9,205.4 608.4,209.0" fill="none" stroke="#00e000" stroke-width="1"/>
<polyline points="584.5,221.3 610.0,214.4" fill="none" stroke="#00e000" stroke-width="1"/>
<polyline points="610.0,214.4 616.4,222.0" fill="none" stroke="#00e000" stroke-width="1"/>
<polyline points="606.1,215.4 609.4,219.3" fill="none" stroke="#00e000" stroke-width="1"/>
<polyline points="584.5,229.7 610.5,225.0" fill="none" stroke="#00e000" stroke-width="1"/>
<polyline points="610.5,225.0 616.3,233.2" fill="none" stroke="#00e000" stroke-width="1"/>
<polyline points="606.6,225.7 609.4,229.8" fill="none" stroke="#00e000" stroke-width="1"/>
<polyline points="584.5,238.6 610.5,236.3" fill="none" stroke="#00e000" stroke-width="1"/>
<polyline points="610.5,236.3 615.5,245.0" fill="none" stroke="#00e000" stroke-width="1"/>
<polyline points="606.5,236.7 609.0,241.0" fill="none" stroke="#00e000" stroke-width="1"/>
<polyline points="584.5,246.5 611.0,245.1" fill="none" stroke="#00e000" stroke-width="1"/>
<polyline points="611.0,245.1 615.7,253.9" fill="none" stroke="#00e000" stroke-width="1"/>
<polyline points="584.5,253.5 611.0,250.3" fill="none" stroke="#00e000" stroke-width="1"/>
<polyline points="611.0,250.3 616.3,258.8" fill="none" stroke="#00e000" stroke-width="1"/>
<polyline points="584.5,261.4 610.0,254.4" fill="none" stroke="#00e000" stroke-width="1"/>
<polyline points="610.0,254.4 616.5,262.0" fill="none" stroke="#00e000" stroke-width="1"/>
<polyline points="584.5,268.0 610.0,262.4" fill="none" stroke="#00e000" stroke-width="1"/>
<polyline points="610.0,262.4 616.1,270.3" fill="none" stroke="#00e000" stroke-width="1"/>
<polyline points="606.1,263.3 609.1,267.2" fill="none" stroke="#00e000" stroke-width="1"/>
<polyline points="584.5,274.5 609.0,262.0" fill="none" stroke="#00e000" stroke-width="1"/>
<polyline points="609.0,262.0 616.9,268.2" fill="none" stroke="#00e000" stroke-width="1"/>
<polyline points="584.5,281.0 606.0,262.0" fill="none" stroke="#00e000" stroke-width="1"/>
<polyline points="606.0,262.0 615.2,266.0" fill="none" stroke="#00e000" stroke-width="1"/>
<polyline points="584.5,286.6 603.0,263.0" fill="none" stroke="#00e000" stroke-width="1"/>
<polyline points="603.0,263.0 612.7,265.3" fill="none" stroke="#00e000" stroke-width="1"/>
<polyline points="584.5,292.7 599.4,271.2" fill="none" stroke="#00e000" stroke-width="1"/>
<polyline points="599.4,271.2 609.3,272.9" fill="none" stroke="#00e000" stroke-width="1"/>
<polyline points="584.5,299.6 602.6,282.4" fill="none" stroke="#00e000" stroke-width="1"/>
<polyline points="602.6,282.4 611.9,286.1" fill="none" stroke="#00e000" stroke-width="1"/>
<polyline points="599.7,285.2 604.4,287.0" fill="none" stroke="#00e000" stroke-width="1"/>
<polyline points="584.5,304.0 599.0,289.0" fill="none" stroke="#00e000" stroke-width="1"/>
<polyline points="596.2,291.9 600.9,293.5" fill="none" stroke="#00e000" stroke-width="1"/>
<polyline points="584.5,309.0 598.9,295.0" fill="none" stroke="#00e000" stroke-width="1"/>
<polyline points="596.0,297.8 600.7,299.6" fill="none" stroke="#00e000" stroke-width="1"/>
<polyline points="584.5,314.6 599.8,297.8" fill="none" stroke="#00e000" stroke-width="1"/>
<polyline points="599.8,297.8 609.3,300.8" fill="none" stroke="#00e000" stroke-width="1"/>
<polyline points="597.1,300.8 601.9,302.2" fill="none" stroke="#00e000" stroke-width="1"/>
<polyline points="584.5,320.2 598.0,300.0" fill="none" stroke="#00e000" stroke-width="1"/>
<polyline points="595.8,303.3 600.7,304.1" fill="none" stroke="#00e000" stroke-width="1"/>
<polyline points="584.5,325.8 597.5,309.9" fill="none" stroke="#00e000" stroke-width="1"/>
<polyline points="595.0,313.0 599.8,314.2" fill="none" stroke="#00e000" stroke-width="1"/>
<polyline points="584.5,332.3 595.0,315.0" fill="none" stroke="#00e000" stroke-width="1"/>
<polyline points="592.9,318.4 597.9,319.0" fill="none" stroke="#00e000" stroke-width="1"/>
<polyline points="584.5,339.7 605.0,321.1" fill="none" stroke="#00e000" stroke-width="1"/>
<polyline points="602.0,323.8 606.6,325.7" fill="none" stroke="#00e000" stroke-width="1"/>
<polyline points="584.5,345.8 605.9,330.4" fill="none" stroke="#00e000" stroke-width="1"/>
<polyline points="602.7,332.7 607.0,335.2" fill="none" stroke="#00e000" stroke-width="1"/>
<polyline points="584.5,351.8 608.2,341.1" fill="none" stroke="#00e000" stroke-width="1"/>
<polyline points="608.2,341.1 615.8,347.6" fill="none" stroke="#00e000" stroke-width="1"/>
<polyline points="584.5,358.9 609.6,348.6" fill="none" stroke="#00e000" stroke-width="1"/>
<polyline points="609.6,348.6 617.0,355.4" fill="none" stroke="#00e000" stroke-width="1"/>
<polyline points="584.5,364.0 611.0,358.4" fill="none" stroke="#00e000" stroke-width="1"/>
<polyline points="584.5,391.0 602.6,371.0" fill="none" stroke="#00e000" stroke-width="1"/>
<polyline points="584.5,381.7 610.0,377.5" fill="none" stroke="#00e000" stroke-width="1"/>
<polyline points="606.1,378.2 608.9,382.3" fill="none" stroke="#00e000" stroke-width="1"/>
<polyline points="584.5,387.3 609.1,383.5" fill="none" stroke="#00e000" stroke-width="1"/>
<polyline points="609.1,383.5 614.7,391.8" fill="none" stroke="#00e000" stroke-width="1"/>
<polyline points="584.5,396.6 611.0,383.0" fill="none" stroke="#00e000" stroke-width="1"/>
<polyline points="584.5,402.7 611.0,397.5" fill="none" stroke="#00e000" stroke-width="1"/>
<polyline points="584.5,406.9 611.0,400.3" fill="none" stroke="#00e000" stroke-width="1"/>
<polyline points="584.5,417.4 600.9,405.0" fill="none" stroke="#00e000" stroke-width="1"/>
<polyline points="597.7,407.4 602.1,409.8" fill="none" stroke="#00e000" stroke-width="1"/>
<polyline points="584.5,423.6 605.8,408.7" fill="none" stroke="#00e000" stroke-width="1"/>
<polyline points="602.5,411.0 606.9,413.5" fill="none" stroke="#00e000" stroke-width="1"/>
<polyline points="584.5,428.6 598.0,412.0" fill="none" stroke="#00e000" stroke-width="1"/>
<polyline points="595.5,415.1 600.3,416.3" fill="none" stroke="#00e000" stroke-width="1"/>
<polyline points="584.5,598.4 611.0,596.3" fill="none" stroke="#00e000" stroke-width="1"/>
<polyline points="584.5,605.5 608.4,615.4" fill="none" stroke="#00e000" stroke-width="1"/>
<polyline points="604.7,613.9 604.9,618.9" fill="none" stroke="#00e000" stroke-width="1"/>
<polyline points="584.5,612.5 607.8,624.0" fill="none" stroke="#00e000" stroke-width="1"/>
<polyline points="604.2,622.2 604.1,627.2" fill="none" stroke="#00e000" stroke-width="1"/>
<polyline points="584.5,619.5 607.8,630.3" fill="none" stroke="#00e000" stroke-width="1"/>
<polyline points="604.2,628.6 604.2,633.6" fill="none" stroke="#00e000" stroke-width="1"/>
<polyline points="584.5,370.0 608.7,381.7" fill="none" stroke="#00e000" stroke-width="1"/>
<polyline points="584.5,440.6 565.2,421.2" fill="none" stroke="#00e000" stroke-width="1"/>
<polyline points="567.3,423.3 569.9,419.6" fill="none" stroke="#00e000" stroke-width="1"/>
<polyline points="584.5,446.4 559.5,434.4" fill="none" stroke="#00e000" stroke-width="1"/>
<polyline points="562.2,435.7 563.4,431.4" fill="none" stroke="#00e000" stroke-width="1"/>
<polyline points="584.5,450.5 560.3,437.3" fill="none" stroke="#00e000" stroke-width="1"/>
<polyline points="562.9,438.7 564.4,434.5" fill="none" stroke="#00e000" stroke-width="1"/>
<polyline points="584.5,456.7 562.8,442.3" fill="none" stroke="#00e000" stroke-width="1"/>
<polyline points="565.3,444.0 567.1,439.8" fill="none" stroke="#00e000" stroke-width="1"/>
<polyline points="584.5,462.1 562.4,445.6" fill="none" stroke="#00e000" stroke-width="1"/>
<polyline points="564.8,447.4 566.8,443.4" fill="none" stroke="#00e000" stroke-width="1"/>
<polyline points="584.5,466.7 561.5,451.4" fill="none" stroke="#00e000" stroke-width="1"/>
<polyline points="564.0,453.1 565.8,448.9" fill="none" stroke="#00e000" stroke-width="1"/>
<polyline points="584.5,472.0 558.2,462.5" fill="none" stroke="#00e000" stroke-width="1"/>
<polyline points="561.0,463.5 561.8,459.1" fill="none" stroke="#00e000" stroke-width="1"/>
<polyline points="563.8,464.5 564.6,460.1" fill="none" stroke="#00e000" stroke-width="1"/>
<polyline points="584.5,476.0 559.5,470.4" fill="none" stroke="#00e000" stroke-width="1"/>
<polyline points="562.4,471.1 562.6,466.6" fill="none" stroke="#00e000" stroke-width="1"/>
<polyline points="584.5,481.6 558.2,479.9" fill="none" stroke="#00e000" stroke-width="1"/>
<polyline points="558.2,479.9 557.2,471.0" fill="none" stroke="#00e000" stroke-width="1"/>
<polyline points="584.5,486.5 557.4,485.3" fill="none" stroke="#00e000" stroke-width="1"/>
<polyline points="560.4,485.4 559.8,481.0" fill="none" stroke="#00e000" stroke-width="1"/>
<polyline points="584.5,491.5 557.4,490.2" fill="none" stroke="#00e000" stroke-width="1"/>
<polyline points="560.4,490.3 559.8,485.9" fill="none" stroke="#00e000" stroke-width="1"/>
<polyline points="584.5,497.3 557.4,498.5" fill="none" stroke="#00e000" stroke-width="1"/>
<polyline points="560.4,498.4 559.4,494.0" fill="none" stroke="#00e000" stroke-width="1"/>
<polyline points="584.5,502.2 557.4,504.7" fill="none" stroke="#00e000" stroke-width="1"/>
<polyline points="560.4,504.4 559.2,500.1" fill="none" stroke="#00e000" stroke-width="1"/>
<polyline points="584.5,507.6 557.4,510.0" fill="none" stroke="#00e000" stroke-width="1"/>
<polyline points="557.4,510.0 555.1,501.3" fill="none" stroke="#00e000" stroke-width="1"/>
<polyline points="584.5,512.1 557.4,514.6" fill="none" stroke="#00e000" stroke-width="1"/>
<polyline points="584.5,516.3 557.4,519.0" fill="none" stroke="#00e000" stroke-width="1"/>
<polyline points="560.4,518.7 559.2,514.4" fill="none" stroke="#00e000" stroke-width="1"/>
<polyline points="584.5,521.7 557.4,524.5" fill="none" stroke="#00e000" stroke-width="1"/>
<polyline points="557.4,524.5 554.9,515.8" fill="none" stroke="#00e000" stroke-width="1"/>
<polyline points="560.4,524.2 559.2,519.9" fill="none" stroke="#00e000" stroke-width="1"/>
<polyline points="584.5,526.2 557.4,527.0" fill="none" stroke="#00e000" stroke-width="1"/>
<polyline points="560.4,526.9 559.5,522.5" fill="none" stroke="#00e000" stroke-width="1"/>
<polyline points="584.5,530.5 557.5,527.0" fill="none" stroke="#00e000" stroke-width="1"/>
<polyline points="560.5,527.4 560.3,522.9" fill="none" stroke="#00e000" stroke-width="1"/>
<polyline points="584.5,535.1 558.5,528.9" fill="none" stroke="#00e000" stroke-width="1"/>
<polyline points="561.4,529.6 561.7,525.1" fill="none" stroke="#00e000" stroke-width="1"/>
<polyline points="584.5,540.4 560.4,536.6" fill="none" stroke="#00e000" stroke-width="1"/>
<polyline points="563.4,537.1 563.3,532.6" fill="none" stroke="#00e000" stroke-width="1"/>
<polyline points="584.5,548.1 561.4,544.7" fill="none" stroke="#00e000" stroke-width="1"/>
<polyline points="561.4,544.7 561.1,535.7" fill="none" stroke="#00e000" stroke-width="1"/>
<polyline points="584.5,552.0 560.9,548.6" fill="none" stroke="#00e000" stroke-width="1"/>
<polyline points="563.9,549.0 563.7,544.5" fill="none" stroke="#00e000" stroke-width="1"/>
<polyline points="584.5,556.3 560.4,550.5" fill="none" stroke="#00e000" stroke-width="1"/>
<polyline points="563.3,551.2 563.6,546.7" fill="none" stroke="#00e000" stroke-width="1"/>
<polyline points="584.5,561.6 560.4,554.9" fill="none" stroke="#00e000" stroke-width="1"/>
<polyline points="563.3,555.7 563.7,551.2" fill="none" stroke="#00e000" stroke-width="1"/>
<polyline points="584.5,566.4 559.5,558.7" fill="none" stroke="#00e000" stroke-width="1"/>
<polyline points="562.4,559.6 562.9,555.1" fill="none" stroke="#00e000" stroke-width="1"/>
<polyline points="584.5,570.3 561.4,563.5" fill="none" stroke="#00e000" stroke-width="1"/>
<polyline points="561.4,563.5 562.4,554.6" fill="none" stroke="#00e000" stroke-width="1"/>
<polyline points="584.5,579.0 560.4,570.3" fill="none" stroke="#00e000" stroke-width="1"/>
<polyline points="563.2,571.3 564.0,566.9" fill="none" stroke="#00e000" stroke-width="1"/>
<polyline points="584.5,586.7 559.5,575.1" fill="none" stroke="#00e000" stroke-width="1"/>
<polyline points="562.2,576.4 563.4,572.0" fill="none" stroke="#00e000" stroke-width="1"/>
<polyline points="584.5,579.9 566.2,561.6" fill="none" stroke="#00e000" stroke-width="1"/>
<polyline points="582.2,93.0 560.5,98.4" fill="none" stroke="#00e000" stroke-width="1"/>
<polyline points="558.2,94.1 560.5,98.4 558.2,99.5" fill="none" stroke="#00e000" stroke-width="1"/>
<polyline points="582.2,93.0 578.7,76.6" fill="none" stroke="#00e000" stroke-width="1"/>
<polyline points="578.3,72.4 578.7,76.6 582.6,74.3" fill="none" stroke="#00e000" stroke-width="1"/>
<polyline points="582.2,93.0 576.4,109.3" fill="none" stroke="#00e000" stroke-width="1"/>
<polyline points="577.5,106.5 572.5,106.5" fill="none" stroke="#00e000" stroke-width="1"/>
<polyline points="583.4,86.3 583.4,96.0" fill="none" stroke="#00e000" stroke-width="1"/>
<polyline points="583.5,379.4 579.3,402.7" fill="none" stroke="#00e000" stroke-width="1"/>
<polyline points="581.5,409.0 583.0,430.0" fill="none" stroke="#00e000" stroke-width="1"/>
<polyline points="553.0,502.4 556.8,513.5" fill="none" stroke="#00e000" stroke-width="1"/>
<polyline points="558.6,550.0 558.6,562.4" fill="none" stroke="#00e000" stroke-width="1"/>
<line x1="584.5" y1="77" x2="584.5" y2="623" stroke="#a0a0a0"/>
<text x="510" y="640.8" font-size="15" fill="#e8e8e8" textLength="108.5" lengthAdjust="spacingAndGlyphs">WINDS PROFILE</text>
<polygon points="536,657 536,667 542,667" fill="#fff"/><line x1="536" y1="666.5" x2="564" y2="666.5" stroke="#fff"/>
<text x="566" y="671" font-size="11" fill="#fff" textLength="42" lengthAdjust="spacingAndGlyphs">= 50 M/S</text>
<polyline points="532,684.5 536.5,693.5 564,693.5" fill="none" stroke="#fff"/>
<text x="566" y="698" font-size="11" fill="#fff" textLength="42" lengthAdjust="spacingAndGlyphs">= 10 M/S</text>
<polyline points="537.5,717 539,721 " fill="none" stroke="#fff"/><line x1="536.5" y1="721.5" x2="564" y2="721.5" stroke="#fff"/>
<text x="566" y="725.5" font-size="11" fill="#fff" textLength="36" lengthAdjust="spacingAndGlyphs">= 5 M/S</text>
<rect x="20" y="691" width="377" height="17" fill="#fff"/>
<text x="25" y="702.6" font-size="14" fill="#000" textLength="365" lengthAdjust="spacing">REAL-TIME DATA, NOT CHECKED FOR QUALITY</text>
</svg>
</body></html>
